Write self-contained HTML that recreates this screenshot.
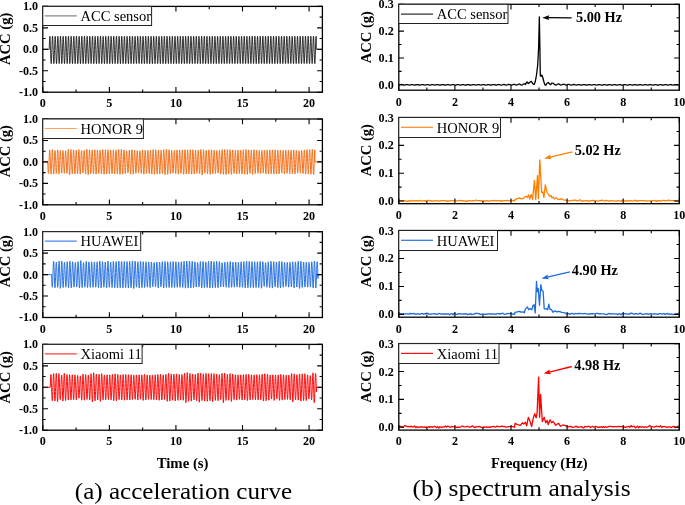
<!DOCTYPE html>
<html><head><meta charset="utf-8"><style>
html,body{margin:0;padding:0;background:#fff;}
svg{display:block;will-change:transform;}
text{font-family:"Liberation Serif", serif;fill:#000;}
.cap{font-family:"Liberation Serif", serif;}
</style></head><body>
<svg width="685" height="505" viewBox="0 0 685 505">
<polyline points="42.80,49.30 49.19,49.30 49.22,48.87 49.37,44.26 49.50,40.83 49.60,38.61 49.74,36.74 49.90,36.30 49.99,36.89 50.17,39.73 50.30,43.03 50.41,46.48 50.54,50.47 50.67,54.64 50.80,58.36 50.95,61.48 51.08,63.24 51.22,63.64 51.37,62.37 51.50,60.19 51.62,57.12 51.77,52.53 51.87,49.57 52.00,45.44 52.15,41.04 52.26,38.79 52.39,36.87 52.55,36.24 52.68,37.16 52.83,39.84 52.95,42.78 53.08,46.55 53.21,50.80 53.33,54.59 53.45,58.03 53.59,61.24 53.75,63.32 53.86,63.67 54.00,62.79 54.12,61.05 54.29,56.81 54.39,53.93 54.53,49.48 54.70,44.29 54.81,41.18 54.96,38.04 55.08,36.59 55.22,36.28 55.32,36.94 55.48,39.41 55.61,42.60 55.76,47.15 55.87,50.57 56.01,55.15 56.12,58.10 56.27,61.43 56.40,63.16 56.52,63.67 56.69,62.50 56.80,60.65 56.97,56.59 57.08,53.21 57.21,48.90 57.35,44.67 57.48,40.96 57.59,38.69 57.74,36.67 57.86,36.22 58.00,37.12 58.12,38.94 58.30,43.28 58.39,46.06 58.55,51.10 58.66,54.68 58.82,59.18 58.95,61.68 59.05,63.07 59.22,63.59 59.36,62.41 59.49,60.06 59.61,57.20 59.72,53.95 59.85,49.61 60.02,44.21 60.14,41.12 60.25,38.66 60.42,36.50 60.54,36.26 60.67,37.22 60.79,39.23 60.93,42.46 61.05,46.10 61.18,50.01 61.35,55.59 61.46,58.65 61.60,61.58 61.72,63.16 61.88,63.61 61.97,62.99 62.13,60.66 62.24,57.97 62.38,53.98 62.56,48.28 62.67,44.64 62.79,41.29 62.93,38.33 63.08,36.50 63.19,36.23 63.34,37.24 63.47,39.57 63.59,42.38 63.73,46.56 63.88,51.26 64.02,55.65 64.11,58.22 64.29,61.92 64.37,63.00 64.54,63.61 64.68,62.50 64.78,60.91 64.92,57.42 65.08,52.83 65.17,49.92 65.33,44.68 65.48,40.81 65.59,38.34 65.74,36.56 65.85,36.22 65.98,37.00 66.12,39.22 66.24,42.13 66.38,46.27 66.55,51.58 66.66,55.11 66.78,58.48 66.91,61.32 67.08,63.41 67.19,63.65 67.35,62.38 67.46,60.50 67.59,57.27 67.75,52.69 67.87,48.66 67.99,44.76 68.12,41.29 68.28,38.02 68.39,36.69 68.55,36.31 68.63,36.92 68.79,39.29 68.92,42.62 69.08,47.29 69.18,50.38 69.34,55.48 69.46,58.93 69.60,61.73 69.73,63.29 69.88,63.57 69.98,62.81 70.12,60.63 70.24,57.73 70.36,54.10 70.51,49.58 70.68,44.23 70.80,40.75 70.90,38.72 71.06,36.60 71.18,36.24 71.32,37.24 71.46,39.54 71.58,42.31 71.74,47.31 71.85,50.75 71.99,55.20 72.13,58.87 72.23,61.23 72.36,63.03 72.51,63.65 72.66,62.53 72.80,60.17 72.93,56.96 73.03,54.00 73.21,48.37 73.33,44.41 73.47,40.70 73.58,38.33 73.74,36.49 73.82,36.22 73.96,36.90 74.09,38.86 74.24,42.23 74.37,46.11 74.50,50.27 74.65,55.10 74.76,58.07 74.92,61.62 75.03,63.09 75.19,63.62 75.29,62.99 75.44,60.73 75.60,56.65 75.71,53.29 75.86,48.55 75.99,44.64 76.12,41.05 76.23,38.65 76.38,36.62 76.49,36.22 76.66,37.38 76.80,39.89 76.93,43.11 77.02,45.78 77.17,50.53 77.30,54.70 77.42,58.17 77.58,61.65 77.73,63.36 77.83,63.66 78.00,62.46 78.13,60.19 78.22,57.83 78.39,52.91 78.53,48.42 78.63,45.38 78.78,41.10 78.92,38.23 79.05,36.60 79.15,36.22 79.32,37.28 79.45,39.51 79.59,43.07 79.72,47.04 79.83,50.51 79.99,55.35 80.13,59.17 80.26,61.88 80.35,63.08 80.48,63.67 80.65,62.61 80.76,60.83 80.91,57.21 81.06,52.61 81.17,49.29 81.29,45.29 81.44,41.25 81.58,38.21 81.68,36.83 81.83,36.23 81.95,36.96 82.11,39.55 82.25,43.08 82.36,46.32 82.50,50.58 82.64,55.06 82.75,58.31 82.89,61.30 83.03,63.16 83.17,63.65 83.28,62.96 83.45,60.24 83.57,57.18 83.69,53.69 83.81,49.81 83.98,44.47 84.08,41.69 84.21,38.70 84.35,36.82 84.48,36.22 84.66,37.45 84.75,39.12 84.89,42.31 85.05,47.09 85.17,51.01 85.28,54.49 85.43,58.61 85.59,61.88 85.69,63.19 85.84,63.62 85.94,62.95 86.11,60.27 86.25,56.89 86.38,52.81 86.51,48.78 86.62,45.10 86.74,41.79 86.90,38.34 87.04,36.54 87.15,36.22 87.28,37.04 87.43,39.41 87.58,42.95 87.72,47.20 87.81,50.16 87.95,54.49 88.11,59.09 88.24,61.67 88.37,63.33 88.52,63.56 88.65,62.41 88.78,60.13 88.91,56.89 89.02,53.53 89.17,48.84 89.28,45.40 89.44,40.85 89.57,38.12 89.70,36.56 89.82,36.24 89.95,37.10 90.09,39.28 90.20,41.92 90.38,47.11 90.49,50.88 90.62,54.82 90.76,58.76 90.90,61.73 91.02,63.19 91.18,63.60 91.31,62.42 91.42,60.64 91.54,57.82 91.70,52.92 91.85,48.23 91.94,45.46 92.10,40.91 92.24,38.06 92.38,36.49 92.47,36.22 92.60,36.94 92.78,39.92 92.87,42.04 93.00,45.99 93.16,50.93 93.28,54.91 93.43,59.02 93.54,61.24 93.71,63.40 93.81,63.67 93.97,62.53 94.06,60.98 94.22,57.34 94.33,54.13 94.48,49.40 94.61,45.19 94.76,40.90 94.88,38.39 95.00,36.86 95.18,36.32 95.31,37.44 95.44,39.84 95.54,42.22 95.68,46.35 95.80,50.34 95.93,54.39 96.06,58.06 96.22,61.54 96.33,63.06 96.47,63.67 96.64,62.47 96.75,60.54 96.87,57.75 97.02,53.07 97.14,49.48 97.28,44.85 97.40,41.48 97.55,38.34 97.69,36.59 97.82,36.25 97.94,37.11 98.10,39.69 98.23,43.14 98.33,46.00 98.46,50.18 98.59,54.37 98.77,59.32 98.90,61.92 99.00,63.12 99.17,63.57 99.26,62.88 99.41,60.51 99.55,57.30 99.70,52.66 99.79,49.87 99.94,45.19 100.08,41.06 100.19,38.77 100.33,36.77 100.48,36.24 100.63,37.44 100.76,39.66 100.89,43.07 101.02,46.97 101.15,51.16 101.29,55.55 101.42,58.93 101.56,61.75 101.67,63.15 101.79,63.67 101.96,62.54 102.06,60.88 102.23,56.68 102.35,53.20 102.47,49.38 102.63,44.20 102.72,41.66 102.87,38.34 102.99,36.84 103.17,36.32 103.28,37.23 103.42,39.71 103.53,42.27 103.69,47.04 103.82,51.15 103.95,55.23 104.10,59.28 104.20,61.47 104.33,63.20 104.48,63.62 104.62,62.48 104.73,60.70 104.88,57.05 104.99,53.84 105.14,48.99 105.28,44.46 105.38,41.78 105.55,38.15 105.64,36.88 105.83,36.31 105.93,37.16 106.06,39.27 106.21,42.91 106.34,46.57 106.48,51.20 106.58,54.32 106.74,58.78 106.87,61.59 107.02,63.41 107.11,63.67 107.27,62.74 107.41,60.38 107.54,57.23 107.64,54.06 107.81,48.92 107.92,45.34 108.05,41.60 108.22,38.02 108.32,36.79 108.46,36.24 108.61,37.34 108.74,39.60 108.87,42.67 109.01,47.04 109.13,50.75 109.27,55.19 109.42,59.11 109.54,61.70 109.67,63.30 109.79,63.65 109.93,62.67 110.06,60.63 110.21,56.94 110.32,53.56 110.46,49.14 110.61,44.48 110.73,41.19 110.85,38.50 111.01,36.52 111.12,36.23 111.28,37.41 111.41,39.69 111.53,42.51 111.67,46.89 111.77,50.00 111.92,54.82 112.08,59.16 112.20,61.61 112.33,63.26 112.47,63.62 112.60,62.59 112.73,60.43 112.86,57.41 112.98,53.88 113.12,49.44 113.25,45.22 113.39,41.29 113.55,37.91 113.65,36.71 113.79,36.24 113.92,37.10 114.06,39.46 114.22,43.25 114.35,47.18 114.45,50.59 114.58,54.62 114.74,59.19 114.86,61.53 115.00,63.32 115.10,63.67 115.28,62.46 115.38,60.72 115.52,57.31 115.64,53.86 115.78,49.22 115.94,44.37 116.07,40.77 116.19,38.38 116.34,36.54 116.45,36.24 116.58,37.10 116.72,39.42 116.84,42.16 116.98,46.22 117.13,51.16 117.27,55.43 117.36,58.09 117.53,61.74 117.67,63.37 117.78,63.65 117.90,62.97 118.06,60.32 118.17,57.67 118.33,53.12 118.45,49.29 118.59,44.67 118.71,41.52 118.85,38.37 118.99,36.64 119.12,36.26 119.23,37.00 119.41,39.89 119.51,42.28 119.64,46.21 119.77,50.39 119.89,54.30 120.05,58.59 120.20,61.78 120.33,63.33 120.43,63.67 120.56,62.92 120.71,60.71 120.86,56.90 120.98,53.38 121.14,48.35 121.26,44.64 121.39,41.03 121.53,38.11 121.66,36.55 121.77,36.23 121.90,37.03 122.04,39.30 122.18,42.57 122.29,45.93 122.44,50.70 122.59,55.22 122.69,58.20 122.83,61.19 122.96,63.09 123.10,63.66 123.27,62.39 123.35,61.02 123.49,57.75 123.63,53.91 123.78,49.13 123.88,45.68 124.04,41.25 124.16,38.67 124.30,36.75 124.46,36.28 124.56,36.99 124.72,39.50 124.84,42.45 124.97,46.39 125.13,51.35 125.22,54.45 125.40,59.24 125.53,61.88 125.65,63.31 125.75,63.67 125.92,62.60 126.05,60.41 126.19,56.90 126.29,53.83 126.46,48.30 126.59,44.28 126.69,41.72 126.83,38.53 126.95,36.87 127.12,36.29 127.26,37.46 127.40,39.92 127.51,42.75 127.65,46.81 127.78,51.11 127.91,55.11 128.06,59.28 128.18,61.63 128.30,63.17 128.44,63.64 128.54,62.99 128.72,60.27 128.85,57.01 128.97,53.49 129.12,48.48 129.25,44.48 129.36,41.41 129.48,38.76 129.62,36.82 129.75,36.22 129.89,37.06 130.03,39.31 130.19,43.22 130.29,46.16 130.46,51.49 130.58,55.29 130.72,59.16 130.83,61.44 130.94,63.00 131.12,63.60 131.22,62.86 131.35,60.90 131.52,56.86 131.64,53.05 131.75,49.58 131.89,45.26 132.06,40.62 132.15,38.57 132.31,36.56 132.41,36.22 132.58,37.39 132.68,38.96 132.83,42.61 132.94,45.76 133.10,50.89 133.25,55.55 133.34,58.13 133.48,61.32 133.64,63.35 133.77,63.63 133.89,62.82 134.04,60.38 134.16,57.37 134.32,52.75 134.42,49.44 134.58,44.48 134.70,41.01 134.84,38.14 134.96,36.70 135.11,36.27 135.24,37.31 135.35,39.24 135.47,41.91 135.65,47.31 135.77,51.17 135.88,54.52 136.04,59.00 136.15,61.33 136.29,63.23 136.45,63.59 136.56,62.74 136.68,60.75 136.82,57.58 136.94,54.06 137.08,49.56 137.21,45.26 137.34,41.63 137.47,38.77 137.62,36.66 137.74,36.22 137.90,37.34 138.05,39.85 138.14,42.26 138.29,46.65 138.42,50.82 138.53,54.31 138.67,58.19 138.84,61.88 138.95,63.23 139.11,63.60 139.20,62.96 139.36,60.42 139.51,56.76 139.64,52.74 139.73,49.93 139.89,44.86 140.01,41.37 140.17,38.12 140.26,36.85 140.41,36.22 140.57,37.39 140.69,39.33 140.82,42.52 140.98,47.32 141.08,50.50 141.19,54.25 141.35,58.55 141.47,61.20 141.60,63.04 141.76,63.64 141.91,62.40 142.02,60.43 142.16,57.08 142.27,53.65 142.42,48.96 142.56,44.49 142.69,41.07 142.83,38.08 142.95,36.63 143.07,36.22 143.22,37.23 143.35,39.36 143.46,42.11 143.62,46.73 143.77,51.35 143.86,54.41 144.02,58.75 144.16,61.75 144.28,63.20 144.40,63.66 144.54,62.79 144.68,60.48 144.82,57.03 144.95,53.26 145.06,49.76 145.23,44.38 145.37,40.64 145.46,38.74 145.60,36.76 145.73,36.22 145.90,37.41 146.03,39.83 146.12,41.94 146.27,46.25 146.40,50.28 146.54,54.95 146.70,59.24 146.79,61.12 146.93,63.09 147.08,63.65 147.21,62.69 147.36,60.25 147.47,57.39 147.59,53.95 147.74,49.33 147.90,44.13 148.02,40.86 148.12,38.72 148.29,36.52 148.40,36.23 148.56,37.37 148.65,38.85 148.83,43.14 148.92,45.97 149.07,50.73 149.22,55.26 149.34,58.70 149.46,61.21 149.59,63.07 149.73,63.66 149.85,62.97 149.99,60.83 150.12,57.83 150.27,53.42 150.40,49.33 150.54,44.75 150.66,41.49 150.78,38.80 150.93,36.72 151.09,36.28 151.19,37.03 151.33,39.26 151.48,42.96 151.60,46.37 151.76,51.47 151.89,55.66 151.99,58.44 152.15,61.75 152.26,63.13 152.38,63.67 152.53,62.75 152.67,60.41 152.83,56.65 152.92,53.95 153.08,48.72 153.20,44.93 153.32,41.69 153.49,37.94 153.61,36.57 153.71,36.22 153.89,37.45 153.98,38.94 154.11,42.00 154.26,46.25 154.42,51.56 154.51,54.24 154.69,59.24 154.81,61.64 154.91,63.03 155.07,63.64 155.20,62.73 155.34,60.45 155.48,56.95 155.61,53.06 155.76,48.23 155.85,45.45 156.01,40.78 156.13,38.44 156.28,36.53 156.42,36.30 156.56,37.52 156.65,39.11 156.79,42.52 156.95,47.27 157.09,51.57 157.19,54.79 157.35,59.27 157.46,61.45 157.59,63.18 157.74,63.61 157.86,62.73 157.99,60.58 158.12,57.46 158.26,53.47 158.38,49.70 158.50,45.60 158.67,40.86 158.80,38.29 158.94,36.58 159.08,36.29 159.18,37.02 159.31,39.08 159.45,42.27 159.58,46.20 159.74,51.25 159.85,54.79 159.98,58.46 160.13,61.66 160.24,63.10 160.37,63.67 160.54,62.58 160.67,60.23 160.78,57.59 160.93,53.13 161.03,49.88 161.19,45.04 161.33,41.09 161.44,38.59 161.58,36.71 161.73,36.26 161.86,37.24 161.97,39.00 162.13,42.89 162.23,45.83 162.41,51.61 162.51,54.52 162.64,58.36 162.77,61.25 162.95,63.43 163.04,63.66 163.19,62.64 163.35,59.96 163.48,56.63 163.56,54.12 163.72,49.05 163.86,44.73 164.00,40.93 164.11,38.51 164.24,36.72 164.36,36.22 164.49,36.91 164.66,39.42 164.76,41.98 164.90,46.03 165.04,50.52 165.16,54.30 165.29,58.06 165.47,61.91 165.58,63.21 165.70,63.67 165.86,62.57 165.96,61.04 166.10,57.67 166.27,52.58 166.40,48.40 166.52,44.67 166.63,41.74 166.77,38.52 166.89,36.87 167.03,36.22 167.16,36.90 167.30,38.97 167.46,42.78 167.56,45.87 167.70,50.21 167.87,55.64 167.97,58.47 168.11,61.38 168.23,63.04 168.40,63.60 168.52,62.59 168.65,60.47 168.79,57.13 168.89,54.02 169.03,49.49 169.18,44.76 169.34,40.61 169.46,38.07 169.59,36.59 169.71,36.24 169.82,36.90 170.00,39.81 170.09,41.97 170.22,45.91 170.39,51.14 170.53,55.49 170.66,59.07 170.77,61.49 170.89,63.09 171.02,63.67 171.20,62.47 171.33,59.98 171.43,57.67 171.60,52.74 171.70,49.25 171.83,45.19 171.98,41.19 172.08,38.83 172.24,36.67 172.36,36.22 172.52,37.32 172.64,39.37 172.79,43.13 172.93,47.20 173.03,50.49 173.16,54.64 173.33,59.26 173.44,61.54 173.55,63.05 173.68,63.67 173.87,62.37 173.98,60.43 174.08,57.94 174.24,53.34 174.37,49.07 174.50,44.99 174.66,40.61 174.80,37.96 174.88,36.82 175.02,36.22 175.17,37.12 175.32,39.74 175.44,42.77 175.58,46.91 175.71,50.94 175.82,54.53 175.99,59.11 176.08,61.06 176.25,63.32 176.35,63.67 176.50,62.73 176.66,59.98 176.77,57.24 176.88,54.09 177.03,49.20 177.18,44.63 177.28,41.80 177.42,38.59 177.54,36.88 177.70,36.25 177.83,37.11 177.97,39.37 178.09,42.29 178.24,46.79 178.35,50.24 178.52,55.64 178.66,59.29 178.77,61.53 178.90,63.23 179.05,63.59 179.15,62.84 179.31,60.18 179.42,57.61 179.58,52.99 179.69,49.37 179.84,44.73 179.99,40.64 180.07,38.78 180.25,36.52 180.37,36.25 180.49,37.10 180.62,39.20 180.74,41.97 180.88,46.13 181.04,51.02 181.14,54.35 181.30,58.92 181.45,61.94 181.59,63.42 181.72,63.59 181.84,62.50 181.94,60.87 182.12,56.60 182.21,53.85 182.38,48.45 182.51,44.29 182.63,41.03 182.76,38.33 182.88,36.78 183.03,36.24 183.15,37.05 183.27,38.97 183.41,42.05 183.57,47.04 183.71,51.53 183.81,54.42 183.93,58.03 184.08,61.31 184.20,63.07 184.34,63.67 184.50,62.65 184.62,60.61 184.75,57.40 184.87,53.85 185.03,48.80 185.15,45.23 185.28,41.33 185.42,38.39 185.58,36.49 185.68,36.22 185.83,37.32 185.95,39.16 186.11,43.17 186.22,46.35 186.35,50.81 186.51,55.60 186.63,58.92 186.73,61.14 186.87,63.07 187.05,63.57 187.13,62.98 187.28,60.74 187.44,56.62 187.53,54.16 187.67,49.67 187.80,45.35 187.93,41.75 188.08,38.38 188.22,36.61 188.34,36.23 188.46,36.95 188.63,39.72 188.77,43.04 188.89,46.63 189.00,50.18 189.15,55.06 189.29,58.87 189.41,61.47 189.57,63.38 189.68,63.66 189.82,62.70 189.93,60.93 190.09,57.21 190.23,52.91 190.36,48.68 190.47,45.28 190.64,40.56 190.76,38.15 190.88,36.68 191.01,36.23 191.16,37.36 191.26,39.02 191.42,42.79 191.56,46.90 191.68,50.83 191.83,55.59 191.94,58.65 192.08,61.50 192.20,63.14 192.37,63.58 192.47,62.82 192.62,60.30 192.74,57.43 192.90,52.63 193.04,48.31 193.12,45.65 193.30,40.55 193.42,38.26 193.52,36.85 193.68,36.24 193.79,36.91 193.95,39.42 194.06,42.14 194.20,46.31 194.33,50.47 194.48,55.16 194.63,59.12 194.77,61.92 194.87,63.16 195.01,63.64 195.12,63.00 195.27,60.66 195.43,56.62 195.52,53.99 195.69,48.45 195.82,44.65 195.93,41.47 196.09,38.10 196.20,36.74 196.36,36.30 196.45,36.93 196.59,38.96 196.75,42.96 196.87,46.44 196.99,50.20 197.14,55.02 197.26,58.42 197.41,61.58 197.55,63.34 197.69,63.59 197.78,62.97 197.94,60.42 198.10,56.58 198.20,53.42 198.35,48.62 198.45,45.54 198.62,40.71 198.74,38.28 198.89,36.50 199.02,36.28 199.16,37.43 199.25,38.90 199.41,42.90 199.52,46.03 199.66,50.40 199.79,54.71 199.94,58.81 200.08,61.65 200.22,63.41 200.31,63.67 200.45,62.89 200.59,60.67 200.75,56.83 200.87,53.27 201.00,49.06 201.15,44.48 201.27,40.99 201.39,38.55 201.51,36.84 201.66,36.24 201.82,37.44 201.94,39.47 202.04,41.95 202.20,46.43 202.33,50.61 202.47,55.13 202.60,58.81 202.76,61.93 202.86,63.17 202.99,63.65 203.14,62.63 203.28,60.08 203.41,57.00 203.53,53.41 203.68,48.54 203.80,44.91 203.95,40.59 204.05,38.56 204.18,36.82 204.35,36.29 204.45,37.05 204.61,39.76 204.73,42.75 204.86,46.54 204.97,50.09 205.14,55.45 205.24,58.10 205.42,61.94 205.55,63.39 205.65,63.66 205.77,62.93 205.95,60.08 206.06,57.33 206.17,53.98 206.33,49.08 206.45,45.30 206.59,41.32 206.73,38.22 206.88,36.49 207.01,36.28 207.11,36.98 207.26,39.34 207.39,42.58 207.55,47.35 207.64,50.09 207.79,55.01 207.95,59.23 208.05,61.44 208.18,63.13 208.33,63.64 208.45,62.82 208.61,60.04 208.70,57.89 208.84,53.85 208.97,49.80 209.13,44.55 209.24,41.47 209.41,38.00 209.54,36.49 209.68,36.31 209.77,37.03 209.89,38.84 210.05,42.42 210.21,47.31 210.33,51.26 210.43,54.28 210.60,58.96 210.74,61.90 210.88,63.42 211.00,63.62 211.14,62.46 211.27,60.14 211.38,57.50 211.50,54.02 211.66,48.69 211.77,45.48 211.91,41.35 212.08,37.92 212.19,36.62 212.32,36.24 212.47,37.48 212.57,39.13 212.74,43.33 212.87,47.22 212.98,50.57 213.11,54.72 213.23,58.19 213.40,61.90 213.50,63.10 213.62,63.67 213.80,62.44 213.92,60.41 214.06,57.05 214.19,52.97 214.29,49.87 214.43,45.55 214.58,41.19 214.69,38.79 214.85,36.64 214.99,36.27 215.12,37.28 215.25,39.50 215.36,41.94 215.50,46.09 215.67,51.49 215.76,54.39 215.91,58.74 216.02,61.10 216.20,63.41 216.29,63.67 216.44,62.76 216.58,60.47 216.72,56.98 216.87,52.62 216.99,48.68 217.10,45.14 217.22,41.77 217.39,38.16 217.54,36.47 217.62,36.22 217.79,37.36 217.89,39.02 218.04,42.53 218.18,46.57 218.32,51.00 218.47,55.77 218.59,58.94 218.70,61.43 218.85,63.33 218.97,63.65 219.10,62.76 219.23,60.67 219.37,57.31 219.50,53.72 219.63,49.53 219.75,45.46 219.90,41.27 220.03,38.55 220.19,36.51 220.32,36.29 220.43,37.08 220.58,39.50 220.73,43.18 220.83,46.29 220.97,50.90 221.10,54.91 221.25,58.89 221.40,61.94 221.49,63.07 221.66,63.57 221.78,62.60 221.92,60.19 222.04,57.10 222.19,52.74 222.29,49.38 222.45,44.56 222.56,41.51 222.70,38.34 222.85,36.57 222.95,36.22 223.08,36.92 223.25,39.69 223.38,43.04 223.51,46.81 223.63,50.50 223.78,55.25 223.88,58.13 224.04,61.68 224.17,63.27 224.31,63.63 224.43,62.74 224.55,60.82 224.71,56.97 224.83,53.42 224.98,48.66 225.09,45.11 225.21,41.75 225.37,38.31 225.51,36.60 225.65,36.31 225.79,37.44 225.87,38.90 226.05,42.99 226.15,46.13 226.31,51.14 226.42,54.80 226.55,58.46 226.70,61.52 226.83,63.25 226.97,63.62 227.10,62.62 227.24,60.32 227.36,57.47 227.51,53.06 227.62,49.35 227.77,44.72 227.89,41.25 228.03,38.29 228.14,36.88 228.29,36.24 228.41,37.01 228.55,39.24 228.67,41.98 228.84,46.79 228.98,51.48 229.09,54.76 229.21,58.16 229.37,61.64 229.47,63.07 229.65,63.59 229.74,62.93 229.88,60.67 230.03,57.31 230.14,53.99 230.28,49.39 230.41,45.25 230.57,40.91 230.72,37.92 230.82,36.71 230.97,36.28 231.07,36.96 231.23,39.45 231.35,42.49 231.48,46.18 231.64,51.36 231.77,55.39 231.87,58.20 232.01,61.34 232.17,63.37 232.32,63.56 232.43,62.64 232.57,60.10 232.71,56.58 232.83,52.95 232.96,48.83 233.07,45.34 233.21,41.37 233.36,38.24 233.51,36.48 233.61,36.23 233.75,37.11 233.86,38.86 234.03,42.88 234.15,46.44 234.30,51.32 234.41,54.57 234.56,58.90 234.69,61.69 234.82,63.22 234.94,63.67 235.08,62.77 235.23,60.25 235.33,57.75 235.46,54.04 235.62,49.15 235.74,45.32 235.90,40.80 236.03,38.07 236.17,36.48 236.30,36.29 236.42,37.28 236.53,39.03 236.70,43.06 236.83,46.91 236.96,51.23 237.09,55.31 237.23,59.13 237.34,61.34 237.49,63.31 237.62,63.64 237.74,62.81 237.87,60.71 238.00,57.79 238.15,53.37 238.27,49.31 238.41,45.02 238.57,40.73 238.69,38.19 238.82,36.57 238.97,36.32 239.06,37.01 239.21,39.37 239.32,42.00 239.47,46.35 239.64,51.58 239.72,54.33 239.89,59.03 240.03,61.86 240.14,63.24 240.29,63.60 240.41,62.74 240.54,60.68 240.68,57.29 240.79,53.86 240.93,49.41 241.07,45.20 241.24,40.56 241.33,38.51 241.46,36.77 241.63,36.31 241.72,36.96 241.90,39.90 242.03,43.11 242.15,46.78 242.27,50.68 242.39,54.51 242.52,58.16 242.65,61.15 242.80,63.17 242.94,63.65 243.10,62.42 243.21,60.48 243.37,56.57 243.48,52.99 243.59,49.69 243.74,44.80 243.85,41.65 243.98,38.80 244.16,36.48 244.26,36.23 244.39,36.99 244.52,38.94 244.68,42.81 244.80,46.46 244.91,49.96 245.08,55.34 245.19,58.37 245.35,61.79 245.47,63.24 245.61,63.64 245.73,62.73 245.88,60.33 246.03,56.57 246.15,52.86 246.25,49.82 246.40,44.90 246.52,41.55 246.65,38.73 246.79,36.79 246.92,36.22 247.09,37.49 247.21,39.64 247.35,43.11 247.48,46.86 247.59,50.49 247.73,54.82 247.86,58.61 247.99,61.34 248.13,63.21 248.28,63.61 248.38,62.96 248.52,60.76 248.66,57.33 248.81,53.06 248.94,48.83 249.08,44.53 249.18,41.73 249.31,38.66 249.45,36.73 249.59,36.22 249.74,37.35 249.89,39.93 250.01,42.86 250.11,45.76 250.25,50.46 250.41,55.48 250.55,59.25 250.67,61.62 250.79,63.17 250.92,63.66 251.07,62.62 251.21,60.11 251.32,57.53 251.45,53.87 251.57,49.94 251.71,45.48 251.88,40.73 252.00,38.24 252.15,36.46 252.24,36.22 252.39,37.10 252.54,39.70 252.67,42.82 252.77,45.81 252.92,50.64 253.07,55.22 253.20,58.94 253.32,61.49 253.44,63.10 253.62,63.57 253.72,62.73 253.87,60.28 253.99,57.25 254.10,54.05 254.24,49.54 254.37,45.60 254.51,41.61 254.64,38.64 254.79,36.68 254.91,36.23 255.05,37.09 255.21,39.72 255.30,41.90 255.43,45.87 255.61,51.33 255.72,55.05 255.85,58.61 255.98,61.31 256.12,63.26 256.24,63.67 256.41,62.47 256.54,60.16 256.64,57.56 256.76,54.15 256.94,48.42 257.04,45.21 257.19,40.99 257.34,38.03 257.47,36.53 257.61,36.30 257.72,37.17 257.87,39.75 257.98,42.53 258.11,46.14 258.25,50.77 258.38,54.73 258.53,59.04 258.67,61.83 258.77,63.07 258.90,63.67 259.04,62.78 259.18,60.56 259.34,56.62 259.47,52.61 259.61,48.28 259.73,44.52 259.86,40.96 259.97,38.57 260.11,36.70 260.22,36.22 260.40,37.40 260.50,39.12 260.63,41.99 260.77,46.22 260.91,50.50 261.06,55.35 261.15,58.02 261.30,61.28 261.47,63.39 261.60,63.59 261.72,62.62 261.85,60.46 261.96,57.70 262.13,52.73 262.26,48.63 262.38,44.87 262.49,41.65 262.63,38.62 262.77,36.70 262.90,36.23 263.02,36.92 263.17,39.26 263.31,42.51 263.43,46.17 263.57,50.61 263.70,54.73 263.84,58.53 263.98,61.64 264.11,63.24 264.23,63.67 264.39,62.51 264.51,60.51 264.64,57.36 264.79,53.00 264.92,48.65 265.06,44.34 265.19,40.79 265.32,38.20 265.45,36.56 265.56,36.22 265.72,37.31 265.83,39.10 265.96,42.24 266.09,45.90 266.23,50.63 266.35,54.22 266.51,58.90 266.65,61.76 266.79,63.35 266.89,63.67 267.05,62.62 267.19,60.14 267.28,57.96 267.42,53.87 267.56,49.48 267.70,44.95 267.82,41.64 267.97,38.32 268.10,36.72 268.25,36.26 268.37,37.20 268.51,39.57 268.62,42.22 268.78,46.88 268.92,51.21 269.05,55.35 269.15,58.11 269.33,61.93 269.44,63.27 269.56,63.66 269.70,62.75 269.84,60.50 269.97,57.27 270.09,53.78 270.22,49.49 270.36,45.11 270.52,40.83 270.63,38.41 270.74,36.87 270.90,36.24 271.02,37.00 271.14,38.85 271.33,43.30 271.42,46.19 271.57,50.87 271.69,54.77 271.81,58.09 271.99,61.89 272.12,63.41 272.22,63.67 272.36,62.76 272.49,60.66 272.61,57.78 272.77,53.09 272.91,48.60 273.04,44.48 273.17,40.96 273.27,38.82 273.42,36.77 273.56,36.24 273.71,37.31 273.82,39.24 273.96,42.51 274.11,47.10 274.20,49.98 274.35,54.62 274.48,58.41 274.65,61.97 274.75,63.12 274.87,63.67 275.02,62.76 275.17,60.35 275.28,57.80 275.45,52.79 275.54,49.60 275.70,44.56 275.81,41.65 275.98,38.01 276.08,36.78 276.24,36.27 276.38,37.41 276.48,39.10 276.60,42.00 276.76,46.67 276.89,50.80 277.02,54.96 277.17,59.06 277.29,61.50 277.42,63.24 277.56,63.65 277.69,62.74 277.82,60.62 277.94,57.79 278.08,53.70 278.21,49.49 278.34,45.30 278.50,40.82 278.60,38.72 278.74,36.78 278.89,36.25 279.01,37.06 279.14,39.09 279.28,42.40 279.42,46.53 279.56,51.11 279.71,55.75 279.84,59.15 279.95,61.47 280.08,63.22 280.22,63.65 280.34,62.87 280.51,60.01 280.60,57.92 280.74,53.85 280.89,48.80 281.02,44.75 281.14,41.49 281.31,37.97 281.41,36.69 281.56,36.25 281.66,36.94 281.84,39.81 281.93,42.02 282.08,46.35 282.24,51.47 282.37,55.70 282.51,59.22 282.63,61.83 282.74,63.12 282.86,63.67 283.01,62.74 283.13,60.99 283.31,56.62 283.39,54.17 283.54,49.38 283.67,45.37 283.79,41.86 283.95,38.35 284.06,36.85 284.24,36.30 284.36,37.30 284.47,39.22 284.63,43.09 284.76,47.03 284.87,50.51 285.03,55.55 285.17,59.25 285.29,61.64 285.41,63.17 285.57,63.58 285.70,62.41 285.80,60.69 285.92,57.89 286.10,52.74 286.22,48.80 286.33,45.32 286.48,41.10 286.60,38.53 286.77,36.49 286.87,36.23 286.99,37.00 287.12,38.88 287.27,42.36 287.44,47.35 287.53,50.32 287.67,54.93 287.83,59.31 287.92,61.06 288.06,63.15 288.23,63.60 288.32,62.95 288.50,60.04 288.63,56.81 288.72,53.95 288.88,48.92 289.01,44.80 289.15,40.94 289.26,38.53 289.40,36.70 289.53,36.22 289.66,37.05 289.79,39.02 289.96,43.19 290.09,47.18 290.20,50.56 290.35,55.31 290.47,58.68 290.59,61.33 290.73,63.17 290.90,63.57 291.00,62.81 291.14,60.43 291.29,56.64 291.39,53.69 291.55,48.55 291.65,45.51 291.82,40.89 291.95,38.08 292.09,36.51 292.23,36.32 292.35,37.32 292.49,39.91 292.59,42.27 292.74,46.57 292.85,50.31 292.98,54.32 293.13,58.61 293.28,61.73 293.42,63.35 293.51,63.67 293.69,62.41 293.79,60.79 293.92,57.60 294.08,52.80 294.22,48.40 294.35,44.51 294.46,41.42 294.60,38.39 294.75,36.52 294.86,36.23 295.02,37.38 295.15,39.68 295.26,42.54 295.42,47.20 295.53,50.61 295.68,55.40 295.81,58.88 295.92,61.38 296.07,63.25 296.20,63.63 296.33,62.68 296.44,60.94 296.62,56.57 296.75,52.57 296.84,49.88 297.02,44.19 297.13,41.15 297.24,38.71 297.41,36.52 297.53,36.24 297.67,37.32 297.81,39.73 297.93,42.64 298.04,45.78 298.21,51.36 298.34,55.31 298.48,59.23 298.58,61.32 298.74,63.35 298.88,63.59 298.99,62.80 299.12,60.62 299.25,57.54 299.37,54.18 299.51,49.54 299.65,45.16 299.77,41.72 299.94,38.11 300.05,36.68 300.20,36.25 300.31,37.05 300.45,39.21 300.60,42.96 300.72,46.48 300.86,50.97 300.99,54.87 301.13,58.77 301.28,61.89 301.38,63.13 301.52,63.64 301.67,62.59 301.77,60.96 301.95,56.61 302.06,53.36 302.18,49.52 302.34,44.47 302.47,40.78 302.60,38.23 302.74,36.49 302.83,36.22 302.99,37.20 303.13,39.64 303.28,43.20 303.39,46.77 303.53,50.98 303.65,54.82 303.79,58.79 303.92,61.58 304.07,63.40 304.20,63.60 304.33,62.55 304.47,60.04 304.56,57.92 304.73,52.91 304.85,49.14 305.00,44.49 305.11,41.47 305.25,38.38 305.40,36.52 305.49,36.22 305.64,37.05 305.78,39.35 305.94,43.11 306.04,46.15 306.20,51.36 306.30,54.58 306.44,58.43 306.59,61.58 306.72,63.30 306.87,63.59 307.00,62.45 307.10,60.79 307.26,56.94 307.39,53.13 307.51,49.28 307.66,44.45 307.80,40.68 307.91,38.37 308.07,36.49 308.16,36.22 308.30,36.98 308.46,39.66 308.57,42.31 308.72,46.67 308.85,50.80 308.96,54.42 309.13,59.03 309.26,61.75 309.36,63.07 309.50,63.66 309.66,62.51 309.80,60.05 309.93,56.75 310.04,53.35 310.17,49.31 310.31,44.98 310.43,41.63 310.58,38.36 310.70,36.77 310.83,36.22 310.97,37.11 311.09,38.90 311.24,42.54 311.39,46.86 311.52,51.07 311.67,55.75 311.80,59.20 311.92,61.66 312.06,63.39 312.17,63.65 312.32,62.51 312.43,60.75 312.58,57.26 312.73,52.55 312.85,48.91 312.97,44.88 313.12,40.82 313.23,38.53 313.39,36.52 313.48,36.22 313.63,37.02 313.76,39.02 313.89,42.24 314.06,47.28 314.15,49.98 314.29,54.67 314.44,58.79 314.58,61.72 314.72,63.35 314.83,63.66 314.96,62.88 315.12,60.12 315.22,57.84 315.35,54.08 315.49,49.54 315.64,44.90 315.79,40.62 315.91,38.15 316.04,36.62 316.17,36.24 316.28,49.30 322.40,49.30" fill="none" stroke="#000000" stroke-width="0.8" stroke-linejoin="round"/>
<rect x="42.80" y="6.40" width="279.60" height="85.80" fill="none" stroke="#000" stroke-width="1.3"/>
<path d="M42.80 92.20v-5.2M42.80 6.40v5.2M109.37 92.20v-5.2M109.37 6.40v5.2M175.94 92.20v-5.2M175.94 6.40v5.2M242.51 92.20v-5.2M242.51 6.40v5.2M309.09 92.20v-5.2M309.09 6.40v5.2M76.09 92.20v-2.8M76.09 6.40v2.8M142.66 92.20v-2.8M142.66 6.40v2.8M209.23 92.20v-2.8M209.23 6.40v2.8M275.80 92.20v-2.8M275.80 6.40v2.8M42.80 6.40h5.2M322.40 6.40h-5.2M42.80 27.85h5.2M322.40 27.85h-5.2M42.80 49.30h5.2M322.40 49.30h-5.2M42.80 70.75h5.2M322.40 70.75h-5.2M42.80 92.20h5.2M322.40 92.20h-5.2M42.80 17.12h2.8M322.40 17.12h-2.8M42.80 38.57h2.8M322.40 38.57h-2.8M42.80 60.02h2.8M322.40 60.02h-2.8M42.80 81.48h2.8M322.40 81.48h-2.8" stroke="#000" stroke-width="1.1" fill="none"/>
<rect x="42.80" y="6.40" width="108.80" height="19.10" fill="#fff" stroke="#222" stroke-width="1"/>
<line x1="44.8" x2="76.8" y1="15.90" y2="15.90" stroke="#8a8a8a" stroke-width="1.2"/>
<text x="80.60" y="20.90" font-size="14.5" font-weight="normal" text-anchor="start" >ACC sensor</text>
<text transform="translate(38.10 10.30) scale(0.93 1)" font-size="13.0" font-weight="bold" text-anchor="end">1.0</text>
<text transform="translate(38.10 31.75) scale(0.93 1)" font-size="13.0" font-weight="bold" text-anchor="end">0.5</text>
<text transform="translate(38.10 53.20) scale(0.93 1)" font-size="13.0" font-weight="bold" text-anchor="end">0.0</text>
<text transform="translate(38.10 74.65) scale(0.93 1)" font-size="13.0" font-weight="bold" text-anchor="end">-0.5</text>
<text transform="translate(38.10 96.10) scale(0.93 1)" font-size="13.0" font-weight="bold" text-anchor="end">-1.0</text>
<text transform="translate(42.80 107.20) scale(0.93 1)" font-size="13.0" font-weight="bold" text-anchor="middle">0</text>
<text transform="translate(109.37 107.20) scale(0.93 1)" font-size="13.0" font-weight="bold" text-anchor="middle">5</text>
<text transform="translate(175.94 107.20) scale(0.93 1)" font-size="13.0" font-weight="bold" text-anchor="middle">10</text>
<text transform="translate(242.51 107.20) scale(0.93 1)" font-size="13.0" font-weight="bold" text-anchor="middle">15</text>
<text transform="translate(309.09 107.20) scale(0.93 1)" font-size="13.0" font-weight="bold" text-anchor="middle">20</text>
<polyline points="42.80,161.90 47.73,161.90 47.76,162.91 47.89,166.36 48.01,169.15 48.13,171.43 48.27,173.12 48.43,173.55 48.56,172.71 48.70,170.61 48.79,168.68 48.97,164.12 49.08,161.18 49.24,156.79 49.36,154.06 49.49,151.68 49.63,150.16 49.76,149.97 49.89,150.93 50.00,152.46 50.16,155.80 50.27,158.96 50.39,162.32 50.53,166.15 50.68,169.89 50.80,172.19 50.96,173.91 51.06,174.13 51.19,173.43 51.37,170.58 51.47,168.38 51.61,164.52 51.73,161.11 51.86,157.31 52.01,153.72 52.16,150.90 52.26,149.87 52.43,149.54 52.57,150.81 52.68,152.68 52.80,155.49 52.93,158.96 53.06,162.82 53.20,166.86 53.36,170.74 53.45,172.32 53.63,174.07 53.75,174.04 53.85,173.26 53.99,171.21 54.16,167.41 54.29,163.90 54.40,160.68 54.56,156.36 54.66,154.12 54.81,151.66 54.92,150.56 55.08,150.46 55.19,151.27 55.32,153.31 55.49,156.87 55.61,159.91 55.75,163.68 55.89,167.17 56.01,169.93 56.12,171.80 56.28,173.29 56.39,173.41 56.53,172.46 56.67,170.30 56.79,167.82 56.92,164.41 57.08,159.89 57.22,156.20 57.33,153.58 57.47,151.24 57.59,150.00 57.74,149.86 57.88,151.04 58.03,153.69 58.11,155.70 58.29,160.65 58.43,164.69 58.53,167.41 58.68,170.96 58.82,173.13 58.94,174.05 59.06,173.97 59.21,172.54 59.36,169.88 59.45,167.71 59.60,163.59 59.71,160.52 59.89,155.87 60.02,153.12 60.11,151.64 60.28,150.31 60.41,150.55 60.51,151.51 60.67,154.04 60.81,157.26 60.93,160.23 61.07,164.03 61.23,167.96 61.34,170.32 61.47,172.19 61.58,173.09 61.71,173.15 61.88,171.58 62.01,169.37 62.15,166.21 62.27,163.09 62.40,159.51 62.53,156.20 62.68,153.20 62.79,151.54 62.93,150.48 63.06,150.64 63.21,152.05 63.32,153.89 63.44,156.61 63.58,160.14 63.71,163.89 63.88,168.16 64.01,170.71 64.14,172.56 64.26,173.30 64.37,173.17 64.53,171.73 64.68,169.00 64.80,166.36 64.94,162.72 65.05,159.54 65.18,156.51 65.33,153.27 65.46,151.55 65.59,150.75 65.71,150.94 65.87,152.52 65.98,154.47 66.13,157.76 66.25,160.72 66.41,164.87 66.52,167.64 66.66,170.51 66.82,172.69 66.94,173.40 67.07,173.08 67.18,171.93 67.34,169.07 67.45,166.47 67.62,161.93 67.75,158.30 67.87,155.13 68.01,152.05 68.13,150.30 68.27,149.37 68.37,149.56 68.55,151.63 68.67,154.18 68.77,156.73 68.91,160.81 69.06,165.44 69.20,169.41 69.30,171.68 69.48,174.25 69.58,174.77 69.75,174.03 69.87,172.32 69.99,169.82 70.11,166.50 70.23,163.03 70.37,159.10 70.53,154.75 70.67,151.82 70.81,150.04 70.91,149.56 71.08,150.30 71.18,151.60 71.34,155.01 71.47,158.45 71.57,161.06 71.74,165.86 71.86,169.00 72.00,171.67 72.14,173.45 72.25,173.96 72.38,173.44 72.51,171.90 72.67,168.70 72.81,165.22 72.90,162.58 73.06,157.91 73.17,155.18 73.30,152.47 73.43,150.57 73.59,149.79 73.70,150.26 73.84,151.83 73.96,154.25 74.11,157.87 74.26,162.31 74.36,164.95 74.51,169.01 74.65,171.79 74.76,173.16 74.90,173.94 75.07,173.09 75.21,171.08 75.33,168.41 75.43,165.95 75.59,161.37 75.71,158.15 75.83,155.19 75.98,152.23 76.13,150.43 76.27,150.13 76.37,150.72 76.49,152.16 76.67,155.71 76.80,159.23 76.91,162.20 77.03,165.40 77.18,169.08 77.32,171.76 77.44,173.22 77.57,173.74 77.70,173.21 77.83,171.51 77.95,169.16 78.10,165.56 78.27,160.77 78.35,158.44 78.52,154.09 78.66,151.49 78.77,150.13 78.91,149.61 79.03,150.19 79.18,152.37 79.32,155.34 79.45,158.97 79.57,162.50 79.73,167.06 79.86,170.18 79.98,172.36 80.12,173.86 80.23,174.13 80.40,172.94 80.51,171.08 80.66,167.83 80.76,165.19 80.93,160.46 81.02,158.13 81.17,154.43 81.28,152.43 81.42,150.89 81.59,150.58 81.68,151.19 81.83,153.20 81.95,155.65 82.12,159.74 82.21,162.14 82.36,165.84 82.52,169.38 82.65,171.43 82.78,172.74 82.93,172.93 83.01,172.46 83.18,170.27 83.32,167.45 83.45,164.13 83.58,160.60 83.68,157.99 83.81,154.79 83.98,151.74 84.11,150.51 84.22,150.23 84.34,150.85 84.50,153.08 84.61,155.37 84.78,159.71 84.89,162.85 85.05,167.18 85.14,169.49 85.30,172.41 85.41,173.69 85.58,174.05 85.70,173.11 85.82,171.34 85.99,167.43 86.11,164.14 86.22,160.75 86.38,156.16 86.49,153.47 86.65,150.47 86.75,149.43 86.92,149.25 87.01,149.92 87.18,152.67 87.29,155.29 87.43,159.30 87.57,163.76 87.67,166.82 87.81,170.55 87.94,173.02 88.11,174.70 88.21,174.74 88.36,173.47 88.49,171.32 88.61,168.28 88.78,163.45 88.89,160.17 89.04,156.23 89.17,153.05 89.31,150.78 89.41,149.87 89.54,149.73 89.69,150.99 89.81,152.92 89.93,155.71 90.11,160.56 90.23,163.86 90.35,167.08 90.47,169.82 90.64,172.60 90.76,173.60 90.87,173.67 91.05,172.12 91.18,169.79 91.31,166.69 91.44,163.23 91.56,159.93 91.68,156.69 91.83,153.24 91.94,151.46 92.10,150.05 92.20,150.02 92.33,150.98 92.50,153.78 92.61,156.41 92.77,160.52 92.90,164.41 93.04,168.01 93.16,170.71 93.31,172.98 93.43,173.90 93.58,173.66 93.71,172.25 93.80,170.74 93.94,167.43 94.08,163.62 94.21,160.01 94.34,156.46 94.51,152.60 94.59,151.15 94.74,149.81 94.90,149.94 95.00,150.97 95.14,153.28 95.31,157.42 95.43,160.89 95.55,164.28 95.66,167.50 95.81,170.76 95.98,173.37 96.10,174.11 96.19,173.97 96.36,172.28 96.48,170.16 96.63,166.50 96.74,163.45 96.86,159.92 96.99,156.50 97.14,153.20 97.30,150.81 97.44,150.07 97.56,150.44 97.69,151.97 97.80,153.82 97.94,157.09 98.10,161.44 98.24,165.18 98.34,167.79 98.50,170.93 98.64,172.85 98.77,173.56 98.87,173.33 99.02,171.77 99.14,169.65 99.28,166.45 99.41,162.87 99.53,159.45 99.65,156.32 99.83,152.62 99.96,150.81 100.10,150.03 100.19,150.24 100.33,151.60 100.48,154.36 100.63,158.07 100.74,161.08 100.86,164.43 101.02,168.47 101.17,171.63 101.30,173.34 101.43,174.01 101.54,173.66 101.66,172.31 101.83,169.14 101.96,165.87 102.09,162.00 102.20,158.88 102.33,155.47 102.46,152.57 102.63,150.18 102.76,149.54 102.87,149.92 103.03,151.89 103.13,154.03 103.27,157.49 103.41,161.51 103.52,164.87 103.66,168.57 103.79,171.51 103.93,173.49 104.07,174.35 104.18,174.01 104.35,171.91 104.45,169.88 104.60,166.14 104.75,162.02 104.85,158.94 105.00,155.03 105.14,152.07 105.27,150.29 105.42,149.66 105.55,150.33 105.65,151.56 105.82,154.98 105.94,158.03 106.08,161.99 106.18,164.99 106.33,168.87 106.48,171.81 106.62,173.53 106.75,174.02 106.85,173.59 107.02,171.46 107.14,169.00 107.28,165.45 107.42,161.39 107.53,158.29 107.69,154.24 107.82,151.71 107.95,150.18 108.06,149.72 108.20,150.35 108.32,151.80 108.48,155.14 108.62,158.81 108.71,161.50 108.88,166.16 109.01,169.44 109.11,171.43 109.29,173.70 109.40,174.05 109.52,173.48 109.64,171.98 109.81,168.45 109.92,165.62 110.06,161.60 110.18,158.35 110.34,154.47 110.46,152.10 110.61,150.29 110.74,149.96 110.87,150.78 110.98,152.26 111.11,154.69 111.28,159.17 111.42,162.97 111.54,166.17 111.68,169.70 111.81,171.92 111.93,173.37 112.06,173.78 112.19,173.12 112.33,171.23 112.45,168.81 112.59,165.16 112.73,161.31 112.83,158.31 112.99,154.49 113.11,152.00 113.27,150.21 113.41,149.89 113.53,150.70 113.67,152.69 113.80,155.51 113.91,158.48 114.05,162.45 114.21,166.85 114.35,170.18 114.44,171.92 114.56,173.48 114.75,173.96 114.88,172.95 115.00,171.10 115.14,167.91 115.26,164.67 115.41,160.40 115.51,157.68 115.65,154.13 115.80,151.46 115.91,150.25 116.07,149.88 116.18,150.61 116.33,152.96 116.47,156.04 116.58,159.04 116.75,163.67 116.86,166.79 117.00,170.11 117.09,171.87 117.23,173.57 117.40,173.98 117.54,172.82 117.66,170.94 117.81,167.57 117.90,165.21 118.07,160.08 118.21,156.39 118.33,153.48 118.45,151.19 118.60,149.62 118.70,149.41 118.86,150.53 118.99,152.76 119.12,155.67 119.24,158.95 119.36,162.51 119.50,166.72 119.67,170.92 119.77,172.78 119.89,174.24 120.04,174.58 120.18,173.42 120.32,171.10 120.47,167.52 120.60,163.75 120.74,159.61 120.87,156.00 120.98,153.34 121.10,151.16 121.27,149.46 121.37,149.43 121.52,150.70 121.63,152.60 121.80,156.42 121.90,159.22 122.04,163.46 122.16,166.92 122.33,170.89 122.45,172.90 122.59,174.09 122.70,174.13 122.83,173.14 123.00,170.28 123.13,167.21 123.26,163.57 123.40,159.35 123.51,156.38 123.63,153.73 123.78,151.06 123.90,150.03 124.04,149.99 124.17,151.15 124.31,153.48 124.47,157.05 124.59,160.53 124.70,163.69 124.86,167.78 124.99,170.71 125.12,172.64 125.24,173.54 125.40,173.31 125.51,172.21 125.62,170.39 125.76,167.28 125.92,163.29 126.03,160.10 126.17,156.67 126.30,153.86 126.42,151.98 126.55,150.91 126.68,150.86 126.85,152.29 126.96,154.15 127.10,157.14 127.26,161.09 127.38,164.07 127.52,167.44 127.65,169.97 127.80,171.96 127.88,172.62 128.03,172.71 128.20,171.26 128.30,169.52 128.46,166.03 128.55,163.66 128.68,160.27 128.86,155.75 128.97,153.45 129.10,151.28 129.26,150.16 129.35,150.26 129.53,151.93 129.63,153.75 129.76,156.64 129.89,160.23 130.04,164.50 130.17,168.05 130.32,171.54 130.41,172.95 130.54,174.14 130.68,174.11 130.84,172.49 130.98,169.76 131.10,166.84 131.24,162.86 131.37,158.93 131.47,156.19 131.62,152.81 131.79,150.20 131.89,149.57 132.06,150.00 132.17,151.29 132.28,153.49 132.41,156.42 132.55,160.48 132.69,164.54 132.83,168.33 132.96,171.31 133.10,173.37 133.23,174.18 133.34,173.97 133.48,172.46 133.65,169.16 133.74,167.09 133.91,162.35 134.03,158.96 134.17,155.22 134.29,152.84 134.42,150.88 134.56,150.05 134.72,150.63 134.82,151.85 134.94,154.01 135.07,157.05 135.25,161.83 135.35,164.64 135.47,167.74 135.63,170.96 135.78,172.81 135.90,173.36 136.01,173.05 136.15,171.50 136.28,169.25 136.40,166.51 136.58,161.70 136.69,158.90 136.81,156.07 136.98,152.74 137.12,151.16 137.24,150.73 137.34,151.09 137.47,152.46 137.63,155.13 137.76,158.28 137.91,162.11 138.05,165.63 138.18,168.58 138.28,170.47 138.43,172.30 138.54,172.88 138.69,172.45 138.80,171.29 138.94,169.00 139.07,166.01 139.21,162.36 139.35,158.87 139.50,155.23 139.60,153.30 139.73,151.47 139.90,150.67 140.03,151.24 140.17,152.90 140.30,155.46 140.43,158.57 140.56,161.94 140.70,165.72 140.80,168.09 140.94,170.89 141.10,172.93 141.20,173.41 141.35,172.89 141.47,171.48 141.61,168.79 141.77,164.97 141.89,161.55 142.02,158.20 142.14,155.07 142.30,151.87 142.43,150.35 142.55,149.83 142.70,150.62 142.83,152.35 142.98,155.51 143.09,158.58 143.24,162.79 143.35,166.08 143.49,169.73 143.63,172.48 143.73,173.64 143.88,174.28 144.02,173.46 144.12,172.02 144.30,168.39 144.43,164.96 144.57,160.82 144.67,157.95 144.81,154.52 144.97,151.64 145.08,150.47 145.23,150.09 145.34,150.79 145.47,152.55 145.60,155.17 145.73,158.40 145.88,162.34 145.99,165.53 146.16,169.46 146.30,171.85 146.39,172.81 146.52,173.38 146.65,172.86 146.83,170.42 146.92,168.65 147.09,164.57 147.20,161.50 147.33,158.08 147.46,154.81 147.62,151.95 147.72,150.83 147.90,150.33 148.01,151.11 148.13,152.70 148.26,155.34 148.42,159.30 148.55,162.93 148.67,166.08 148.80,169.31 148.94,171.89 149.10,173.49 149.21,173.67 149.36,172.62 149.48,170.75 149.61,167.98 149.74,164.63 149.88,160.63 150.01,157.27 150.15,153.82 150.26,151.91 150.40,150.29 150.56,150.02 150.67,150.81 150.82,153.22 150.96,156.35 151.08,159.40 151.18,162.46 151.35,167.11 151.48,170.15 151.59,172.22 151.76,173.90 151.87,174.02 151.98,173.31 152.11,171.42 152.26,168.37 152.41,164.25 152.55,160.07 152.65,157.39 152.78,154.12 152.94,151.01 153.06,149.75 153.20,149.52 153.35,150.78 153.49,153.18 153.63,156.45 153.75,159.92 153.84,162.65 153.98,166.73 154.14,170.64 154.29,173.32 154.38,174.16 154.53,174.38 154.66,173.31 154.79,171.08 154.92,168.16 155.05,164.49 155.19,160.64 155.31,157.07 155.47,153.28 155.60,151.06 155.74,149.74 155.87,149.80 156.02,151.26 156.12,152.99 156.28,156.77 156.39,159.70 156.54,163.92 156.68,167.69 156.79,170.23 156.93,172.52 157.07,173.77 157.18,173.83 157.33,172.58 157.44,170.81 157.58,167.71 157.74,163.57 157.89,159.29 158.02,155.76 158.12,153.64 158.24,151.44 158.40,150.05 158.52,150.07 158.65,151.20 158.81,153.83 158.94,156.89 159.06,160.29 159.20,164.13 159.33,167.62 159.47,170.69 159.62,172.92 159.75,173.80 159.88,173.49 160.01,172.13 160.10,170.54 160.26,167.10 160.41,163.03 160.51,160.02 160.66,156.07 160.77,153.74 160.91,151.38 161.05,150.18 161.17,150.19 161.32,151.53 161.44,153.58 161.61,157.45 161.71,160.25 161.85,164.03 162.01,168.05 162.13,170.60 162.23,172.28 162.37,173.56 162.53,173.47 162.64,172.45 162.77,170.21 162.93,166.64 163.05,163.18 163.18,159.72 163.32,155.70 163.46,152.63 163.56,150.95 163.71,149.64 163.84,149.71 164.01,151.45 164.10,153.09 164.24,156.68 164.37,160.24 164.53,165.01 164.67,168.87 164.76,171.07 164.94,173.96 165.06,174.73 165.17,174.50 165.34,172.51 165.44,170.51 165.60,166.40 165.69,163.61 165.85,158.99 165.98,155.22 166.14,151.80 166.27,149.94 166.39,149.22 166.49,149.42 166.65,151.08 166.78,153.61 166.94,157.92 167.06,161.33 167.18,164.85 167.31,168.45 167.46,171.85 167.56,173.34 167.73,174.43 167.86,173.93 167.98,172.46 168.13,169.52 168.24,166.54 168.36,163.14 168.51,158.84 168.62,155.78 168.76,152.75 168.91,150.48 169.06,149.67 169.16,150.01 169.31,151.73 169.47,154.92 169.60,158.13 169.73,162.00 169.85,165.40 169.98,168.68 170.12,171.39 170.25,173.17 170.38,173.81 170.50,173.38 170.63,171.93 170.75,169.66 170.90,166.07 171.06,161.85 171.18,158.53 171.29,155.71 171.46,152.39 171.55,151.19 171.73,150.33 171.85,150.91 171.98,152.50 172.10,154.87 172.26,158.61 172.35,160.99 172.48,164.57 172.64,168.45 172.76,170.78 172.90,172.54 173.04,173.19 173.15,172.86 173.33,170.70 173.45,168.43 173.55,166.01 173.72,161.61 173.84,158.37 173.98,155.00 174.12,152.47 174.26,150.82 174.35,150.46 174.53,151.24 174.64,152.62 174.76,154.84 174.90,158.24 175.03,161.79 175.19,166.11 175.31,168.82 175.41,170.97 175.58,173.07 175.70,173.54 175.85,172.79 175.95,171.64 176.12,168.19 176.26,164.76 176.34,162.39 176.50,158.03 176.62,155.16 176.77,152.06 176.88,150.63 177.06,149.93 177.15,150.41 177.31,152.50 177.44,155.28 177.56,158.25 177.69,161.86 177.86,166.67 177.94,168.87 178.09,171.88 178.22,173.67 178.37,174.16 178.49,173.45 178.61,171.83 178.77,168.54 178.91,164.80 179.04,161.04 179.16,157.65 179.29,154.60 179.41,152.27 179.57,150.33 179.70,150.00 179.83,150.76 179.99,153.15 180.08,155.12 180.25,159.35 180.37,162.91 180.52,166.72 180.65,169.80 180.75,171.53 180.92,173.32 181.02,173.56 181.17,172.69 181.32,170.50 181.43,168.06 181.57,164.65 181.67,161.70 181.83,157.27 181.95,154.47 182.09,151.77 182.22,150.22 182.39,149.90 182.50,150.75 182.64,152.86 182.74,155.11 182.88,158.78 183.05,163.51 183.14,166.15 183.32,170.55 183.42,172.51 183.55,174.02 183.69,174.31 183.82,173.38 183.96,171.28 184.09,168.34 184.24,164.29 184.35,161.06 184.47,157.43 184.62,153.76 184.73,151.57 184.89,149.86 185.02,149.64 185.17,150.83 185.27,152.36 185.42,155.63 185.57,159.80 185.68,162.98 185.84,167.40 185.97,170.38 186.06,172.16 186.22,173.82 186.37,173.97 186.49,172.97 186.63,170.68 186.78,167.18 186.90,163.99 187.02,160.36 187.17,156.27 187.28,153.66 187.39,151.61 187.54,150.00 187.69,149.84 187.84,151.21 187.96,153.17 188.07,155.80 188.24,160.45 188.35,163.37 188.47,166.80 188.62,170.38 188.74,172.52 188.86,173.76 189.03,173.91 189.16,172.71 189.31,170.13 189.40,168.08 189.57,163.33 189.70,159.67 189.80,156.80 189.95,153.34 190.09,150.93 190.21,149.85 190.33,149.69 190.50,151.18 190.60,152.83 190.75,156.29 190.88,159.88 191.04,164.46 191.15,167.61 191.28,170.58 191.44,173.25 191.54,174.08 191.69,174.02 191.80,173.04 191.96,170.25 192.09,167.02 192.23,163.17 192.35,159.82 192.46,156.52 192.62,152.90 192.77,150.56 192.87,149.75 192.99,149.67 193.13,150.83 193.30,153.90 193.38,155.90 193.52,159.60 193.66,163.53 193.83,168.31 193.94,170.71 194.09,173.13 194.22,174.10 194.34,173.93 194.49,172.39 194.61,170.23 194.74,166.95 194.87,163.63 194.98,160.30 195.15,155.89 195.26,153.32 195.40,151.17 195.56,150.02 195.67,150.23 195.79,151.33 195.95,154.11 196.08,157.13 196.18,160.00 196.33,164.11 196.48,167.88 196.59,170.34 196.77,172.76 196.89,173.44 197.01,173.21 197.16,171.58 197.25,170.09 197.39,166.89 197.56,162.38 197.67,159.33 197.79,156.36 197.94,153.04 198.08,151.02 198.21,150.23 198.31,150.36 198.45,151.52 198.60,154.12 198.71,156.70 198.85,160.33 199.01,164.84 199.13,167.98 199.25,170.48 199.42,173.04 199.53,173.70 199.69,173.34 199.81,172.00 199.94,169.53 200.06,166.56 200.21,162.48 200.32,159.29 200.45,155.65 200.62,151.98 200.72,150.48 200.86,149.38 201.01,149.77 201.12,151.06 201.26,153.64 201.42,157.86 201.52,160.70 201.65,164.81 201.82,169.52 201.92,171.85 202.06,174.11 202.22,175.12 202.32,174.66 202.49,172.32 202.62,169.56 202.75,165.88 202.85,162.90 202.98,158.94 203.14,154.61 203.28,151.80 203.38,150.42 203.51,149.63 203.65,150.06 203.78,151.55 203.93,154.42 204.06,157.86 204.20,161.72 204.31,164.56 204.45,168.10 204.57,170.71 204.72,172.58 204.84,173.25 205.02,172.63 205.12,171.39 205.24,169.22 205.40,165.43 205.55,161.43 205.68,158.13 205.80,155.11 205.92,152.78 206.05,151.01 206.18,150.34 206.34,150.98 206.48,152.70 206.59,154.97 206.74,158.73 206.87,162.05 207.00,165.72 207.11,168.47 207.24,171.14 207.38,172.93 207.55,173.66 207.67,172.98 207.81,171.11 207.94,168.46 208.07,165.09 208.19,161.92 208.34,157.72 208.44,155.14 208.60,151.90 208.70,150.55 208.88,149.75 209.01,150.53 209.10,151.80 209.27,155.18 209.41,158.78 209.50,161.42 209.66,166.08 209.78,169.34 209.93,172.29 210.07,174.09 210.20,174.45 210.30,173.86 210.46,171.75 210.59,168.85 210.69,166.11 210.83,162.08 210.98,157.90 211.10,154.71 211.24,151.92 211.39,150.02 211.54,149.72 211.65,150.42 211.79,152.49 211.93,155.51 212.06,158.91 212.19,162.67 212.29,165.43 212.47,169.84 212.57,171.64 212.70,173.31 212.85,173.81 212.99,172.97 213.13,170.89 213.24,168.61 213.41,164.28 213.52,161.04 213.67,157.13 213.78,154.43 213.89,152.32 214.02,150.70 214.19,150.19 214.31,150.96 214.44,152.84 214.57,155.45 214.70,158.60 214.85,162.67 214.97,165.94 215.13,169.82 215.23,171.52 215.40,173.30 215.53,173.39 215.64,172.66 215.79,170.42 215.92,167.82 216.04,164.61 216.20,160.51 216.33,157.01 216.43,154.72 216.60,151.79 216.69,150.91 216.82,150.46 216.98,151.38 217.10,153.12 217.24,155.98 217.38,159.37 217.51,162.93 217.66,166.96 217.80,169.87 217.90,171.57 218.03,172.90 218.18,173.14 218.29,172.46 218.44,170.49 218.59,167.36 218.68,164.98 218.86,160.27 218.99,156.82 219.10,154.18 219.23,151.91 219.38,150.36 219.50,150.14 219.66,151.31 219.78,153.23 219.90,155.80 220.06,160.02 220.18,163.50 220.29,166.49 220.43,170.09 220.57,172.58 220.73,174.06 220.83,174.13 220.97,173.06 221.13,170.34 221.23,167.90 221.39,163.65 221.48,160.90 221.63,156.69 221.75,153.70 221.92,150.70 222.04,149.67 222.16,149.54 222.28,150.46 222.43,152.87 222.55,155.53 222.70,159.76 222.85,164.06 222.96,167.18 223.08,170.28 223.23,172.91 223.35,174.17 223.52,174.22 223.61,173.39 223.78,170.55 223.89,167.87 224.05,163.52 224.18,159.50 224.28,156.68 224.45,152.67 224.59,150.32 224.70,149.39 224.84,149.45 224.96,150.53 225.08,152.66 225.25,156.61 225.38,160.57 225.48,163.58 225.61,167.27 225.76,170.87 225.90,173.43 226.02,174.49 226.19,174.29 226.31,172.87 226.45,170.17 226.57,167.23 226.71,163.17 226.85,158.92 226.94,156.57 227.10,152.74 227.21,150.85 227.38,149.53 227.48,149.66 227.64,151.27 227.75,153.30 227.90,156.93 228.04,160.70 228.18,164.88 228.31,168.34 228.42,170.76 228.57,173.02 228.68,173.83 228.81,173.81 228.97,172.23 229.12,169.58 229.24,166.53 229.36,163.18 229.50,159.20 229.64,155.50 229.76,152.73 229.89,150.78 230.04,149.64 230.15,149.83 230.31,151.58 230.44,154.05 230.57,157.38 230.71,161.24 230.85,165.36 230.98,168.91 231.09,171.29 231.22,173.33 231.37,174.42 231.51,173.94 231.63,172.50 231.73,170.60 231.86,167.36 232.02,162.97 232.17,158.64 232.31,155.03 232.42,152.77 232.56,150.69 232.69,149.87 232.80,150.10 232.93,151.36 233.09,154.26 233.22,157.45 233.37,161.61 233.47,164.29 233.64,168.54 233.74,170.61 233.89,172.66 234.03,173.40 234.13,173.12 234.31,171.25 234.44,168.71 234.58,165.47 234.66,163.29 234.83,158.73 234.96,155.36 235.11,152.48 235.20,151.12 235.33,150.20 235.50,150.64 235.60,151.82 235.73,153.99 235.86,157.14 236.02,161.58 236.15,165.14 236.30,168.83 236.43,171.60 236.52,172.91 236.71,173.98 236.84,173.36 236.97,171.53 237.10,168.99 237.21,166.17 237.33,162.67 237.50,157.96 237.61,155.26 237.75,152.46 237.89,150.58 238.02,150.01 238.16,150.61 238.29,152.26 238.41,154.75 238.56,158.39 238.67,161.51 238.80,164.99 238.97,169.12 239.10,171.56 239.22,173.06 239.33,173.56 239.45,173.21 239.63,171.05 239.77,168.34 239.87,165.94 240.02,161.79 240.12,159.02 240.27,155.14 240.42,152.19 240.54,150.72 240.69,150.04 240.83,150.80 240.92,151.97 241.09,155.15 241.20,158.08 241.33,161.47 241.47,165.46 241.61,169.02 241.76,172.04 241.89,173.53 241.98,173.97 242.12,173.56 242.30,171.14 242.41,168.81 242.55,165.30 242.67,161.91 242.82,157.44 242.94,154.46 243.08,151.78 243.19,150.30 243.35,149.68 243.46,150.20 243.59,151.84 243.74,155.08 243.89,158.94 243.99,161.95 244.13,165.79 244.25,169.04 244.41,172.24 244.55,173.91 244.65,174.29 244.81,173.53 244.94,171.61 245.05,169.30 245.21,165.20 245.32,161.72 245.45,157.98 245.63,153.54 245.71,151.85 245.86,149.93 246.01,149.44 246.13,150.17 246.24,151.72 246.42,155.58 246.52,158.29 246.66,162.46 246.82,167.04 246.96,170.41 247.09,172.82 247.20,174.02 247.35,174.42 247.49,173.36 247.58,171.83 247.76,167.91 247.85,165.54 248.01,160.81 248.12,157.68 248.25,154.36 248.38,151.85 248.56,149.99 248.65,149.82 248.82,151.04 248.91,152.46 249.06,155.45 249.18,158.72 249.36,163.57 249.44,165.87 249.62,169.93 249.72,171.71 249.89,173.31 250.01,173.35 250.12,172.61 250.26,170.60 250.38,168.27 250.52,164.61 250.64,161.51 250.81,156.96 250.93,153.94 251.05,151.81 251.17,150.39 251.35,150.00 251.44,150.62 251.59,152.67 251.70,155.16 251.85,159.17 251.99,163.05 252.13,167.02 252.25,170.06 252.38,172.56 252.54,174.31 252.65,174.48 252.78,173.54 252.93,171.21 253.05,168.38 253.20,164.00 253.30,161.08 253.45,156.92 253.59,153.55 253.71,151.28 253.88,149.74 253.98,149.71 254.12,150.80 254.26,153.01 254.41,156.54 254.51,159.26 254.67,163.96 254.81,167.67 254.91,169.88 255.04,172.13 255.20,173.62 255.31,173.63 255.44,172.65 255.57,170.77 255.73,167.24 255.88,163.26 256.01,159.67 256.13,156.61 256.25,153.80 256.41,151.26 256.53,150.38 256.68,150.52 256.80,151.65 256.93,153.87 257.06,156.87 257.17,159.53 257.31,163.34 257.43,166.57 257.61,170.49 257.75,172.47 257.86,173.28 257.97,173.30 258.10,172.32 258.25,170.02 258.38,167.18 258.50,164.02 258.63,160.55 258.79,156.32 258.93,153.28 259.03,151.76 259.17,150.40 259.31,150.35 259.45,151.61 259.59,153.89 259.71,156.68 259.87,160.86 259.98,163.86 260.11,167.27 260.26,170.76 260.40,172.82 260.54,173.75 260.63,173.67 260.77,172.56 260.91,170.06 261.07,166.27 261.19,163.15 261.32,159.45 261.44,156.40 261.61,152.83 261.70,151.49 261.85,150.33 261.99,150.58 262.13,152.06 262.26,154.47 262.37,157.01 262.50,160.32 262.67,164.91 262.78,167.65 262.90,170.13 263.03,172.04 263.19,173.17 263.33,172.79 263.45,171.57 263.57,169.52 263.72,166.22 263.87,162.31 263.98,159.31 264.13,155.72 264.26,152.92 264.39,151.17 264.51,150.39 264.63,150.51 264.79,152.07 264.93,154.62 265.07,157.98 265.16,160.40 265.29,164.04 265.45,168.22 265.59,171.23 265.69,172.63 265.85,173.82 265.96,173.62 266.13,171.71 266.23,169.83 266.35,167.02 266.52,162.33 266.63,159.28 266.77,155.61 266.89,153.01 267.03,150.79 267.15,149.90 267.29,150.11 267.44,151.76 267.56,153.97 267.71,157.71 267.86,161.80 267.98,165.09 268.08,167.85 268.26,171.74 268.35,173.06 268.50,174.02 268.64,173.63 268.78,171.98 268.89,169.70 269.03,166.28 269.18,162.27 269.30,158.74 269.42,155.50 269.56,152.52 269.70,150.64 269.82,149.87 269.97,150.35 270.10,151.92 270.23,154.38 270.38,158.09 270.52,161.97 270.64,165.45 270.76,168.43 270.92,171.74 271.01,172.93 271.18,173.83 271.30,173.36 271.43,171.79 271.58,168.72 271.71,165.62 271.86,161.44 271.99,157.88 272.08,155.51 272.23,152.29 272.38,150.38 272.48,149.87 272.63,150.38 272.79,152.47 272.88,154.35 273.01,157.48 273.15,161.47 273.29,165.35 273.42,168.74 273.56,171.69 273.71,173.68 273.83,174.16 273.97,173.54 274.07,172.19 274.21,169.63 274.39,164.98 274.49,162.09 274.65,157.42 274.75,154.88 274.90,151.89 275.04,150.26 275.14,149.80 275.27,150.25 275.42,152.18 275.54,154.50 275.68,158.07 275.81,161.64 275.95,165.54 276.09,169.06 276.22,171.53 276.35,173.23 276.49,173.78 276.64,173.00 276.73,171.70 276.92,167.99 277.02,165.35 277.18,160.92 277.26,158.59 277.40,155.15 277.54,152.40 277.71,150.30 277.82,149.99 277.98,150.89 278.10,152.70 278.20,154.76 278.35,158.47 278.48,162.14 278.62,166.02 278.77,169.66 278.87,171.54 279.04,173.62 279.15,173.89 279.28,173.19 279.43,171.05 279.54,168.71 279.70,164.67 279.82,161.38 279.95,157.65 280.07,154.79 280.20,152.23 280.37,150.42 280.49,150.23 280.62,151.01 280.77,153.21 280.91,156.23 281.00,158.58 281.18,163.39 281.26,165.52 281.42,169.37 281.54,171.39 281.67,172.84 281.82,173.19 281.96,172.28 282.08,170.54 282.23,167.56 282.37,163.92 282.47,161.47 282.60,157.86 282.76,154.31 282.88,152.14 283.01,150.74 283.15,150.37 283.29,151.32 283.44,153.52 283.57,156.47 283.70,159.76 283.81,162.75 283.97,167.10 284.09,169.97 284.20,171.88 284.37,173.68 284.47,173.83 284.62,172.78 284.76,170.67 284.90,167.39 285.02,164.16 285.17,159.93 285.26,157.64 285.39,154.43 285.53,151.82 285.68,150.26 285.81,150.12 285.92,150.89 286.06,152.91 286.22,156.22 286.34,159.44 286.49,163.66 286.61,166.76 286.76,170.24 286.89,172.26 287.01,173.31 287.14,173.44 287.26,172.56 287.40,170.53 287.54,167.65 287.67,164.24 287.79,160.87 287.94,156.94 288.06,154.31 288.23,151.42 288.34,150.44 288.45,150.29 288.60,151.30 288.73,153.25 288.86,155.98 289.01,159.86 289.12,163.09 289.26,166.61 289.42,170.30 289.54,172.25 289.68,173.52 289.81,173.53 289.94,172.42 290.06,170.47 290.20,167.40 290.34,163.81 290.46,160.31 290.62,156.12 290.73,153.81 290.86,151.55 291.00,150.24 291.15,150.28 291.29,151.61 291.41,153.63 291.53,156.40 291.68,160.37 291.82,164.36 291.92,167.08 292.08,170.61 292.21,172.74 292.33,173.69 292.45,173.75 292.61,172.38 292.72,170.51 292.86,167.30 293.00,163.45 293.16,159.07 293.25,156.68 293.38,153.66 293.54,151.03 293.69,149.91 293.78,149.98 293.94,151.46 294.04,153.15 294.20,156.86 294.31,159.85 294.48,164.45 294.59,167.58 294.74,170.92 294.85,172.71 294.98,173.82 295.12,173.85 295.25,172.61 295.38,170.45 295.52,167.30 295.67,163.16 295.79,159.56 295.95,155.56 296.06,153.10 296.20,151.09 296.34,150.18 296.48,150.57 296.60,151.88 296.71,153.67 296.86,157.20 296.97,160.10 297.14,164.52 297.24,167.16 297.40,170.47 297.51,172.10 297.68,173.16 297.77,172.97 297.94,171.37 298.07,169.00 298.18,166.54 298.33,162.72 298.45,159.59 298.58,156.41 298.71,153.66 298.83,151.88 299.00,150.76 299.10,150.93 299.24,152.18 299.37,154.24 299.54,158.07 299.66,161.13 299.79,164.54 299.93,167.92 300.08,170.74 300.20,172.34 300.33,173.06 300.45,172.80 300.59,171.34 300.75,168.49 300.86,165.92 300.99,162.61 301.14,158.51 301.23,156.33 301.37,153.51 301.54,151.13 301.68,150.47 301.77,150.69 301.90,151.92 302.03,154.13 302.19,157.90 302.30,160.82 302.46,165.06 302.60,168.52 302.70,170.58 302.87,173.07 302.97,173.62 303.12,173.23 303.25,171.85 303.38,169.41 303.52,166.11 303.63,163.06 303.78,158.70 303.91,155.50 304.05,152.58 304.17,150.81 304.31,149.92 304.46,150.46 304.61,152.41 304.70,154.21 304.87,158.43 304.99,161.80 305.10,164.81 305.23,168.22 305.40,171.95 305.50,173.28 305.63,174.08 305.79,173.51 305.93,171.72 306.07,168.73 306.18,165.82 306.31,162.31 306.44,158.48 306.57,155.15 306.72,151.91 306.87,150.08 306.96,149.68 307.11,150.20 307.24,151.86 307.36,154.20 307.52,158.28 307.67,162.68 307.77,165.40 307.93,169.41 308.07,172.18 308.17,173.43 308.34,174.09 308.46,173.34 308.59,171.55 308.70,169.33 308.83,165.84 308.96,162.33 309.13,157.35 309.26,154.14 309.36,152.21 309.51,150.12 309.63,149.60 309.79,150.42 309.92,152.17 310.07,155.48 310.19,158.74 310.29,161.62 310.44,165.88 310.58,169.59 310.73,172.52 310.84,173.78 310.96,174.34 311.10,173.72 311.23,171.95 311.36,169.30 311.50,165.53 311.63,161.79 311.78,157.52 311.93,153.63 312.07,151.06 312.16,149.96 312.31,149.36 312.45,150.24 312.56,151.76 312.71,155.06 312.82,158.17 312.97,162.35 313.10,166.18 313.26,170.27 313.36,172.30 313.51,174.16 313.64,174.54 313.76,173.80 313.93,171.24 314.03,168.93 314.16,165.30 314.32,160.76 314.44,157.22 314.58,153.54 314.69,151.53 314.82,149.85 314.94,161.90 322.40,161.90" fill="none" stroke="#f26a12" stroke-width="0.95" stroke-linejoin="round"/>
<rect x="42.80" y="119.00" width="279.60" height="85.80" fill="none" stroke="#000" stroke-width="1.3"/>
<path d="M42.80 204.80v-5.2M42.80 119.00v5.2M109.37 204.80v-5.2M109.37 119.00v5.2M175.94 204.80v-5.2M175.94 119.00v5.2M242.51 204.80v-5.2M242.51 119.00v5.2M309.09 204.80v-5.2M309.09 119.00v5.2M76.09 204.80v-2.8M76.09 119.00v2.8M142.66 204.80v-2.8M142.66 119.00v2.8M209.23 204.80v-2.8M209.23 119.00v2.8M275.80 204.80v-2.8M275.80 119.00v2.8M42.80 119.00h5.2M322.40 119.00h-5.2M42.80 140.45h5.2M322.40 140.45h-5.2M42.80 161.90h5.2M322.40 161.90h-5.2M42.80 183.35h5.2M322.40 183.35h-5.2M42.80 204.80h5.2M322.40 204.80h-5.2M42.80 129.72h2.8M322.40 129.72h-2.8M42.80 151.18h2.8M322.40 151.18h-2.8M42.80 172.62h2.8M322.40 172.62h-2.8M42.80 194.07h2.8M322.40 194.07h-2.8" stroke="#000" stroke-width="1.1" fill="none"/>
<rect x="42.80" y="119.00" width="100.60" height="19.50" fill="#fff" stroke="#222" stroke-width="1"/>
<line x1="44.8" x2="76.8" y1="128.50" y2="128.50" stroke="#ffa060" stroke-width="1.2"/>
<text x="80.60" y="133.50" font-size="14.5" font-weight="normal" text-anchor="start" >HONOR 9</text>
<text transform="translate(38.10 122.90) scale(0.93 1)" font-size="13.0" font-weight="bold" text-anchor="end">1.0</text>
<text transform="translate(38.10 144.35) scale(0.93 1)" font-size="13.0" font-weight="bold" text-anchor="end">0.5</text>
<text transform="translate(38.10 165.80) scale(0.93 1)" font-size="13.0" font-weight="bold" text-anchor="end">0.0</text>
<text transform="translate(38.10 187.25) scale(0.93 1)" font-size="13.0" font-weight="bold" text-anchor="end">-0.5</text>
<text transform="translate(38.10 208.70) scale(0.93 1)" font-size="13.0" font-weight="bold" text-anchor="end">-1.0</text>
<text transform="translate(42.80 219.80) scale(0.93 1)" font-size="13.0" font-weight="bold" text-anchor="middle">0</text>
<text transform="translate(109.37 219.80) scale(0.93 1)" font-size="13.0" font-weight="bold" text-anchor="middle">5</text>
<text transform="translate(175.94 219.80) scale(0.93 1)" font-size="13.0" font-weight="bold" text-anchor="middle">10</text>
<text transform="translate(242.51 219.80) scale(0.93 1)" font-size="13.0" font-weight="bold" text-anchor="middle">15</text>
<text transform="translate(309.09 219.80) scale(0.93 1)" font-size="13.0" font-weight="bold" text-anchor="middle">20</text>
<polyline points="42.80,274.60 51.59,274.60 51.60,275.05 51.77,279.71 51.86,282.00 52.01,285.05 52.15,286.71 52.28,287.23 52.43,286.44 52.52,285.20 52.68,281.97 52.83,278.09 52.92,275.33 53.08,270.59 53.21,267.13 53.34,264.20 53.48,262.10 53.62,261.30 53.76,261.83 53.90,263.75 54.02,266.31 54.17,270.45 54.29,274.00 54.40,277.49 54.52,281.16 54.65,284.29 54.80,286.72 54.92,287.75 55.09,287.44 55.22,285.84 55.35,283.30 55.47,280.25 55.61,276.30 55.73,272.66 55.90,268.02 55.98,266.03 56.13,263.40 56.28,262.14 56.39,262.13 56.56,263.67 56.67,265.63 56.80,268.54 56.92,271.64 57.06,275.73 57.21,279.88 57.33,282.74 57.45,285.11 57.61,287.03 57.73,287.36 57.89,286.27 58.02,284.29 58.15,281.23 58.29,277.27 58.42,273.37 58.53,270.15 58.67,266.21 58.79,263.69 58.92,261.79 59.05,261.02 59.18,261.49 59.32,263.31 59.45,266.15 59.61,270.57 59.72,274.07 59.84,277.95 60.00,282.39 60.12,285.23 60.28,287.66 60.39,288.31 60.54,287.80 60.65,286.37 60.80,283.29 60.95,279.06 61.06,275.89 61.20,271.36 61.33,267.64 61.44,264.87 61.57,262.53 61.75,261.12 61.86,261.35 62.01,263.04 62.13,265.35 62.28,269.39 62.38,272.33 62.53,276.88 62.67,280.82 62.81,284.30 62.91,285.94 63.06,287.48 63.20,287.51 63.34,286.22 63.44,284.37 63.60,280.76 63.74,276.80 63.88,272.81 63.98,269.81 64.13,266.24 64.25,263.90 64.39,262.39 64.52,262.11 64.69,263.35 64.77,264.61 64.95,268.54 65.04,270.74 65.17,274.56 65.31,278.53 65.45,282.05 65.61,285.26 65.75,286.78 65.88,287.16 65.99,286.61 66.10,285.22 66.27,281.91 66.41,278.02 66.51,275.39 66.68,270.41 66.77,268.01 66.94,264.25 67.06,262.53 67.21,261.70 67.34,262.28 67.43,263.33 67.59,266.31 67.71,269.34 67.85,273.50 67.97,276.91 68.12,281.13 68.25,284.34 68.36,286.29 68.52,287.71 68.68,287.42 68.77,286.51 68.95,283.17 69.06,280.37 69.17,276.92 69.35,271.60 69.45,268.49 69.58,265.19 69.71,262.75 69.87,261.21 69.97,261.14 70.11,262.17 70.24,264.45 70.36,267.36 70.54,272.45 70.65,276.00 70.79,280.14 70.94,283.89 71.05,286.02 71.17,287.45 71.32,287.82 71.45,286.86 71.57,284.97 71.70,282.09 71.84,278.25 72.00,273.66 72.10,270.63 72.28,266.05 72.37,264.19 72.51,262.36 72.63,261.73 72.78,262.37 72.91,264.12 73.06,267.25 73.20,271.09 73.30,273.95 73.47,278.66 73.57,281.45 73.71,284.42 73.83,286.18 74.00,287.16 74.11,286.78 74.26,285.00 74.36,283.17 74.53,279.06 74.63,276.05 74.78,271.91 74.92,268.09 75.03,265.75 75.18,263.36 75.33,262.36 75.43,262.48 75.58,263.85 75.70,265.79 75.83,268.73 75.98,272.79 76.11,276.53 76.25,280.42 76.40,283.73 76.52,285.80 76.64,286.89 76.78,287.07 76.92,285.90 77.06,283.52 77.19,280.61 77.31,277.23 77.42,273.91 77.60,269.00 77.70,266.45 77.84,263.70 78.00,261.93 78.09,261.67 78.26,262.78 78.36,264.23 78.49,266.89 78.64,271.10 78.79,275.56 78.90,278.92 79.06,283.12 79.17,285.44 79.32,287.55 79.42,288.04 79.56,287.56 79.69,285.98 79.85,282.43 79.97,279.13 80.11,274.70 80.23,271.20 80.39,266.58 80.53,263.23 80.62,261.87 80.76,260.66 80.93,261.21 81.06,263.14 81.19,266.15 81.29,268.87 81.44,273.49 81.55,276.86 81.70,281.25 81.84,284.55 81.96,286.47 82.10,287.62 82.23,287.44 82.35,286.29 82.48,284.00 82.65,279.85 82.74,277.28 82.93,271.92 83.06,268.51 83.19,265.50 83.32,263.62 83.41,262.80 83.55,262.57 83.69,263.48 83.82,265.29 83.94,267.93 84.12,272.60 84.26,276.37 84.38,279.82 84.49,282.43 84.65,285.54 84.78,286.93 84.89,287.24 85.01,286.64 85.15,284.89 85.29,281.81 85.45,277.62 85.54,274.88 85.69,270.40 85.82,266.93 85.99,263.54 86.08,262.24 86.24,261.39 86.35,261.93 86.51,263.97 86.65,267.07 86.78,270.71 86.92,274.73 87.02,277.84 87.15,281.51 87.28,284.39 87.42,286.64 87.54,287.59 87.71,287.14 87.80,286.06 87.95,283.47 88.11,279.27 88.24,275.41 88.39,271.13 88.49,268.32 88.60,265.57 88.78,262.68 88.88,261.84 89.04,261.99 89.13,262.87 89.27,265.07 89.43,268.94 89.57,272.86 89.70,276.62 89.83,280.34 89.96,283.63 90.07,285.63 90.20,287.10 90.35,287.41 90.49,286.29 90.61,284.42 90.74,281.53 90.89,277.50 91.02,273.63 91.15,270.00 91.31,265.80 91.45,263.37 91.53,262.37 91.69,261.79 91.81,262.47 91.95,264.40 92.06,266.85 92.20,270.38 92.33,274.17 92.47,278.20 92.63,282.41 92.73,284.57 92.91,286.91 93.04,287.35 93.14,286.88 93.30,284.88 93.44,281.78 93.53,279.49 93.69,275.00 93.82,271.28 93.94,267.92 94.08,264.99 94.20,263.06 94.36,261.93 94.47,262.16 94.62,263.69 94.78,266.77 94.88,269.33 95.01,273.02 95.17,277.86 95.29,280.96 95.42,283.98 95.54,285.90 95.69,287.22 95.81,287.15 95.95,285.83 96.08,283.66 96.19,280.96 96.37,276.10 96.49,272.49 96.64,268.42 96.74,266.07 96.87,263.62 97.00,262.20 97.14,261.84 97.27,262.76 97.40,264.65 97.54,267.69 97.67,271.36 97.83,276.22 97.94,279.46 98.10,283.38 98.19,285.25 98.33,287.18 98.50,287.73 98.59,287.23 98.72,285.46 98.88,282.07 99.00,278.75 99.13,274.87 99.28,270.14 99.42,266.49 99.53,264.01 99.68,261.79 99.81,261.13 99.96,261.90 100.06,263.13 100.20,266.01 100.35,270.06 100.45,273.23 100.63,278.62 100.77,282.46 100.87,284.71 101.02,287.14 101.13,287.87 101.30,287.39 101.39,286.27 101.52,284.00 101.65,280.61 101.81,276.10 101.92,272.71 102.10,267.48 102.22,264.82 102.35,262.66 102.48,261.56 102.60,261.66 102.76,263.30 102.89,265.63 103.00,268.53 103.13,272.06 103.25,275.80 103.40,279.86 103.53,283.17 103.65,285.39 103.83,287.15 103.93,287.22 104.07,286.12 104.18,284.47 104.34,280.98 104.48,277.27 104.58,274.32 104.76,269.32 104.85,267.14 104.99,264.36 105.15,262.44 105.26,262.03 105.42,262.93 105.52,264.30 105.66,267.09 105.81,271.13 105.96,275.32 106.09,279.27 106.19,281.99 106.34,285.21 106.46,287.07 106.61,287.90 106.72,287.53 106.89,285.41 107.01,282.69 107.12,279.88 107.26,275.62 107.39,271.39 107.56,266.64 107.66,264.16 107.81,261.94 107.96,261.09 108.06,261.45 108.22,263.49 108.32,265.48 108.44,268.47 108.58,272.46 108.74,277.41 108.86,280.67 109.02,284.28 109.13,286.13 109.27,287.22 109.39,287.12 109.54,285.74 109.67,283.27 109.79,280.55 109.93,276.79 110.08,272.50 110.22,268.85 110.32,266.46 110.44,264.25 110.61,262.41 110.73,262.25 110.89,263.45 111.01,265.41 111.12,267.88 111.28,272.13 111.40,275.53 111.54,279.59 111.68,283.15 111.80,285.42 111.95,287.22 112.06,287.56 112.19,286.92 112.33,284.85 112.46,282.25 112.60,278.21 112.73,274.48 112.87,270.14 113.01,266.46 113.13,263.92 113.28,261.89 113.41,261.37 113.54,262.08 113.63,263.21 113.77,265.77 113.93,270.09 114.05,273.57 114.21,278.43 114.32,281.40 114.47,284.84 114.58,286.52 114.73,287.66 114.88,287.21 115.01,285.59 115.12,283.52 115.26,280.04 115.39,276.11 115.51,272.42 115.65,268.42 115.81,264.68 115.94,262.59 116.05,261.67 116.20,261.64 116.35,263.14 116.45,264.97 116.61,268.85 116.74,272.66 116.87,276.88 116.97,279.56 117.14,284.12 117.28,286.58 117.37,287.61 117.53,287.97 117.63,287.26 117.79,284.74 117.93,281.43 118.07,277.51 118.20,273.17 118.31,270.03 118.43,266.62 118.60,263.06 118.69,261.86 118.84,261.13 118.97,261.78 119.13,264.17 119.25,266.77 119.40,271.07 119.53,274.86 119.67,279.15 119.80,282.64 119.94,285.54 120.04,286.96 120.17,287.81 120.32,287.25 120.45,285.52 120.60,282.51 120.73,278.90 120.84,275.75 120.96,272.03 121.13,267.37 121.26,264.42 121.37,262.61 121.49,261.54 121.62,261.53 121.77,262.90 121.90,265.36 122.03,268.57 122.16,272.19 122.30,276.46 122.44,280.65 122.56,283.68 122.70,286.34 122.84,287.83 123.00,287.79 123.13,286.39 123.24,284.42 123.36,281.58 123.50,277.52 123.65,272.73 123.77,269.19 123.91,265.53 124.06,262.86 124.19,261.52 124.33,261.40 124.42,262.08 124.57,264.27 124.68,266.94 124.84,271.34 124.98,275.51 125.10,278.89 125.22,282.18 125.37,285.42 125.49,286.96 125.63,287.61 125.77,286.94 125.93,284.55 126.03,282.32 126.19,278.29 126.30,274.90 126.44,270.91 126.55,267.66 126.69,264.59 126.85,262.19 126.97,261.54 127.09,261.89 127.27,264.04 127.39,266.75 127.49,269.38 127.64,273.56 127.78,277.82 127.89,281.01 128.03,284.54 128.16,286.67 128.32,287.93 128.42,287.81 128.60,285.86 128.69,284.06 128.83,280.60 128.95,277.08 129.13,271.60 129.25,267.91 129.35,265.60 129.50,262.68 129.63,261.46 129.77,261.43 129.89,262.50 130.06,265.48 130.15,267.79 130.32,272.53 130.42,275.70 130.58,280.21 130.70,283.30 130.84,285.97 130.97,287.44 131.11,287.69 131.21,287.01 131.34,285.11 131.52,280.99 131.62,278.35 131.76,274.19 131.89,270.37 132.04,266.19 132.19,263.11 132.29,261.79 132.42,261.13 132.56,261.71 132.67,263.22 132.81,266.04 132.94,269.56 133.09,274.11 133.26,279.38 133.34,281.92 133.50,285.61 133.61,287.49 133.74,288.50 133.91,288.00 134.01,286.79 134.14,284.09 134.31,279.35 134.42,276.11 134.55,271.92 134.72,266.89 134.81,264.67 134.98,261.93 135.08,261.16 135.23,261.43 135.35,262.75 135.49,265.29 135.65,269.53 135.78,273.43 135.88,276.27 136.04,280.87 136.14,283.31 136.28,285.84 136.40,287.04 136.57,287.10 136.70,285.79 136.84,283.48 136.97,280.37 137.09,277.30 137.21,273.77 137.33,270.21 137.49,266.22 137.65,263.25 137.75,262.07 137.90,261.69 138.05,262.79 138.18,264.90 138.30,267.81 138.43,271.29 138.54,274.73 138.70,279.54 138.82,282.65 138.97,285.81 139.07,287.30 139.25,288.07 139.34,287.62 139.50,285.30 139.64,282.12 139.74,279.51 139.91,274.26 140.03,270.54 140.16,266.90 140.27,264.28 140.41,262.12 140.54,261.23 140.68,261.62 140.83,263.43 140.97,266.30 141.10,269.83 141.21,273.25 141.34,277.30 141.50,281.71 141.64,284.97 141.74,286.48 141.88,287.71 142.01,287.61 142.18,285.76 142.26,284.24 142.44,279.79 142.56,276.08 142.67,272.75 142.83,268.39 142.94,265.54 143.09,262.90 143.21,261.72 143.37,261.72 143.48,262.72 143.63,265.35 143.75,268.25 143.88,271.69 144.04,276.64 144.13,279.31 144.30,283.63 144.44,286.11 144.57,287.37 144.69,287.57 144.82,286.62 144.97,284.22 145.08,281.79 145.23,277.57 145.36,273.69 145.50,269.71 145.61,266.86 145.75,263.93 145.86,262.55 145.99,261.79 146.12,262.25 146.29,264.43 146.40,266.78 146.57,271.03 146.66,273.61 146.79,277.63 146.96,282.07 147.07,284.41 147.20,286.23 147.36,287.20 147.46,286.90 147.64,284.91 147.73,283.06 147.90,278.99 148.01,275.76 148.17,271.17 148.26,268.46 148.43,264.68 148.53,263.07 148.67,261.85 148.82,261.98 148.94,263.28 149.08,265.81 149.22,269.12 149.33,272.27 149.45,275.84 149.62,280.76 149.75,283.84 149.88,286.21 150.01,287.52 150.16,287.54 150.26,286.63 150.43,283.77 150.52,281.54 150.68,277.05 150.83,272.71 150.92,270.10 151.09,265.97 151.19,263.97 151.31,262.49 151.47,262.01 151.61,263.01 151.73,264.65 151.89,268.31 151.98,270.48 152.12,274.62 152.26,278.45 152.40,281.81 152.53,284.36 152.64,285.92 152.79,286.67 152.92,286.22 153.08,284.32 153.20,282.04 153.35,278.32 153.47,275.08 153.59,271.54 153.72,268.37 153.85,265.45 154.02,263.12 154.13,262.52 154.26,262.78 154.39,264.07 154.55,267.12 154.68,270.12 154.81,273.73 154.95,277.60 155.05,280.29 155.21,283.77 155.31,285.32 155.47,286.68 155.59,286.65 155.74,285.32 155.85,283.50 155.99,280.36 156.14,276.30 156.29,272.07 156.39,269.28 156.51,266.24 156.64,263.76 156.81,262.04 156.95,261.97 157.04,262.61 157.19,264.85 157.31,267.61 157.49,272.46 157.58,275.14 157.71,279.00 157.88,283.47 158.02,286.26 158.14,287.58 158.24,287.85 158.39,286.97 158.53,284.85 158.68,281.33 158.81,277.85 158.90,274.99 159.06,270.48 159.21,266.62 159.33,264.23 159.47,262.49 159.62,262.03 159.75,262.88 159.88,264.68 160.00,267.14 160.12,270.13 160.24,273.61 160.37,277.36 160.53,281.40 160.67,284.19 160.81,285.99 160.95,286.74 161.05,286.54 161.18,285.24 161.31,283.08 161.46,279.51 161.61,275.19 161.74,271.62 161.85,268.43 161.97,265.60 162.14,262.71 162.28,261.65 162.40,261.81 162.51,262.81 162.65,265.17 162.79,268.66 162.94,273.08 163.04,276.10 163.18,280.40 163.30,283.44 163.43,286.19 163.57,287.92 163.74,288.06 163.86,286.87 163.99,284.72 164.11,281.60 164.24,278.01 164.40,273.09 164.52,269.57 164.63,266.63 164.79,263.33 164.94,261.68 165.03,261.46 165.21,262.65 165.30,263.95 165.44,267.03 165.61,271.63 165.74,275.57 165.83,278.23 166.00,282.45 166.12,285.02 166.24,286.67 166.40,287.39 166.52,286.79 166.63,285.40 166.78,282.49 166.93,278.73 167.06,274.99 167.18,271.19 167.33,267.32 167.43,265.05 167.56,262.92 167.69,261.78 167.85,262.04 167.98,263.42 168.13,266.41 168.27,270.05 168.36,272.58 168.51,276.99 168.64,280.83 168.78,284.15 168.93,286.63 169.05,287.54 169.17,287.50 169.32,286.06 169.44,284.02 169.58,280.52 169.69,277.45 169.85,272.72 169.98,269.03 170.12,265.54 170.25,263.21 170.38,261.85 170.52,261.73 170.62,262.49 170.79,265.12 170.92,268.08 171.05,271.89 171.17,275.40 171.29,278.81 171.47,283.36 171.59,285.77 171.73,287.30 171.84,287.58 172.00,286.58 172.13,284.51 172.24,281.93 172.40,277.79 172.52,273.95 172.62,271.12 172.75,267.43 172.90,264.18 173.04,262.21 173.18,261.52 173.31,262.07 173.46,264.10 173.59,266.87 173.68,269.39 173.83,273.66 173.99,278.54 174.12,281.97 174.21,284.13 174.38,286.79 174.49,287.58 174.64,287.34 174.80,285.41 174.88,283.79 175.05,279.45 175.17,276.11 175.33,271.36 175.46,267.88 175.55,265.73 175.71,262.90 175.86,261.78 175.96,261.85 176.11,263.30 176.22,265.19 176.35,268.22 176.49,272.09 176.62,275.94 176.79,280.66 176.89,282.95 177.03,285.63 177.17,287.07 177.31,287.25 177.46,285.99 177.57,284.10 177.72,280.74 177.81,278.19 177.98,273.48 178.08,270.41 178.25,266.12 178.37,263.87 178.48,262.51 178.65,261.92 178.77,262.64 178.90,264.48 179.01,266.78 179.19,271.42 179.30,274.69 179.45,279.05 179.54,281.44 179.71,284.95 179.82,286.56 179.97,287.33 180.10,286.78 180.25,284.90 180.39,282.03 180.48,279.65 180.65,274.77 180.74,272.03 180.87,268.50 181.02,265.07 181.15,262.94 181.31,261.82 181.43,262.12 181.56,263.43 181.71,266.33 181.85,269.90 181.97,273.28 182.10,277.23 182.25,281.22 182.35,283.66 182.52,286.54 182.61,287.34 182.74,287.54 182.91,286.03 183.01,284.33 183.15,281.02 183.29,276.98 183.40,273.59 183.55,269.18 183.68,265.84 183.80,263.45 183.96,261.56 184.09,261.30 184.21,262.08 184.37,264.73 184.49,267.40 184.60,270.56 184.78,276.06 184.89,279.34 185.00,282.53 185.15,285.66 185.28,287.48 185.40,288.11 185.55,287.45 185.67,285.72 185.81,282.81 185.96,278.44 186.07,275.19 186.20,271.28 186.34,267.24 186.48,264.02 186.60,262.03 186.76,261.06 186.91,261.75 187.04,263.60 187.15,266.04 187.30,270.12 187.44,274.22 187.56,278.09 187.70,282.13 187.81,284.74 187.97,287.24 188.09,288.12 188.23,287.78 188.36,286.18 188.46,284.31 188.64,279.81 188.73,277.09 188.88,272.27 189.02,268.08 189.17,264.50 189.26,262.79 189.43,261.11 189.54,261.10 189.66,262.06 189.81,264.58 189.96,268.30 190.06,271.34 190.23,276.78 190.32,279.51 190.47,283.35 190.61,286.13 190.73,287.60 190.90,287.94 191.04,286.69 191.17,284.40 191.26,282.14 191.43,277.41 191.54,274.13 191.67,270.19 191.82,266.09 191.92,263.98 192.05,262.13 192.24,261.43 192.34,262.05 192.49,264.33 192.61,266.83 192.72,269.91 192.88,274.46 192.99,277.96 193.12,281.51 193.25,284.47 193.41,286.81 193.53,287.59 193.67,287.21 193.84,285.06 193.96,282.40 194.09,279.08 194.20,275.92 194.36,271.17 194.49,267.64 194.61,264.86 194.73,262.96 194.86,261.86 195.00,262.00 195.13,263.26 195.30,266.33 195.41,269.09 195.55,273.18 195.70,277.42 195.81,280.64 195.92,283.20 196.06,285.68 196.23,287.05 196.32,287.06 196.46,285.99 196.61,283.48 196.76,280.09 196.89,276.52 197.02,272.88 197.15,269.33 197.27,266.62 197.38,264.48 197.55,262.75 197.65,262.52 197.82,263.64 197.92,265.05 198.05,267.60 198.23,272.24 198.32,274.70 198.47,278.97 198.58,281.61 198.76,285.17 198.84,286.21 199.01,287.03 199.15,286.27 199.26,284.91 199.38,282.63 199.51,279.29 199.65,275.47 199.82,270.50 199.94,267.26 200.09,263.98 200.21,262.30 200.34,261.51 200.45,261.78 200.59,263.24 200.76,266.74 200.89,270.31 201.00,273.48 201.15,278.11 201.28,281.74 201.39,284.32 201.52,286.57 201.68,287.88 201.82,287.49 201.96,285.84 202.06,283.91 202.18,281.01 202.32,276.75 202.44,273.06 202.62,267.77 202.72,265.39 202.88,262.48 202.98,261.50 203.16,261.47 203.26,262.51 203.41,265.22 203.54,268.23 203.68,272.35 203.77,275.30 203.91,279.30 204.06,283.15 204.22,286.18 204.35,287.51 204.47,287.63 204.60,286.66 204.70,285.10 204.88,281.06 205.00,277.75 205.13,273.86 205.28,269.67 205.38,267.07 205.53,263.95 205.67,262.30 205.81,261.87 205.91,262.34 206.07,264.53 206.21,267.56 206.33,270.68 206.44,273.82 206.61,278.87 206.70,281.28 206.84,284.46 207.01,286.90 207.13,287.56 207.25,287.24 207.41,285.35 207.53,282.82 207.64,280.15 207.78,276.12 207.94,271.17 208.07,267.46 208.17,265.22 208.32,262.48 208.47,261.34 208.58,261.46 208.70,262.55 208.85,265.26 209.01,269.38 209.13,273.03 209.24,276.30 209.41,281.19 209.53,284.24 209.64,286.35 209.78,287.80 209.90,288.04 210.05,286.90 210.18,284.68 210.31,281.59 210.47,276.79 210.60,272.82 210.72,269.23 210.88,265.12 211.00,262.84 211.14,261.21 211.27,261.05 211.39,262.00 211.53,264.26 211.67,267.56 211.80,271.39 211.94,275.71 212.04,278.90 212.18,282.57 212.30,285.34 212.47,287.54 212.61,287.91 212.71,287.28 212.84,285.48 212.96,283.00 213.14,278.19 213.26,274.67 213.41,270.24 213.52,267.15 213.65,264.38 213.80,262.30 213.94,261.61 214.07,262.18 214.17,263.45 214.31,266.17 214.47,270.22 214.58,273.44 214.73,277.92 214.85,281.24 215.00,284.71 215.09,286.29 215.22,287.59 215.36,287.72 215.51,286.33 215.64,283.99 215.80,279.83 215.94,275.81 216.03,273.12 216.20,268.11 216.31,265.22 216.46,262.47 216.57,261.38 216.73,261.26 216.82,262.03 216.98,264.62 217.10,267.65 217.23,271.34 217.37,275.52 217.51,279.70 217.64,283.29 217.78,285.96 217.92,287.60 218.06,287.82 218.20,286.68 218.32,284.75 218.43,282.24 218.58,278.10 218.71,274.30 218.83,270.64 218.97,266.90 219.09,264.15 219.24,262.10 219.35,261.53 219.51,262.21 219.64,263.93 219.75,266.19 219.89,269.98 220.06,274.92 220.18,278.18 220.28,281.01 220.44,284.48 220.58,286.40 220.69,287.03 220.83,286.71 220.96,285.37 221.11,282.60 221.26,278.96 221.36,276.15 221.49,272.57 221.62,269.06 221.78,265.62 221.88,264.01 222.04,262.75 222.19,262.91 222.32,264.18 222.45,266.36 222.54,268.53 222.70,272.59 222.82,276.03 222.97,280.00 223.08,282.68 223.22,285.09 223.39,286.79 223.52,286.77 223.61,286.10 223.79,283.47 223.88,281.44 224.03,277.58 224.19,272.76 224.32,269.15 224.43,266.51 224.58,263.75 224.69,262.40 224.85,262.01 224.96,262.68 225.08,264.41 225.21,267.09 225.37,271.25 225.50,274.99 225.65,279.31 225.75,281.71 225.91,285.15 226.05,286.84 226.18,287.26 226.28,286.86 226.41,285.30 226.54,282.82 226.69,279.15 226.84,274.69 226.94,271.77 227.09,267.75 227.21,265.26 227.37,262.71 227.47,261.98 227.64,262.33 227.77,263.78 227.88,265.83 228.04,269.78 228.15,273.06 228.30,277.27 228.43,281.02 228.55,283.81 228.69,286.25 228.84,287.52 228.98,287.30 229.11,285.88 229.23,283.71 229.38,280.02 229.47,277.32 229.65,271.95 229.73,269.53 229.91,265.06 230.04,262.82 230.15,261.72 230.31,261.62 230.45,262.97 230.54,264.50 230.70,268.17 230.80,270.91 230.97,275.90 231.07,278.83 231.23,283.04 231.33,285.00 231.48,286.91 231.64,287.27 231.75,286.60 231.91,284.09 232.02,281.74 232.14,278.67 232.31,273.71 232.40,271.11 232.56,267.11 232.71,264.17 232.84,262.60 232.96,262.15 233.07,262.55 233.22,264.32 233.34,266.68 233.48,270.01 233.61,273.75 233.74,277.40 233.86,280.76 234.03,284.50 234.13,285.94 234.29,287.14 234.41,286.89 234.56,285.29 234.69,282.86 234.82,279.73 234.97,275.53 235.09,271.98 235.24,267.91 235.36,265.29 235.50,262.96 235.64,262.03 235.76,262.22 235.87,263.28 236.02,265.67 236.13,268.24 236.30,272.81 236.42,276.54 236.57,280.43 236.66,282.68 236.80,285.22 236.96,286.87 237.09,286.96 237.19,286.25 237.32,284.40 237.47,281.23 237.61,277.71 237.72,274.36 237.86,270.56 238.00,267.08 238.12,264.61 238.26,262.76 238.39,262.15 238.54,262.81 238.69,264.95 238.82,267.68 238.95,271.08 239.08,274.69 239.20,278.09 239.32,281.43 239.46,284.49 239.64,286.82 239.76,287.31 239.88,286.79 240.02,285.07 240.16,282.21 240.29,278.63 240.40,275.67 240.56,270.87 240.68,267.51 240.80,264.96 240.93,262.81 241.06,261.80 241.21,262.04 241.37,263.88 241.49,266.34 241.59,268.83 241.72,272.53 241.86,276.74 241.99,280.34 242.12,283.55 242.29,286.38 242.40,287.35 242.54,287.35 242.66,286.27 242.83,283.26 242.95,280.51 243.05,277.45 243.22,272.47 243.33,269.40 243.47,265.84 243.59,263.46 243.74,261.85 243.86,261.58 244.00,262.47 244.12,264.35 244.30,268.40 244.39,271.01 244.53,275.14 244.67,279.31 244.78,282.47 244.92,285.45 245.07,287.36 245.21,287.90 245.34,287.14 245.46,285.35 245.61,282.04 245.75,278.21 245.86,274.92 245.99,270.87 246.14,266.60 246.26,263.91 246.42,261.73 246.51,261.21 246.67,261.71 246.79,263.29 246.92,265.86 247.09,270.37 247.19,273.36 247.35,278.38 247.49,282.19 247.63,285.29 247.71,286.70 247.85,287.88 247.98,287.80 248.12,286.32 248.29,283.08 248.41,279.94 248.51,276.77 248.64,272.75 248.81,267.90 248.94,264.87 249.04,263.06 249.20,261.44 249.31,261.42 249.45,262.60 249.58,264.67 249.76,269.08 249.86,272.12 250.00,276.42 250.11,279.68 250.26,283.32 250.40,286.09 250.54,287.49 250.68,287.56 250.78,286.79 250.92,284.78 251.06,281.59 251.18,278.07 251.35,273.29 251.45,270.10 251.59,266.60 251.73,263.75 251.86,262.06 251.99,261.58 252.10,262.08 252.27,264.43 252.37,266.57 252.55,271.18 252.65,274.18 252.78,278.16 252.93,282.16 253.08,285.37 253.19,286.82 253.32,287.63 253.45,287.19 253.57,285.82 253.71,283.06 253.88,278.71 254.01,274.73 254.11,271.83 254.28,267.20 254.36,265.25 254.54,262.48 254.63,261.72 254.79,261.84 254.92,263.23 255.05,265.72 255.21,269.77 255.31,272.72 255.43,276.18 255.57,280.15 255.74,284.17 255.84,285.93 255.96,287.30 256.11,287.51 256.28,285.89 256.38,284.02 256.50,281.28 256.66,276.80 256.78,273.27 256.92,269.16 257.08,265.34 257.20,263.24 257.32,261.93 257.48,261.77 257.59,262.62 257.72,264.65 257.87,268.18 258.01,272.07 258.13,275.67 258.24,279.01 258.38,282.55 258.49,284.91 258.64,286.93 258.80,287.56 258.92,286.88 259.07,284.66 259.19,281.95 259.32,278.53 259.47,274.21 259.58,270.74 259.73,266.89 259.85,264.18 259.97,262.28 260.13,261.37 260.23,261.65 260.41,263.88 260.54,266.74 260.67,270.16 260.78,273.60 260.91,277.69 261.04,281.47 261.18,284.77 261.30,286.87 261.46,288.21 261.60,287.85 261.71,286.54 261.87,283.52 261.97,280.80 262.13,275.81 262.27,271.48 262.39,268.13 262.54,264.64 262.66,262.70 262.79,261.66 262.91,261.76 263.02,262.73 263.16,264.95 263.33,268.96 263.43,271.68 263.59,276.26 263.69,279.14 263.86,282.97 264.00,285.28 264.12,286.26 264.22,286.44 264.39,285.30 264.51,283.52 264.66,280.35 264.76,278.04 264.90,274.34 265.06,269.94 265.19,266.95 265.33,264.48 265.44,263.18 265.58,262.63 265.73,263.40 265.85,264.98 265.95,266.95 266.09,270.24 266.21,273.68 266.35,277.61 266.48,281.03 266.63,284.36 266.78,286.45 266.93,287.24 267.03,286.89 267.15,285.61 267.33,282.28 267.46,278.80 267.60,274.83 267.68,272.39 267.84,267.87 267.98,264.81 268.11,262.78 268.22,261.83 268.39,262.08 268.51,263.32 268.61,265.20 268.76,268.77 268.92,273.16 269.02,276.31 269.18,280.96 269.29,283.46 269.43,286.12 269.56,287.40 269.68,287.61 269.86,286.13 269.96,284.33 270.11,280.65 270.26,276.62 270.36,273.56 270.47,270.05 270.64,265.84 270.75,263.49 270.92,261.57 271.02,261.33 271.18,262.39 271.27,263.85 271.42,267.05 271.55,270.62 271.72,275.75 271.84,279.36 271.97,283.03 272.08,285.27 272.22,287.40 272.39,288.09 272.50,287.39 272.64,285.30 272.76,282.60 272.88,279.38 273.05,274.19 273.15,271.20 273.28,267.63 273.44,264.12 273.54,262.58 273.71,261.57 273.84,262.15 273.96,263.59 274.10,266.35 274.23,269.71 274.34,272.88 274.47,276.78 274.62,280.80 274.74,283.42 274.88,285.78 275.02,286.90 275.17,286.67 275.29,285.38 275.41,283.47 275.57,279.67 275.71,275.96 275.84,272.34 275.97,268.68 276.08,266.07 276.24,263.22 276.36,262.15 276.48,261.99 276.64,263.22 276.77,265.37 276.90,268.38 277.02,271.90 277.17,276.30 277.30,280.05 277.43,283.20 277.53,285.31 277.68,287.15 277.85,287.58 277.95,286.85 278.10,284.64 278.20,282.28 278.36,278.02 278.50,273.94 278.64,269.75 278.78,265.99 278.89,263.82 279.01,262.07 279.14,261.37 279.28,261.91 279.42,263.75 279.58,267.26 279.69,270.25 279.83,274.54 279.97,278.67 280.06,281.34 280.21,284.76 280.36,287.11 280.46,287.90 280.60,287.71 280.77,285.70 280.90,283.01 281.00,280.28 281.13,276.40 281.30,271.19 281.42,268.02 281.54,265.07 281.70,262.55 281.83,261.61 281.98,261.98 282.06,262.88 282.23,265.92 282.35,268.81 282.47,272.26 282.62,276.59 282.72,279.64 282.86,283.07 283.00,285.53 283.16,287.13 283.29,287.11 283.40,286.22 283.54,284.08 283.70,280.49 283.81,277.43 283.94,273.68 284.11,269.14 284.22,266.50 284.35,264.09 284.49,262.65 284.59,262.35 284.74,263.17 284.90,265.41 285.02,268.09 285.17,271.85 285.27,274.68 285.41,278.54 285.53,281.48 285.66,284.04 285.79,285.71 285.93,286.43 286.06,286.06 286.21,284.40 286.34,281.93 286.49,278.24 286.63,274.58 286.75,271.25 286.89,267.72 287.01,265.15 287.13,263.31 287.28,262.34 287.42,262.69 287.57,264.44 287.69,266.87 287.79,269.11 287.95,273.62 288.05,276.62 288.22,281.02 288.36,284.27 288.49,286.23 288.59,287.12 288.74,287.10 288.86,285.99 289.02,283.25 289.15,279.97 289.29,276.22 289.40,272.95 289.55,268.93 289.66,266.26 289.83,263.33 289.96,262.25 290.05,262.17 290.21,263.33 290.35,265.62 290.46,268.00 290.58,271.20 290.71,274.91 290.88,279.62 290.98,281.96 291.13,284.89 291.29,286.57 291.38,286.89 291.55,286.03 291.67,284.38 291.80,281.69 291.94,278.13 292.06,274.53 292.22,269.96 292.35,266.83 292.46,264.38 292.58,262.67 292.74,261.78 292.90,262.55 293.02,264.35 293.11,266.17 293.26,269.96 293.40,274.04 293.53,277.94 293.65,281.25 293.78,284.51 293.94,286.96 294.08,287.82 294.21,287.33 294.34,285.69 294.48,283.00 294.57,280.52 294.72,276.37 294.86,272.20 294.99,268.58 295.13,265.28 295.26,263.05 295.39,261.94 295.51,261.91 295.68,263.61 295.82,266.21 295.94,269.01 296.05,272.19 296.19,276.32 296.35,280.61 296.47,283.29 296.61,285.65 296.74,286.94 296.89,287.03 297.00,286.07 297.11,284.51 297.26,281.13 297.42,276.85 297.51,274.15 297.64,270.34 297.77,266.77 297.91,263.87 298.04,261.94 298.21,261.30 298.33,262.09 298.47,264.22 298.60,267.04 298.72,270.46 298.88,275.33 298.98,278.47 299.12,282.61 299.26,285.76 299.40,287.85 299.54,288.41 299.66,287.75 299.80,285.81 299.91,283.29 300.06,279.17 300.21,274.64 300.32,271.18 300.47,266.97 300.59,264.24 300.73,262.17 300.86,261.27 300.97,261.52 301.11,262.98 301.24,265.45 301.39,269.33 301.53,273.46 301.67,277.52 301.77,280.52 301.91,283.87 302.04,286.03 302.20,287.44 302.32,287.35 302.44,286.21 302.57,284.01 302.75,279.87 302.85,276.81 303.01,272.10 303.11,269.37 303.24,266.23 303.40,263.36 303.54,262.08 303.64,261.98 303.81,263.29 303.92,265.24 304.07,268.67 304.21,272.37 304.32,275.41 304.48,279.87 304.57,282.14 304.72,285.03 304.85,286.62 304.97,287.08 305.12,286.34 305.26,284.25 305.36,282.20 305.52,278.29 305.65,274.42 305.77,271.11 305.92,267.06 306.04,264.73 306.19,262.67 306.32,262.03 306.46,262.65 306.61,264.57 306.74,267.33 306.85,270.17 306.97,273.58 307.10,277.41 307.26,281.72 307.40,284.51 307.53,286.41 307.67,287.16 307.78,286.82 307.94,285.08 308.06,282.77 308.19,279.54 308.33,275.51 308.45,271.97 308.59,268.26 308.74,265.16 308.84,263.50 308.99,262.28 309.10,262.32 309.24,263.56 309.40,266.21 309.54,269.49 309.67,273.10 309.79,276.59 309.93,280.30 310.06,283.41 310.18,285.46 310.30,286.67 310.42,287.05 310.59,285.93 310.72,283.81 310.86,280.86 310.98,277.48 311.12,273.49 311.25,269.61 311.38,266.50 311.52,263.75 311.63,262.35 311.78,261.72 311.92,262.49 312.05,264.35 312.16,266.82 312.29,270.14 312.45,274.92 312.55,278.04 312.72,282.65 312.82,284.85 312.99,287.24 313.10,287.85 313.26,287.18 313.36,285.92 313.49,283.36 313.65,279.12 313.79,274.92 313.90,271.51 314.04,267.50 314.18,264.13 314.29,262.25 314.43,261.10 314.57,261.34 314.69,262.65 314.82,264.99 314.99,269.54 315.08,272.32 315.26,277.96 315.39,281.61 315.50,284.36 315.66,287.04 315.75,287.88 315.91,287.93 316.03,286.75 316.16,284.44 316.32,280.32 316.41,277.77 316.59,272.37 316.68,269.69 316.84,265.51 316.96,263.41 317.10,261.82 317.26,261.72 317.38,262.85 317.48,264.38 317.62,267.56 317.77,271.45 317.91,275.73 318.01,278.49 318.01,274.60 322.40,274.60" fill="none" stroke="#1f6be0" stroke-width="0.95" stroke-linejoin="round"/>
<rect x="42.80" y="231.70" width="279.60" height="85.80" fill="none" stroke="#000" stroke-width="1.3"/>
<path d="M42.80 317.50v-5.2M42.80 231.70v5.2M109.37 317.50v-5.2M109.37 231.70v5.2M175.94 317.50v-5.2M175.94 231.70v5.2M242.51 317.50v-5.2M242.51 231.70v5.2M309.09 317.50v-5.2M309.09 231.70v5.2M76.09 317.50v-2.8M76.09 231.70v2.8M142.66 317.50v-2.8M142.66 231.70v2.8M209.23 317.50v-2.8M209.23 231.70v2.8M275.80 317.50v-2.8M275.80 231.70v2.8M42.80 231.70h5.2M322.40 231.70h-5.2M42.80 253.15h5.2M322.40 253.15h-5.2M42.80 274.60h5.2M322.40 274.60h-5.2M42.80 296.05h5.2M322.40 296.05h-5.2M42.80 317.50h5.2M322.40 317.50h-5.2M42.80 242.42h2.8M322.40 242.42h-2.8M42.80 263.88h2.8M322.40 263.88h-2.8M42.80 285.32h2.8M322.40 285.32h-2.8M42.80 306.77h2.8M322.40 306.77h-2.8" stroke="#000" stroke-width="1.1" fill="none"/>
<rect x="42.80" y="231.70" width="97.90" height="18.80" fill="#fff" stroke="#222" stroke-width="1"/>
<line x1="44.8" x2="76.8" y1="241.20" y2="241.20" stroke="#4a8ae8" stroke-width="1.2"/>
<text x="80.60" y="246.20" font-size="14.5" font-weight="normal" text-anchor="start" >HUAWEI</text>
<text transform="translate(38.10 235.60) scale(0.93 1)" font-size="13.0" font-weight="bold" text-anchor="end">1.0</text>
<text transform="translate(38.10 257.05) scale(0.93 1)" font-size="13.0" font-weight="bold" text-anchor="end">0.5</text>
<text transform="translate(38.10 278.50) scale(0.93 1)" font-size="13.0" font-weight="bold" text-anchor="end">0.0</text>
<text transform="translate(38.10 299.95) scale(0.93 1)" font-size="13.0" font-weight="bold" text-anchor="end">-0.5</text>
<text transform="translate(38.10 321.40) scale(0.93 1)" font-size="13.0" font-weight="bold" text-anchor="end">-1.0</text>
<text transform="translate(42.80 332.50) scale(0.93 1)" font-size="13.0" font-weight="bold" text-anchor="middle">0</text>
<text transform="translate(109.37 332.50) scale(0.93 1)" font-size="13.0" font-weight="bold" text-anchor="middle">5</text>
<text transform="translate(175.94 332.50) scale(0.93 1)" font-size="13.0" font-weight="bold" text-anchor="middle">10</text>
<text transform="translate(242.51 332.50) scale(0.93 1)" font-size="13.0" font-weight="bold" text-anchor="middle">15</text>
<text transform="translate(309.09 332.50) scale(0.93 1)" font-size="13.0" font-weight="bold" text-anchor="middle">20</text>
<polyline points="42.80,387.30 50.26,387.30 50.31,385.79 50.41,382.89 50.55,379.09 50.71,376.18 50.83,374.78 50.95,374.45 51.07,375.08 51.22,377.34 51.35,380.32 51.46,383.22 51.61,387.76 51.77,392.63 51.88,395.63 52.00,398.12 52.15,400.25 52.28,400.72 52.43,399.68 52.55,397.92 52.65,395.49 52.79,391.56 52.93,387.34 53.10,381.88 53.20,379.05 53.34,376.09 53.50,373.92 53.60,373.58 53.75,374.45 53.90,376.91 54.03,380.12 54.13,382.84 54.28,387.59 54.40,391.45 54.55,395.91 54.66,398.35 54.79,400.31 54.93,401.08 55.06,400.53 55.22,398.10 55.33,395.55 55.47,391.55 55.60,387.52 55.74,383.07 55.86,379.30 56.00,376.12 56.15,373.89 56.26,373.32 56.42,374.09 56.53,375.80 56.65,378.47 56.79,382.31 56.96,388.01 57.05,390.88 57.19,395.31 57.36,399.19 57.45,400.62 57.59,401.62 57.73,401.12 57.89,398.67 57.98,396.45 58.16,391.16 58.25,388.17 58.41,382.95 58.55,378.75 58.67,376.02 58.80,374.15 58.93,373.54 59.06,374.14 59.23,376.75 59.33,379.09 59.48,383.15 59.61,387.10 59.76,391.66 59.86,394.17 59.98,396.95 60.16,399.21 60.27,399.62 60.41,398.93 60.54,397.16 60.68,394.28 60.82,390.86 60.94,387.45 61.04,384.81 61.22,380.25 61.31,378.30 61.49,375.65 61.57,375.04 61.75,375.36 61.87,376.86 61.97,378.74 62.15,383.09 62.27,386.77 62.38,390.11 62.55,395.09 62.67,397.86 62.80,399.97 62.95,401.08 63.05,400.85 63.18,399.40 63.35,395.77 63.45,393.11 63.61,387.64 63.71,384.26 63.88,379.23 63.99,376.51 64.14,374.14 64.27,373.29 64.39,373.71 64.53,375.53 64.67,378.59 64.78,381.52 64.95,386.98 65.08,391.02 65.18,393.94 65.31,397.20 65.46,399.56 65.61,400.56 65.73,400.15 65.85,398.69 66.01,395.51 66.11,392.82 66.27,388.10 66.41,384.03 66.50,381.25 66.66,377.53 66.80,375.40 66.95,374.42 67.05,374.66 67.19,376.17 67.35,379.29 67.44,381.59 67.61,386.64 67.72,389.79 67.85,393.52 68.02,397.36 68.12,398.95 68.24,400.01 68.37,399.94 68.53,398.27 68.66,395.77 68.78,392.97 68.92,388.76 69.04,385.10 69.21,380.57 69.31,378.07 69.46,375.64 69.61,374.58 69.71,374.72 69.88,376.53 69.99,378.60 70.13,382.10 70.24,385.35 70.40,389.96 70.53,393.69 70.66,396.60 70.81,398.96 70.92,399.84 71.03,399.85 71.21,398.10 71.32,395.96 71.46,392.64 71.59,388.89 71.69,385.83 71.84,381.70 71.96,378.73 72.13,375.91 72.27,374.78 72.39,374.94 72.53,376.39 72.64,378.30 72.76,381.03 72.91,385.27 73.03,388.81 73.17,392.76 73.30,395.90 73.43,398.25 73.59,399.73 73.72,399.66 73.87,398.24 74.01,395.64 74.10,393.41 74.27,388.66 74.40,385.02 74.52,381.63 74.67,378.02 74.78,376.19 74.89,375.09 75.03,374.82 75.17,375.92 75.32,378.50 75.45,381.50 75.59,385.38 75.69,388.26 75.83,392.40 75.98,396.03 76.12,398.46 76.24,399.63 76.36,399.80 76.50,398.77 76.66,396.16 76.79,393.04 76.90,390.05 77.07,385.07 77.15,382.71 77.30,379.24 77.44,376.71 77.59,375.39 77.71,375.42 77.85,376.63 78.00,379.11 78.10,381.38 78.23,384.53 78.37,388.45 78.51,392.07 78.62,394.51 78.75,396.70 78.92,398.22 79.07,398.14 79.20,397.00 79.30,395.47 79.44,392.74 79.59,389.14 79.73,385.58 79.83,383.10 80.00,379.48 80.12,377.49 80.22,376.35 80.37,375.85 80.48,376.37 80.63,378.35 80.77,381.21 80.92,385.03 81.03,388.09 81.18,392.31 81.31,395.64 81.44,398.09 81.58,399.74 81.70,400.14 81.84,399.26 81.97,397.35 82.13,393.69 82.22,391.10 82.39,385.71 82.52,381.89 82.61,379.35 82.78,375.82 82.90,374.47 83.04,374.07 83.17,375.01 83.31,377.39 83.43,380.22 83.58,384.24 83.69,387.64 83.81,391.44 83.98,395.83 84.13,398.72 84.21,399.75 84.39,400.27 84.49,399.52 84.64,397.25 84.75,394.70 84.91,390.38 85.03,386.77 85.18,382.31 85.29,379.58 85.42,376.80 85.57,375.00 85.68,374.63 85.86,375.77 85.97,377.55 86.12,380.97 86.21,383.41 86.38,388.07 86.48,391.09 86.61,394.36 86.76,397.41 86.90,399.02 87.03,399.46 87.16,398.73 87.28,397.15 87.44,393.88 87.55,391.05 87.68,387.33 87.84,382.91 87.97,379.75 88.11,377.12 88.25,375.44 88.38,375.07 88.48,375.54 88.65,377.88 88.76,380.19 88.90,383.69 89.02,387.09 89.15,391.11 89.30,394.84 89.40,397.09 89.57,399.45 89.68,399.98 89.84,399.29 89.97,397.39 90.10,394.66 90.20,391.92 90.36,387.22 90.48,383.52 90.64,379.29 90.77,376.35 90.89,374.55 91.04,373.74 91.14,374.11 91.31,376.38 91.45,379.66 91.58,383.47 91.71,387.65 91.82,391.33 91.98,396.18 92.09,398.92 92.21,400.89 92.36,402.00 92.51,401.30 92.63,399.39 92.77,395.93 92.86,393.16 93.05,386.82 93.18,382.34 93.29,378.93 93.44,375.19 93.54,373.72 93.68,372.76 93.80,373.23 93.96,375.56 94.11,379.10 94.24,383.14 94.33,386.01 94.50,391.53 94.62,395.08 94.74,397.82 94.91,400.36 95.02,400.91 95.13,400.55 95.28,398.66 95.43,395.42 95.57,391.48 95.67,388.48 95.82,383.75 95.93,380.73 96.11,376.72 96.19,375.42 96.38,374.26 96.49,374.74 96.63,376.59 96.76,379.28 96.88,382.56 97.01,386.37 97.13,390.00 97.27,393.82 97.39,396.65 97.54,398.94 97.69,399.95 97.82,399.54 97.95,397.95 98.08,395.38 98.24,391.42 98.37,387.72 98.47,384.69 98.62,380.51 98.77,376.97 98.87,375.41 99.02,374.15 99.15,374.44 99.29,376.00 99.42,378.54 99.56,382.36 99.67,385.87 99.84,391.09 99.95,394.49 100.07,397.60 100.22,400.32 100.35,401.45 100.50,401.08 100.62,399.59 100.74,396.90 100.87,393.41 101.01,388.90 101.13,384.68 101.28,380.03 101.43,376.47 101.55,374.53 101.66,373.62 101.78,373.74 101.96,375.86 102.06,377.97 102.22,382.07 102.37,386.52 102.50,390.57 102.61,393.72 102.76,397.14 102.87,398.78 103.03,399.85 103.15,399.48 103.25,398.43 103.42,395.30 103.52,392.93 103.70,388.09 103.78,385.73 103.95,381.11 104.05,378.78 104.21,376.18 104.33,375.11 104.49,375.25 104.59,376.22 104.75,378.94 104.89,382.48 104.98,384.89 105.15,389.79 105.25,392.57 105.42,396.62 105.56,398.84 105.65,399.70 105.82,399.68 105.93,398.61 106.06,396.45 106.23,392.35 106.33,389.41 106.45,385.72 106.59,381.75 106.76,377.89 106.89,375.70 107.00,374.83 107.13,374.83 107.27,376.12 107.42,378.75 107.51,380.85 107.68,385.70 107.83,389.87 107.93,392.73 108.06,395.95 108.22,398.64 108.33,399.54 108.46,399.62 108.62,398.19 108.73,396.24 108.87,392.92 108.99,389.81 109.14,385.35 109.26,382.10 109.41,378.41 109.53,376.36 109.69,374.94 109.80,374.93 109.95,376.26 110.06,378.13 110.21,381.50 110.32,384.57 110.47,388.97 110.61,392.84 110.71,395.50 110.86,398.34 111.02,399.79 111.11,399.89 111.26,398.81 111.41,396.26 111.52,393.65 111.64,390.59 111.80,385.85 111.93,382.09 112.08,378.15 112.20,375.97 112.34,374.53 112.45,374.34 112.61,375.63 112.74,377.90 112.84,380.10 113.00,384.74 113.15,389.26 113.27,392.84 113.42,396.71 113.51,398.61 113.66,400.44 113.79,400.72 113.91,399.87 114.07,397.21 114.19,394.41 114.33,390.12 114.47,385.67 114.60,381.68 114.70,378.96 114.83,376.11 115.01,373.99 115.13,373.81 115.24,374.56 115.37,376.59 115.52,380.18 115.64,383.55 115.81,389.01 115.91,391.95 116.08,396.55 116.20,398.93 116.32,400.41 116.46,400.73 116.60,399.70 116.71,397.90 116.85,394.53 116.96,391.35 117.10,387.25 117.28,381.79 117.41,378.51 117.53,376.04 117.63,374.84 117.79,374.33 117.93,375.35 118.05,377.21 118.18,380.13 118.33,384.31 118.43,387.12 118.58,391.71 118.71,394.84 118.85,397.68 118.99,399.30 119.11,399.67 119.27,398.62 119.40,396.54 119.53,393.77 119.67,390.22 119.78,386.87 119.90,383.44 120.07,379.36 120.16,377.44 120.32,375.38 120.46,374.90 120.56,375.40 120.70,377.14 120.86,380.43 121.00,384.25 121.11,387.41 121.25,391.49 121.39,395.17 121.52,397.74 121.65,399.40 121.79,399.99 121.92,399.23 122.06,397.22 122.18,394.60 122.32,390.87 122.43,387.66 122.56,383.76 122.73,379.29 122.83,377.14 122.98,375.10 123.13,374.46 123.23,374.91 123.39,377.06 123.50,379.40 123.65,383.49 123.79,387.78 123.93,391.73 124.06,395.20 124.18,397.73 124.31,399.60 124.43,400.24 124.56,399.84 124.72,397.65 124.82,395.64 125.00,390.81 125.09,388.01 125.25,383.18 125.37,379.98 125.51,376.93 125.66,375.05 125.76,374.50 125.93,375.21 126.05,377.03 126.18,379.65 126.31,383.16 126.43,386.76 126.60,391.57 126.70,394.27 126.83,397.02 126.98,399.18 127.13,399.87 127.26,399.16 127.38,397.63 127.50,395.16 127.65,391.27 127.77,387.71 127.92,383.43 128.06,379.91 128.18,377.25 128.33,375.24 128.45,374.67 128.60,375.31 128.71,376.83 128.82,378.99 128.98,382.94 129.12,387.05 129.23,390.46 129.35,393.76 129.49,397.04 129.65,399.38 129.75,400.06 129.88,399.90 130.06,397.81 130.19,394.90 130.32,391.48 130.45,387.66 130.58,383.82 130.70,380.47 130.84,377.42 130.98,375.43 131.09,374.72 131.22,374.96 131.38,376.78 131.51,379.31 131.66,383.26 131.76,386.19 131.89,390.06 132.01,393.25 132.14,396.17 132.28,398.45 132.44,399.56 132.59,399.06 132.68,398.08 132.81,395.70 132.97,391.84 133.09,388.71 133.21,385.29 133.38,380.58 133.48,378.51 133.63,376.15 133.78,375.12 133.91,375.48 134.05,377.13 134.17,379.28 134.28,381.88 134.41,385.41 134.57,390.05 134.70,393.43 134.81,396.08 134.94,398.20 135.09,399.39 135.22,399.30 135.35,398.01 135.49,395.71 135.64,392.03 135.76,388.78 135.91,384.37 136.03,381.27 136.15,378.44 136.32,375.76 136.43,374.90 136.58,375.13 136.68,376.13 136.85,379.24 136.97,382.10 137.09,385.48 137.21,389.24 137.34,392.80 137.47,396.01 137.61,398.62 137.75,399.98 137.89,399.97 138.02,398.76 138.13,396.80 138.27,393.46 138.40,389.87 138.53,385.84 138.68,381.65 138.83,378.08 138.94,376.24 139.11,374.80 139.25,375.11 139.36,376.32 139.46,378.08 139.60,381.30 139.76,385.43 139.91,389.90 140.05,393.49 140.17,396.14 140.31,398.32 140.40,399.09 140.55,399.16 140.69,397.99 140.80,396.07 140.96,392.74 141.09,389.20 141.24,384.82 141.33,382.49 141.47,378.96 141.60,376.64 141.74,375.16 141.88,374.91 142.01,375.93 142.18,378.71 142.28,381.07 142.42,385.01 142.53,388.48 142.67,392.46 142.80,395.89 142.95,398.81 143.07,400.12 143.20,400.41 143.35,399.27 143.46,397.54 143.64,393.17 143.73,390.54 143.88,385.84 144.04,381.03 144.13,378.76 144.26,376.23 144.41,374.47 144.55,374.35 144.67,375.36 144.80,377.40 144.96,381.16 145.09,384.82 145.21,388.46 145.35,392.75 145.50,396.32 145.61,398.42 145.74,399.78 145.89,399.98 146.01,398.95 146.12,397.20 146.30,393.14 146.39,390.59 146.56,385.71 146.67,382.39 146.83,378.69 146.95,376.53 147.09,375.05 147.21,374.92 147.33,375.75 147.49,378.26 147.63,381.39 147.74,384.52 147.90,388.98 148.02,392.31 148.17,395.72 148.26,397.42 148.43,399.21 148.56,399.30 148.70,398.16 148.80,396.61 148.94,393.56 149.10,389.60 149.22,386.18 149.33,383.07 149.46,379.79 149.63,376.70 149.75,375.49 149.85,375.17 149.99,375.88 150.14,377.98 150.26,380.37 150.40,384.18 150.55,388.27 150.65,391.14 150.79,394.74 150.96,397.90 151.05,398.95 151.18,399.58 151.36,398.60 151.48,396.71 151.60,394.08 151.76,390.01 151.86,387.18 151.98,383.69 152.15,379.24 152.28,376.89 152.39,375.47 152.54,374.95 152.65,375.49 152.79,377.39 152.94,380.48 153.09,384.40 153.19,387.43 153.31,390.87 153.45,394.39 153.59,397.38 153.74,399.27 153.88,399.71 154.01,398.92 154.15,396.82 154.28,394.15 154.41,390.63 154.54,386.89 154.68,382.95 154.81,379.47 154.96,376.62 155.05,375.46 155.21,374.74 155.31,375.21 155.45,376.93 155.62,380.56 155.73,383.37 155.87,387.51 155.98,390.86 156.13,394.82 156.24,397.14 156.40,399.44 156.55,400.00 156.67,399.31 156.81,397.46 156.93,394.75 157.05,391.55 157.21,386.91 157.32,383.58 157.45,380.05 157.60,376.93 157.75,374.90 157.87,374.45 158.00,375.10 158.11,376.45 158.28,379.98 158.39,383.01 158.53,387.29 158.66,391.17 158.81,395.08 158.90,397.15 159.04,399.32 159.18,400.27 159.31,399.89 159.47,397.84 159.57,395.70 159.70,392.27 159.86,387.63 159.97,384.35 160.14,379.65 160.25,377.28 160.38,375.29 160.53,374.42 160.68,375.16 160.78,376.43 160.91,379.01 161.05,382.65 161.21,387.21 161.35,391.39 161.44,393.88 161.57,396.79 161.71,399.11 161.85,400.00 162.00,399.46 162.13,397.77 162.27,394.95 162.38,391.99 162.52,388.10 162.68,383.42 162.76,381.12 162.90,378.12 163.03,375.98 163.20,374.87 163.32,375.29 163.46,377.02 163.60,379.60 163.74,383.19 163.86,386.53 163.98,390.03 164.10,393.27 164.25,396.54 164.37,398.38 164.54,399.41 164.67,398.94 164.77,397.75 164.92,395.19 165.05,392.05 165.19,388.12 165.34,383.72 165.44,381.04 165.59,377.52 165.72,375.44 165.87,374.31 165.97,374.47 166.12,376.11 166.23,378.06 166.39,382.08 166.54,386.83 166.66,390.66 166.76,393.58 166.94,398.24 167.05,400.14 167.19,401.33 167.34,401.00 167.45,399.56 167.57,397.18 167.71,393.18 167.86,388.34 167.98,384.55 168.10,380.77 168.24,376.97 168.36,374.75 168.49,373.40 168.63,373.42 168.78,375.10 168.90,377.60 169.03,380.97 169.19,386.09 169.32,390.20 169.46,394.55 169.56,397.05 169.72,399.93 169.83,400.96 169.98,400.85 170.11,399.41 170.25,396.61 170.38,393.05 170.53,388.35 170.65,384.61 170.77,381.06 170.93,377.17 171.03,375.39 171.19,373.91 171.31,374.11 171.43,375.30 171.59,378.34 171.69,380.88 171.82,384.66 171.96,389.17 172.11,393.44 172.25,396.85 172.36,398.91 172.51,400.25 172.67,400.00 172.80,398.47 172.92,396.23 173.03,393.49 173.17,389.36 173.32,384.72 173.46,380.74 173.60,377.42 173.70,375.55 173.83,374.18 173.96,374.04 174.12,375.52 174.26,378.26 174.38,381.16 174.50,384.95 174.65,389.55 174.77,393.21 174.91,396.91 175.02,399.15 175.15,400.70 175.30,400.97 175.42,399.90 175.55,397.65 175.73,393.09 175.85,389.42 175.96,385.67 176.13,380.66 176.21,378.42 176.36,375.48 176.52,373.86 176.66,374.00 176.78,375.30 176.88,377.10 177.04,380.89 177.14,384.03 177.28,388.18 177.45,393.45 177.54,395.73 177.68,398.56 177.81,400.17 177.98,400.41 178.11,399.23 178.22,397.35 178.36,393.94 178.52,389.24 178.62,386.36 178.74,382.61 178.91,378.39 179.01,376.36 179.17,374.59 179.29,374.37 179.41,375.18 179.57,377.84 179.71,381.14 179.82,384.24 179.95,387.97 180.12,393.06 180.22,395.41 180.35,398.03 180.49,399.64 180.62,399.96 180.75,399.10 180.92,396.42 181.01,394.41 181.18,389.68 181.30,386.19 181.40,383.08 181.54,379.43 181.70,376.28 181.83,374.85 181.95,374.51 182.08,375.32 182.25,377.96 182.37,380.85 182.50,384.46 182.65,388.88 182.75,391.72 182.88,395.37 183.04,398.53 183.16,399.83 183.29,400.25 183.44,399.22 183.59,396.91 183.71,393.89 183.84,390.24 183.96,386.61 184.10,382.04 184.21,379.00 184.34,375.90 184.47,373.93 184.63,373.20 184.78,374.27 184.90,376.38 185.01,379.00 185.16,383.71 185.28,387.69 185.44,393.08 185.55,396.60 185.68,399.61 185.81,401.85 185.93,402.65 186.08,401.90 186.21,399.59 186.35,395.92 186.50,391.22 186.64,386.00 186.77,381.65 186.89,378.04 187.01,375.15 187.14,373.27 187.29,372.59 187.40,373.23 187.53,375.23 187.69,379.27 187.80,382.56 187.97,388.21 188.09,392.24 188.22,395.86 188.38,399.24 188.47,400.49 188.61,401.23 188.75,400.42 188.91,397.92 189.00,395.92 189.16,391.30 189.31,386.47 189.40,383.52 189.56,378.81 189.69,375.86 189.81,374.17 189.95,373.42 190.11,374.35 190.21,376.02 190.35,379.05 190.49,383.06 190.59,386.41 190.76,392.02 190.86,394.73 191.04,398.94 191.17,400.71 191.30,401.20 191.44,400.33 191.55,398.48 191.67,395.82 191.82,391.57 191.96,387.24 192.06,383.94 192.23,379.23 192.34,376.83 192.48,374.71 192.60,374.05 192.73,374.54 192.90,376.85 193.03,379.69 193.12,382.26 193.29,387.35 193.43,391.53 193.56,394.73 193.69,397.51 193.80,399.05 193.95,399.87 194.07,399.40 194.23,397.38 194.35,394.87 194.47,391.98 194.63,387.24 194.76,383.47 194.86,380.65 194.99,377.55 195.12,375.53 195.29,374.34 195.39,374.59 195.53,376.16 195.69,379.35 195.80,382.27 195.93,386.21 196.05,389.97 196.18,393.83 196.34,397.69 196.45,399.52 196.63,400.75 196.71,400.53 196.86,398.93 196.99,396.43 197.16,391.77 197.29,387.81 197.38,384.59 197.51,380.58 197.65,377.05 197.82,374.05 197.95,373.09 198.08,373.47 198.20,375.05 198.34,377.87 198.48,381.89 198.58,385.41 198.75,391.21 198.88,395.40 199.01,398.76 199.12,400.85 199.25,402.19 199.43,401.73 199.56,399.68 199.68,396.74 199.82,392.65 199.93,388.75 200.09,383.45 200.21,379.63 200.33,376.57 200.48,374.03 200.58,373.19 200.73,373.40 200.89,375.45 201.00,377.92 201.14,381.73 201.27,385.94 201.42,390.86 201.52,393.64 201.68,397.53 201.80,399.54 201.92,400.55 202.04,400.47 202.20,398.83 202.31,396.74 202.47,392.78 202.59,389.00 202.73,384.85 202.89,380.17 202.98,377.89 203.13,374.97 203.26,373.83 203.38,373.82 203.52,375.24 203.68,378.36 203.78,380.95 203.94,385.81 204.05,389.40 204.20,393.89 204.33,397.37 204.44,399.45 204.61,401.14 204.72,401.05 204.85,399.84 204.98,397.36 205.15,392.68 205.28,388.53 205.39,385.00 205.51,381.17 205.67,377.05 205.77,375.14 205.95,373.36 206.03,373.35 206.17,374.49 206.32,377.20 206.46,380.88 206.57,384.26 206.71,389.12 206.88,394.42 207.01,397.57 207.10,399.46 207.28,401.31 207.39,401.25 207.55,399.48 207.65,397.54 207.78,394.09 207.93,389.34 208.06,385.31 208.18,381.50 208.32,377.59 208.46,374.94 208.58,373.73 208.74,373.71 208.87,375.09 209.00,377.68 209.13,381.04 209.24,384.38 209.40,389.44 209.50,392.66 209.64,396.20 209.79,399.21 209.90,400.49 210.03,400.78 210.19,399.52 210.35,396.69 210.43,394.58 210.58,390.03 210.70,386.37 210.85,381.46 210.99,377.82 211.12,375.21 211.23,373.84 211.40,373.45 211.52,374.54 211.66,376.99 211.79,380.56 211.94,385.11 212.05,388.69 212.21,393.77 212.30,396.41 212.45,399.66 212.57,401.22 212.71,401.65 212.87,400.11 213.01,397.38 213.11,394.55 213.24,390.76 213.37,386.29 213.54,381.12 213.65,378.18 213.77,375.65 213.93,373.72 214.05,373.60 214.18,374.64 214.34,377.47 214.46,380.64 214.56,383.41 214.74,389.17 214.84,392.37 214.96,395.54 215.14,398.91 215.24,400.07 215.39,400.36 215.53,399.30 215.63,397.66 215.80,393.57 215.92,390.38 216.02,387.12 216.18,382.33 216.29,379.47 216.47,375.71 216.59,374.41 216.70,374.06 216.86,375.15 216.99,377.36 217.12,380.42 217.23,383.50 217.36,387.37 217.53,392.66 217.66,396.21 217.77,398.36 217.90,400.16 218.04,400.66 218.16,399.88 218.33,397.17 218.44,394.52 218.59,390.46 218.71,386.56 218.82,383.38 218.95,379.79 219.09,376.86 219.24,374.91 219.38,374.50 219.53,375.61 219.66,377.69 219.79,380.53 219.90,383.62 220.03,387.45 220.18,391.80 220.30,394.71 220.45,397.74 220.58,399.22 220.69,399.60 220.85,398.93 220.95,397.71 221.10,394.83 221.26,390.32 221.38,386.81 221.52,382.42 221.66,378.66 221.76,376.44 221.92,374.02 222.03,373.41 222.15,373.78 222.28,375.50 222.42,378.43 222.58,383.14 222.71,387.65 222.85,392.57 222.96,395.84 223.12,399.88 223.22,401.71 223.36,402.72 223.51,401.76 223.63,399.74 223.79,395.42 223.89,392.33 224.02,387.89 224.19,382.20 224.32,378.27 224.42,376.01 224.56,373.74 224.70,373.01 224.81,373.53 224.96,375.66 225.11,379.30 225.25,383.23 225.35,386.43 225.49,390.92 225.62,394.68 225.77,398.13 225.88,399.63 226.06,400.48 226.14,400.11 226.30,398.14 226.44,395.08 226.59,391.04 226.70,387.53 226.85,383.10 226.96,379.91 227.08,377.26 227.23,375.04 227.37,374.21 227.50,374.72 227.64,376.68 227.76,379.23 227.89,382.56 228.03,386.75 228.16,390.79 228.27,393.78 228.42,397.28 228.56,399.50 228.71,400.32 228.82,399.96 228.97,398.10 229.09,395.62 229.22,392.29 229.35,388.48 229.51,383.43 229.65,379.46 229.77,376.62 229.88,374.87 230.04,373.67 230.16,374.03 230.31,376.06 230.40,377.82 230.57,382.56 230.69,386.28 230.84,391.28 230.96,394.89 231.06,397.50 231.23,400.56 231.36,401.48 231.48,401.14 231.60,399.61 231.75,396.50 231.89,392.53 232.02,388.46 232.13,384.98 232.27,380.78 232.43,376.91 232.56,374.93 232.70,374.02 232.82,374.37 232.94,375.81 233.10,379.07 233.21,381.75 233.33,385.38 233.48,389.86 233.62,393.66 233.74,396.41 233.91,399.00 234.01,399.62 234.13,399.59 234.29,397.97 234.40,396.07 234.54,392.72 234.68,388.78 234.81,385.08 234.96,380.84 235.07,378.37 235.23,375.69 235.33,374.80 235.49,374.89 235.64,376.61 235.77,379.00 235.91,382.61 236.02,385.85 236.13,389.22 236.28,393.34 236.43,396.99 236.53,398.69 236.69,400.11 236.81,399.98 236.97,398.20 237.07,396.26 237.21,393.04 237.34,389.33 237.48,384.96 237.64,380.70 237.75,378.17 237.89,375.85 238.02,374.90 238.12,374.91 238.28,376.37 238.42,378.77 238.55,381.97 238.67,385.21 238.80,389.00 238.94,392.74 239.05,395.50 239.19,397.95 239.33,399.26 239.48,399.33 239.63,397.88 239.76,395.74 239.88,392.86 240.02,388.90 240.14,385.47 240.25,382.33 240.42,378.32 240.55,376.04 240.69,374.89 240.83,374.95 240.96,376.21 241.09,378.63 241.19,380.78 241.37,385.93 241.48,389.26 241.61,393.07 241.75,396.37 241.86,398.50 242.00,399.96 242.16,399.98 242.28,398.82 242.43,396.07 242.53,393.81 242.68,389.49 242.81,385.48 242.92,382.50 243.08,378.40 243.20,376.22 243.34,374.83 243.46,374.64 243.61,375.88 243.75,378.23 243.89,381.70 244.02,385.39 244.16,389.53 244.30,393.22 244.42,396.03 244.53,398.05 244.67,399.59 244.78,399.85 244.94,398.76 245.06,396.88 245.21,393.57 245.35,389.54 245.45,386.66 245.62,381.53 245.71,379.27 245.87,376.13 245.99,374.72 246.11,374.29 246.27,375.31 246.39,377.23 246.51,380.03 246.69,384.94 246.79,388.11 246.96,393.21 247.07,396.22 247.19,398.65 247.31,400.19 247.49,400.56 247.58,399.84 247.75,397.07 247.87,394.15 248.00,390.43 248.11,386.93 248.26,382.37 248.37,379.38 248.55,375.91 248.68,374.51 248.78,374.24 248.93,375.24 249.05,377.03 249.21,380.73 249.31,383.67 249.45,387.64 249.59,391.76 249.76,396.07 249.88,398.38 249.99,399.63 250.15,399.99 250.26,399.23 250.38,397.43 250.55,393.61 250.64,391.23 250.81,386.14 250.95,382.10 251.04,379.89 251.21,376.47 251.34,375.08 251.44,374.77 251.59,375.58 251.71,377.32 251.85,380.29 251.99,383.80 252.12,387.66 252.23,390.89 252.38,394.68 252.52,397.38 252.67,399.22 252.80,399.62 252.94,398.77 253.07,396.93 253.21,393.74 253.33,390.68 253.45,387.22 253.57,383.80 253.74,379.44 253.86,376.98 253.97,375.51 254.12,374.82 254.28,375.75 254.40,377.43 254.51,379.89 254.67,384.11 254.78,387.35 254.90,390.65 255.03,394.31 255.21,398.00 255.30,399.14 255.47,399.91 255.56,399.49 255.72,397.53 255.84,394.94 255.98,391.37 256.10,387.89 256.25,383.49 256.40,379.49 256.52,377.00 256.63,375.42 256.80,374.60 256.94,375.39 257.05,376.93 257.18,379.58 257.29,382.56 257.43,386.52 257.58,390.94 257.70,394.19 257.88,397.98 257.99,399.47 258.11,400.05 258.26,399.44 258.37,398.01 258.54,394.41 258.65,391.45 258.79,387.24 258.90,384.14 259.05,380.15 259.20,377.08 259.31,375.49 259.43,374.77 259.58,375.24 259.73,377.25 259.85,379.59 260.01,383.78 260.12,386.98 260.27,391.31 260.36,393.64 260.52,397.20 260.65,398.96 260.77,399.77 260.94,399.22 261.03,398.15 261.18,395.22 261.30,392.06 261.47,387.14 261.60,383.45 261.70,380.60 261.83,377.54 261.95,375.36 262.10,374.18 262.27,374.69 262.40,376.45 262.53,379.23 262.64,382.26 262.78,386.48 262.92,390.85 263.06,395.10 263.15,397.32 263.29,399.91 263.45,401.06 263.56,400.79 263.73,398.52 263.82,396.70 264.00,391.67 264.09,388.76 264.23,384.52 264.37,380.19 264.52,376.71 264.67,374.37 264.77,373.69 264.93,374.21 265.06,376.04 265.20,379.08 265.30,381.83 265.44,386.13 265.55,389.60 265.70,394.14 265.83,397.37 265.95,399.50 266.12,400.79 266.23,400.53 266.35,399.18 266.49,396.65 266.61,393.35 266.79,388.15 266.91,384.37 267.04,380.52 267.17,377.46 267.33,374.86 267.43,374.13 267.57,374.35 267.72,376.02 267.86,379.01 267.99,382.47 268.12,386.51 268.22,389.45 268.39,394.39 268.52,397.29 268.63,399.04 268.79,400.21 268.93,399.77 269.05,398.29 269.18,395.68 269.32,392.14 269.46,388.23 269.58,384.47 269.68,381.83 269.82,378.53 269.95,376.35 270.10,375.09 270.21,375.14 270.37,376.63 270.52,379.44 270.66,382.76 270.74,385.02 270.91,389.70 271.01,392.44 271.19,396.17 271.27,397.55 271.41,398.93 271.56,399.09 271.67,398.24 271.84,395.57 271.95,393.09 272.11,388.75 272.26,384.56 272.36,381.60 272.50,378.42 272.66,375.70 272.75,374.83 272.92,374.81 273.04,376.03 273.14,377.64 273.29,381.11 273.44,385.59 273.54,388.58 273.72,393.79 273.85,397.16 273.98,399.36 274.11,400.47 274.23,400.33 274.38,398.81 274.49,396.66 274.62,393.46 274.77,389.17 274.89,385.55 275.02,382.00 275.15,378.82 275.29,376.30 275.42,375.10 275.57,375.14 275.71,376.46 275.84,378.82 275.98,382.01 276.09,384.90 276.22,388.64 276.38,392.80 276.48,395.00 276.64,397.68 276.76,398.85 276.90,399.01 277.04,397.96 277.17,395.90 277.28,393.51 277.40,390.36 277.58,385.20 277.71,381.65 277.82,378.97 277.97,376.40 278.07,375.25 278.22,374.84 278.36,375.87 278.50,378.12 278.61,380.57 278.73,384.01 278.91,389.38 279.04,393.06 279.14,395.58 279.31,398.85 279.44,400.16 279.54,400.34 279.70,399.06 279.81,397.20 279.95,394.17 280.07,390.70 280.23,385.96 280.36,382.01 280.49,378.73 280.60,376.50 280.77,374.54 280.88,374.33 281.01,375.18 281.16,377.62 281.27,380.12 281.44,384.95 281.56,388.56 281.70,392.68 281.81,395.49 281.95,398.25 282.07,399.74 282.20,400.17 282.35,399.25 282.50,396.81 282.62,394.08 282.77,389.89 282.86,387.07 283.01,382.91 283.12,379.79 283.30,376.31 283.39,375.29 283.55,374.76 283.69,375.73 283.80,377.33 283.97,381.19 284.11,384.84 284.20,387.56 284.33,391.22 284.49,395.24 284.61,397.64 284.75,399.23 284.89,399.58 285.04,398.54 285.16,396.64 285.27,394.31 285.43,390.22 285.54,386.87 285.70,382.38 285.81,379.76 285.92,377.59 286.10,375.41 286.20,375.11 286.36,376.03 286.48,377.80 286.62,380.78 286.76,384.24 286.90,388.26 287.03,391.83 287.15,394.85 287.27,397.11 287.41,398.90 287.53,399.42 287.67,398.83 287.81,397.00 287.94,394.34 288.06,391.16 288.20,387.40 288.33,383.65 288.46,380.40 288.61,377.30 288.72,375.88 288.86,375.12 288.99,375.59 289.15,377.68 289.26,379.92 289.39,383.01 289.56,387.83 289.67,391.01 289.82,394.87 289.93,397.04 290.06,398.99 290.21,399.82 290.32,399.52 290.50,397.24 290.59,395.42 290.76,390.79 290.88,387.16 291.02,382.90 291.12,379.94 291.29,376.02 291.41,374.30 291.53,373.47 291.65,373.81 291.79,375.44 291.96,379.23 292.10,383.38 292.20,386.84 292.35,391.89 292.48,395.99 292.60,399.08 292.73,401.17 292.87,401.91 292.99,401.31 293.15,398.94 293.26,396.18 293.40,392.11 293.52,388.34 293.69,382.68 293.78,380.19 293.95,376.29 294.08,374.44 294.19,373.81 294.36,374.65 294.44,375.80 294.59,378.80 294.72,382.45 294.87,386.92 295.00,390.82 295.14,394.54 295.28,397.49 295.37,398.81 295.54,399.94 295.66,399.57 295.81,397.77 295.93,395.28 296.06,392.13 296.17,388.83 296.32,384.41 296.46,380.57 296.59,377.71 296.72,375.60 296.87,374.64 296.99,374.95 297.15,376.86 297.26,378.98 297.39,382.44 297.53,386.28 297.68,390.95 297.80,394.12 297.95,397.46 298.04,398.77 298.22,400.13 298.31,399.92 298.48,398.00 298.57,396.31 298.75,391.81 298.87,388.19 299.00,384.02 299.12,380.65 299.25,377.42 299.37,375.29 299.51,374.05 299.67,374.24 299.78,375.56 299.90,377.76 300.04,381.37 300.17,385.42 300.31,389.72 300.46,394.18 300.61,398.05 300.73,399.96 300.87,401.02 300.97,400.86 301.13,399.01 301.28,396.00 301.42,392.12 301.53,388.43 301.66,384.37 301.81,379.93 301.90,377.74 302.07,374.80 302.20,373.85 302.33,374.17 302.45,375.44 302.57,377.66 302.70,381.11 302.86,385.97 302.98,389.52 303.14,394.37 303.23,396.55 303.40,399.58 303.52,400.55 303.64,400.53 303.77,399.29 303.91,396.75 304.05,393.34 304.17,389.57 304.30,385.37 304.48,380.20 304.58,377.59 304.73,374.95 304.86,373.72 304.98,373.76 305.14,375.51 305.24,377.44 305.37,380.70 305.49,384.50 305.64,389.18 305.76,393.01 305.92,397.33 306.05,399.66 306.16,400.68 306.34,400.53 306.46,399.09 306.59,396.67 306.74,392.65 306.85,389.34 306.96,385.84 307.13,381.11 307.27,377.82 307.36,376.37 307.51,374.90 307.63,374.90 307.80,376.53 307.89,378.10 308.06,382.06 308.16,384.80 308.32,389.18 308.46,392.72 308.59,395.70 308.69,397.31 308.85,398.85 308.96,399.00 309.09,398.12 309.23,396.16 309.36,393.37 309.53,388.83 309.65,385.71 309.76,382.60 309.91,379.25 310.02,377.31 310.16,375.80 310.32,375.60 310.45,376.71 310.58,378.75 310.74,382.16 310.87,385.68 310.99,389.15 311.11,392.17 311.26,395.63 311.36,397.62 311.53,399.50 311.63,399.77 311.80,398.62 311.88,397.39 312.06,393.46 312.17,390.09 312.32,385.37 312.44,381.69 312.59,377.52 312.72,374.82 312.85,373.14 313.00,372.79 313.09,373.43 313.26,376.52 313.37,379.54 313.52,384.27 313.65,389.05 313.77,393.34 313.91,397.88 314.06,401.35 314.17,402.61 314.33,402.70 314.41,401.88 314.58,398.77 314.71,394.85 314.83,390.97 314.95,386.93 315.12,381.26 315.25,377.63 315.36,375.27 315.48,373.76 315.65,373.46 315.78,374.72 315.92,377.24 316.05,380.61 316.16,383.65 316.31,388.36 316.43,392.04 316.54,387.30 322.40,387.30" fill="none" stroke="#ff0000" stroke-width="0.95" stroke-linejoin="round"/>
<rect x="42.80" y="344.40" width="279.60" height="85.80" fill="none" stroke="#000" stroke-width="1.3"/>
<path d="M42.80 430.20v-5.2M42.80 344.40v5.2M109.37 430.20v-5.2M109.37 344.40v5.2M175.94 430.20v-5.2M175.94 344.40v5.2M242.51 430.20v-5.2M242.51 344.40v5.2M309.09 430.20v-5.2M309.09 344.40v5.2M76.09 430.20v-2.8M76.09 344.40v2.8M142.66 430.20v-2.8M142.66 344.40v2.8M209.23 430.20v-2.8M209.23 344.40v2.8M275.80 430.20v-2.8M275.80 344.40v2.8M42.80 344.40h5.2M322.40 344.40h-5.2M42.80 365.85h5.2M322.40 365.85h-5.2M42.80 387.30h5.2M322.40 387.30h-5.2M42.80 408.75h5.2M322.40 408.75h-5.2M42.80 430.20h5.2M322.40 430.20h-5.2M42.80 355.12h2.8M322.40 355.12h-2.8M42.80 376.57h2.8M322.40 376.57h-2.8M42.80 398.02h2.8M322.40 398.02h-2.8M42.80 419.47h2.8M322.40 419.47h-2.8" stroke="#000" stroke-width="1.1" fill="none"/>
<rect x="42.80" y="344.40" width="99.30" height="19.10" fill="#fff" stroke="#222" stroke-width="1"/>
<line x1="44.8" x2="76.8" y1="353.90" y2="353.90" stroke="#ff4040" stroke-width="1.2"/>
<text x="80.60" y="358.90" font-size="14.5" font-weight="normal" text-anchor="start" >Xiaomi 11</text>
<text transform="translate(38.10 348.30) scale(0.93 1)" font-size="13.0" font-weight="bold" text-anchor="end">1.0</text>
<text transform="translate(38.10 369.75) scale(0.93 1)" font-size="13.0" font-weight="bold" text-anchor="end">0.5</text>
<text transform="translate(38.10 391.20) scale(0.93 1)" font-size="13.0" font-weight="bold" text-anchor="end">0.0</text>
<text transform="translate(38.10 412.65) scale(0.93 1)" font-size="13.0" font-weight="bold" text-anchor="end">-0.5</text>
<text transform="translate(38.10 434.10) scale(0.93 1)" font-size="13.0" font-weight="bold" text-anchor="end">-1.0</text>
<text transform="translate(42.80 445.20) scale(0.93 1)" font-size="13.0" font-weight="bold" text-anchor="middle">0</text>
<text transform="translate(109.37 445.20) scale(0.93 1)" font-size="13.0" font-weight="bold" text-anchor="middle">5</text>
<text transform="translate(175.94 445.20) scale(0.93 1)" font-size="13.0" font-weight="bold" text-anchor="middle">10</text>
<text transform="translate(242.51 445.20) scale(0.93 1)" font-size="13.0" font-weight="bold" text-anchor="middle">15</text>
<text transform="translate(309.09 445.20) scale(0.93 1)" font-size="13.0" font-weight="bold" text-anchor="middle">20</text>
<polyline points="399.10,84.35 399.60,84.57 400.10,84.63 400.60,84.60 401.10,84.55 401.60,84.52 402.10,84.56 402.60,84.66 403.10,84.81 403.60,84.94 404.10,85.03 404.60,85.03 405.10,84.96 405.60,84.83 406.10,84.70 406.60,84.61 407.10,84.61 407.60,84.68 408.10,84.80 408.60,84.94 409.10,85.03 409.60,85.05 410.10,84.98 410.60,84.86 411.10,84.72 411.60,84.63 412.10,84.60 412.60,84.66 413.10,84.78 413.60,84.91 414.10,85.02 414.60,85.05 415.10,85.00 415.60,84.89 416.10,84.75 416.60,84.64 417.10,84.60 417.60,84.64 418.10,84.75 418.60,84.89 419.10,85.00 419.60,85.05 420.10,85.02 420.60,84.91 421.10,84.78 421.60,84.66 422.10,84.60 422.60,84.63 423.10,84.72 423.60,84.86 424.10,84.98 424.60,85.05 425.10,85.03 425.60,84.94 426.10,84.80 426.60,84.68 427.10,84.61 427.60,84.62 428.10,84.70 428.60,84.83 429.10,84.96 429.60,85.04 430.10,85.04 430.60,84.96 431.10,84.83 431.60,84.70 432.10,84.62 432.60,84.61 433.10,84.68 433.60,84.80 434.10,84.94 434.60,85.03 435.10,85.05 435.60,84.98 436.10,84.86 436.60,84.72 437.10,84.63 437.60,84.60 438.10,84.66 438.60,84.78 439.10,84.91 439.60,85.02 440.10,85.05 440.60,85.00 441.10,84.89 441.60,84.75 442.10,84.64 442.60,84.60 443.10,84.64 443.60,84.75 444.10,84.89 444.60,85.00 445.10,85.05 445.60,85.02 446.10,84.91 446.60,84.78 447.10,84.66 447.60,84.60 448.10,84.63 448.60,84.72 449.10,84.86 449.60,84.98 450.10,85.05 450.60,85.03 451.10,84.94 451.60,84.80 452.10,84.68 452.60,84.61 453.10,84.61 453.60,84.70 454.10,84.83 454.60,84.96 455.10,85.04 455.60,85.04 456.10,84.96 456.60,84.83 457.10,84.70 457.60,84.61 458.10,84.61 458.60,84.68 459.10,84.80 459.60,84.94 460.10,85.03 460.60,85.05 461.10,84.98 461.60,84.86 462.10,84.72 462.60,84.63 463.10,84.60 463.60,84.66 464.10,84.78 464.60,84.91 465.10,85.02 465.60,85.05 466.10,85.00 466.60,84.89 467.10,84.75 467.60,84.64 468.10,84.60 468.60,84.64 469.10,84.75 469.60,84.89 470.10,85.00 470.60,85.05 471.10,85.02 471.60,84.91 472.10,84.77 472.60,84.65 473.10,84.60 473.60,84.62 474.10,84.72 474.60,84.86 475.10,84.98 475.60,85.05 476.10,85.03 476.60,84.94 477.10,84.80 477.60,84.67 478.10,84.60 478.60,84.61 479.10,84.69 479.60,84.83 480.10,84.96 480.60,85.04 481.10,85.04 481.60,84.96 482.10,84.83 482.60,84.69 483.10,84.60 483.60,84.59 484.10,84.67 484.60,84.80 485.10,84.93 485.60,85.03 486.10,85.05 486.60,84.98 487.10,84.85 487.60,84.71 488.10,84.61 488.60,84.58 489.10,84.64 489.60,84.76 490.10,84.90 490.60,85.01 491.10,85.05 491.60,85.00 492.10,84.87 492.60,84.73 493.10,84.61 493.60,84.56 494.10,84.61 494.60,84.72 495.10,84.87 495.60,85.00 496.10,85.05 496.60,85.01 497.10,84.90 497.60,84.74 498.10,84.61 498.60,84.54 499.10,84.56 499.60,84.67 500.10,84.83 500.60,84.97 501.10,85.05 501.60,85.03 502.10,84.92 502.60,84.75 503.10,84.60 503.60,84.51 504.10,84.51 504.60,84.61 505.10,84.77 505.60,84.94 506.10,85.04 506.60,85.04 507.10,84.93 507.60,84.76 508.10,84.57 508.60,84.45 509.10,84.43 509.60,84.52 510.10,84.70 510.60,84.89 511.10,85.02 511.60,85.04 512.10,84.94 512.60,84.75 513.10,84.53 513.60,84.36 514.10,84.31 514.60,84.39 515.10,84.58 515.60,84.81 516.10,84.99 516.60,85.05 517.10,84.96 517.60,84.73 518.10,84.46 518.60,84.22 519.10,84.11 519.60,84.18 520.10,84.39 520.60,84.68 521.10,84.93 521.60,85.05 522.10,84.97 522.60,84.70 523.10,84.34 523.60,83.99 524.10,83.80 524.60,83.83 525.10,84.08 525.60,84.46 526.00,83.30 527.20,82.00 528.40,83.60 529.60,82.60 530.40,81.80 531.20,81.40 532.20,82.60 533.20,84.20 534.20,84.40 535.30,81.50 536.50,75.00 537.70,65.20 538.60,48.00 539.35,16.80 539.90,48.00 540.30,75.70 541.00,76.40 541.80,75.00 542.80,77.50 543.80,81.50 544.80,84.60 545.80,85.30 547.00,83.20 548.30,82.50 549.50,84.00 550.70,84.60 552.00,83.00 553.30,83.40 554.50,84.50 555.00,84.59 555.50,84.94 556.00,85.05 556.50,84.90 557.00,84.58 557.50,84.22 558.00,83.95 558.50,83.88 559.00,84.02 559.50,84.32 560.00,84.66 560.50,84.94 561.00,85.05 561.50,84.98 562.00,84.76 562.50,84.49 563.00,84.28 563.50,84.19 564.00,84.26 564.50,84.46 565.00,84.71 565.50,84.93 566.00,85.04 566.50,85.02 567.00,84.87 567.50,84.66 568.00,84.47 568.50,84.38 569.00,84.40 569.50,84.54 570.00,84.74 570.50,84.92 571.00,85.04 571.50,85.04 572.00,84.93 572.50,84.76 573.00,84.60 573.50,84.50 574.00,84.50 574.50,84.59 575.00,84.75 575.50,84.91 576.00,85.03 576.50,85.05 577.00,84.97 577.50,84.83 578.00,84.68 578.50,84.58 579.00,84.55 579.50,84.62 580.00,84.75 580.50,84.90 581.00,85.01 581.50,85.05 582.00,85.00 582.50,84.88 583.00,84.74 583.50,84.63 584.00,84.59 584.50,84.63 585.00,84.75 585.50,84.89 586.00,85.00 586.50,85.05 587.00,85.02 587.50,84.92 588.00,84.78 588.50,84.67 589.00,84.62 589.50,84.64 590.00,84.74 590.50,84.87 591.00,84.98 591.50,85.05 592.00,85.03 592.50,84.94 593.00,84.82 593.50,84.70 594.00,84.63 594.50,84.64 595.00,84.72 595.50,84.85 596.00,84.97 596.50,85.04 597.00,85.04 597.50,84.97 598.00,84.85 598.50,84.73 599.00,84.65 599.50,84.64 600.00,84.71 600.50,84.83 601.00,84.95 601.50,85.03 602.00,85.05 602.50,84.99 603.00,84.88 603.50,84.75 604.00,84.67 604.50,84.64 605.00,84.70 605.50,84.80 606.00,84.93 606.50,85.02 607.00,85.05 607.50,85.01 608.00,84.90 608.50,84.78 609.00,84.68 609.50,84.65 610.00,84.68 610.50,84.78 611.00,84.90 611.50,85.01 612.00,85.05 612.50,85.02 613.00,84.93 613.50,84.81 614.00,84.70 614.50,84.65 615.00,84.67 615.50,84.76 616.00,84.88 616.50,84.99 617.00,85.05 617.50,85.03 618.00,84.95 618.50,84.83 619.00,84.72 619.50,84.65 620.00,84.66 620.50,84.74 621.00,84.86 621.50,84.97 622.00,85.04 622.50,85.04 623.00,84.97 623.50,84.86 624.00,84.74 624.50,84.66 625.00,84.66 625.50,84.72 626.00,84.83 626.50,84.95 627.00,85.03 627.50,85.05 628.00,84.99 628.50,84.88 629.00,84.76 629.50,84.67 630.00,84.65 630.50,84.70 631.00,84.81 631.50,84.93 632.00,85.02 632.50,85.05 633.00,85.01 633.50,84.90 634.00,84.78 634.50,84.69 635.00,84.65 635.50,84.69 636.00,84.78 636.50,84.90 637.00,85.01 637.50,85.05 638.00,85.02 638.50,84.93 639.00,84.81 639.50,84.70 640.00,84.65 640.50,84.67 641.00,84.76 641.50,84.88 642.00,84.99 642.50,85.05 643.00,85.03 643.50,84.95 644.00,84.83 644.50,84.72 645.00,84.66 645.50,84.66 646.00,84.74 646.50,84.86 647.00,84.97 647.50,85.04 648.00,85.04 648.50,84.97 649.00,84.86 649.50,84.74 650.00,84.66 650.50,84.66 651.00,84.72 651.50,84.83 652.00,84.95 652.50,85.03 653.00,85.05 653.50,84.99 654.00,84.88 654.50,84.76 655.00,84.67 655.50,84.65 656.00,84.70 656.50,84.81 657.00,84.93 657.50,85.02 658.00,85.05 658.50,85.01 659.00,84.90 659.50,84.78 660.00,84.69 660.50,84.65 661.00,84.69 661.50,84.78 662.00,84.90 662.50,85.01 663.00,85.05 663.50,85.02 664.00,84.93 664.50,84.81 665.00,84.70 665.50,84.65 666.00,84.67 666.50,84.76 667.00,84.88 667.50,84.99 668.00,85.05 668.50,85.03 669.00,84.95 669.50,84.83 670.00,84.72 670.50,84.66 671.00,84.66 671.50,84.74 672.00,84.86 672.50,84.97 673.00,85.04 673.50,85.04 674.00,84.97 674.50,84.86 675.00,84.74 675.50,84.66 676.00,84.66 676.50,84.72 677.00,84.83 677.50,84.95 678.00,85.03 678.50,85.05" fill="none" stroke="#000000" stroke-width="1.3" stroke-linejoin="round"/>
<rect x="398.80" y="4.30" width="280.50" height="85.90" fill="none" stroke="#000" stroke-width="1.3"/>
<path d="M398.80 90.20v-5.2M398.80 4.30v5.2M454.90 90.20v-5.2M454.90 4.30v5.2M511.00 90.20v-5.2M511.00 4.30v5.2M567.10 90.20v-5.2M567.10 4.30v5.2M623.20 90.20v-5.2M623.20 4.30v5.2M679.30 90.20v-5.2M679.30 4.30v5.2M426.85 90.20v-2.8M426.85 4.30v2.8M482.95 90.20v-2.8M482.95 4.30v2.8M539.05 90.20v-2.8M539.05 4.30v2.8M595.15 90.20v-2.8M595.15 4.30v2.8M651.25 90.20v-2.8M651.25 4.30v2.8M398.80 84.76h5.2M679.30 84.76h-5.2M398.80 57.94h5.2M679.30 57.94h-5.2M398.80 31.12h5.2M679.30 31.12h-5.2M398.80 4.30h5.2M679.30 4.30h-5.2M398.80 71.35h2.8M679.30 71.35h-2.8M398.80 44.53h2.8M679.30 44.53h-2.8M398.80 17.71h2.8M679.30 17.71h-2.8" stroke="#000" stroke-width="1.1" fill="none"/>
<rect x="398.80" y="4.30" width="109.20" height="19.20" fill="#fff" stroke="#222" stroke-width="1"/>
<line x1="401.0" x2="433.0" y1="14.10" y2="14.10" stroke="#282828" stroke-width="1.2"/>
<text x="436.80" y="19.30" font-size="14.5" font-weight="normal" text-anchor="start" >ACC sensor</text>
<text transform="translate(393.70 88.76) scale(0.93 1)" font-size="13.0" font-weight="bold" text-anchor="end">0.0</text>
<text transform="translate(393.70 61.94) scale(0.93 1)" font-size="13.0" font-weight="bold" text-anchor="end">0.1</text>
<text transform="translate(393.70 35.12) scale(0.93 1)" font-size="13.0" font-weight="bold" text-anchor="end">0.2</text>
<text transform="translate(393.70 8.30) scale(0.93 1)" font-size="13.0" font-weight="bold" text-anchor="end">0.3</text>
<text transform="translate(398.80 105.50) scale(0.93 1)" font-size="13.0" font-weight="bold" text-anchor="middle">0</text>
<text transform="translate(454.90 105.50) scale(0.93 1)" font-size="13.0" font-weight="bold" text-anchor="middle">2</text>
<text transform="translate(511.00 105.50) scale(0.93 1)" font-size="13.0" font-weight="bold" text-anchor="middle">4</text>
<text transform="translate(567.10 105.50) scale(0.93 1)" font-size="13.0" font-weight="bold" text-anchor="middle">6</text>
<text transform="translate(623.20 105.50) scale(0.93 1)" font-size="13.0" font-weight="bold" text-anchor="middle">8</text>
<text transform="translate(679.30 105.50) scale(0.93 1)" font-size="13.0" font-weight="bold" text-anchor="middle">10</text>
<polyline points="399.10,200.20 400.20,200.94 401.30,200.60 402.40,200.74 403.50,200.57 404.60,200.74 405.70,200.96 406.80,201.07 407.90,201.53 409.00,200.55 410.10,201.26 411.20,200.95 412.30,200.36 413.40,200.96 414.50,200.66 415.60,200.90 416.70,200.64 417.80,200.83 418.90,200.99 420.00,200.45 421.10,200.92 422.20,201.23 423.30,200.94 424.40,200.69 425.50,201.16 426.60,200.61 427.70,200.62 428.80,200.23 429.90,201.03 431.00,200.65 432.10,201.32 433.20,200.96 434.30,200.81 435.40,200.72 436.50,200.86 437.60,200.87 438.70,201.02 439.80,200.97 440.90,200.75 442.00,200.68 443.10,200.66 444.20,200.55 445.30,200.50 446.40,201.36 447.50,200.99 448.60,200.89 449.70,201.03 450.80,200.54 451.90,200.62 453.00,200.87 454.10,200.80 455.20,200.48 456.30,200.94 457.40,200.93 458.50,200.58 459.60,200.70 460.70,200.43 461.80,200.73 462.90,200.62 464.00,200.99 465.10,201.11 466.20,200.84 467.30,201.60 468.40,200.72 469.50,200.55 470.60,200.81 471.70,200.90 472.80,200.52 473.90,200.84 475.00,200.55 476.10,200.20 477.20,200.62 478.30,200.56 479.40,200.68 480.50,200.75 481.60,200.74 482.70,200.80 483.80,200.51 484.90,201.28 486.00,200.89 487.10,200.62 488.20,201.05 489.30,200.84 490.40,201.00 491.50,200.68 492.60,200.55 493.70,200.38 494.80,200.65 495.90,200.99 497.00,200.71 498.10,200.61 499.20,200.37 500.30,201.38 501.40,200.65 502.50,201.28 503.60,200.54 504.70,200.61 505.80,200.59 506.90,200.47 508.00,200.60 509.10,200.89 510.20,200.59 511.30,200.33 512.40,200.70 513.50,200.64 514.60,200.98 515.00,199.60 517.20,198.60 519.40,197.90 521.30,198.90 523.20,198.50 524.60,197.20 525.90,196.30 527.30,197.50 528.60,194.90 529.70,199.00 531.30,194.40 532.60,199.60 534.40,180.30 535.70,199.60 537.50,175.60 538.40,198.50 539.80,159.80 541.70,192.50 542.80,191.90 543.90,197.40 545.30,184.90 547.10,192.50 548.50,194.50 549.90,196.30 551.00,195.50 552.00,197.90 553.20,197.00 554.20,199.00 555.30,198.20 556.40,197.90 557.50,199.00 558.60,199.60 560.20,198.80 561.80,199.00 563.40,199.80 565.00,200.10 566.10,200.21 567.20,200.70 568.30,200.78 569.40,200.71 570.50,200.83 571.60,200.67 572.70,200.24 573.80,200.39 574.90,200.22 576.00,200.20 577.10,200.89 578.20,200.51 579.30,200.22 580.40,200.00 581.50,201.07 582.60,201.07 583.70,200.54 584.80,200.77 585.90,200.97 587.00,200.58 588.10,200.91 589.20,201.34 590.30,200.70 591.40,200.66 592.50,200.52 593.60,200.43 594.70,200.65 595.80,200.78 596.90,200.90 598.00,201.18 599.10,200.84 600.20,200.43 601.30,200.53 602.40,200.13 603.50,200.77 604.60,201.23 605.70,200.49 606.80,200.43 607.90,201.06 609.00,201.19 610.10,200.69 611.20,200.53 612.30,201.05 613.40,200.83 614.50,200.95 615.60,201.07 616.70,201.11 617.80,200.69 618.90,200.84 620.00,200.93 621.10,201.48 622.20,200.24 623.30,201.01 624.40,200.78 625.50,201.06 626.60,200.63 627.70,201.17 628.80,200.71 629.90,200.79 631.00,200.48 632.10,201.06 633.20,200.93 634.30,200.81 635.40,200.14 636.50,201.16 637.60,200.66 638.70,200.93 639.80,200.65 640.90,200.56 642.00,200.70 643.10,200.67 644.20,200.66 645.30,200.91 646.40,200.81 647.50,201.22 648.60,200.85 649.70,200.97 650.80,200.82 651.90,200.53 653.00,200.64 654.10,200.61 655.20,200.43 656.30,201.43 657.40,200.62 658.50,200.75 659.60,200.77 660.70,201.12 661.80,200.59 662.90,200.42 664.00,200.45 665.10,200.77 666.20,200.56 667.30,200.48 668.40,200.23 669.50,200.40 670.60,200.71 671.70,200.72 672.80,200.70 673.90,200.68 675.00,200.89 676.10,200.53 677.20,200.95 678.30,200.98" fill="none" stroke="#ff8000" stroke-width="1.3" stroke-linejoin="round"/>
<rect x="398.80" y="117.50" width="280.50" height="86.20" fill="none" stroke="#000" stroke-width="1.3"/>
<path d="M398.80 203.70v-5.2M398.80 117.50v5.2M454.90 203.70v-5.2M454.90 117.50v5.2M511.00 203.70v-5.2M511.00 117.50v5.2M567.10 203.70v-5.2M567.10 117.50v5.2M623.20 203.70v-5.2M623.20 117.50v5.2M679.30 203.70v-5.2M679.30 117.50v5.2M426.85 203.70v-2.8M426.85 117.50v2.8M482.95 203.70v-2.8M482.95 117.50v2.8M539.05 203.70v-2.8M539.05 117.50v2.8M595.15 203.70v-2.8M595.15 117.50v2.8M651.25 203.70v-2.8M651.25 117.50v2.8M398.80 201.05h5.2M679.30 201.05h-5.2M398.80 173.20h5.2M679.30 173.20h-5.2M398.80 145.35h5.2M679.30 145.35h-5.2M398.80 117.50h5.2M679.30 117.50h-5.2M398.80 187.13h2.8M679.30 187.13h-2.8M398.80 159.28h2.8M679.30 159.28h-2.8M398.80 131.43h2.8M679.30 131.43h-2.8" stroke="#000" stroke-width="1.1" fill="none"/>
<rect x="398.80" y="117.50" width="101.70" height="20.00" fill="#fff" stroke="#222" stroke-width="1"/>
<line x1="401.0" x2="433.0" y1="127.30" y2="127.30" stroke="#ff8a20" stroke-width="1.2"/>
<text x="436.80" y="132.50" font-size="14.5" font-weight="normal" text-anchor="start" >HONOR 9</text>
<text transform="translate(393.70 205.05) scale(0.93 1)" font-size="13.0" font-weight="bold" text-anchor="end">0.0</text>
<text transform="translate(393.70 177.20) scale(0.93 1)" font-size="13.0" font-weight="bold" text-anchor="end">0.1</text>
<text transform="translate(393.70 149.35) scale(0.93 1)" font-size="13.0" font-weight="bold" text-anchor="end">0.2</text>
<text transform="translate(393.70 121.50) scale(0.93 1)" font-size="13.0" font-weight="bold" text-anchor="end">0.3</text>
<text transform="translate(398.80 219.00) scale(0.93 1)" font-size="13.0" font-weight="bold" text-anchor="middle">0</text>
<text transform="translate(454.90 219.00) scale(0.93 1)" font-size="13.0" font-weight="bold" text-anchor="middle">2</text>
<text transform="translate(511.00 219.00) scale(0.93 1)" font-size="13.0" font-weight="bold" text-anchor="middle">4</text>
<text transform="translate(567.10 219.00) scale(0.93 1)" font-size="13.0" font-weight="bold" text-anchor="middle">6</text>
<text transform="translate(623.20 219.00) scale(0.93 1)" font-size="13.0" font-weight="bold" text-anchor="middle">8</text>
<text transform="translate(679.30 219.00) scale(0.93 1)" font-size="13.0" font-weight="bold" text-anchor="middle">10</text>
<polyline points="399.10,313.38 400.20,313.84 401.30,313.82 402.40,314.50 403.50,313.59 404.60,313.89 405.70,313.95 406.80,313.77 407.90,313.86 409.00,314.17 410.10,313.27 411.20,314.09 412.30,313.62 413.40,313.33 414.50,314.15 415.60,313.92 416.70,314.22 417.80,313.60 418.90,314.06 420.00,314.32 421.10,313.51 422.20,313.64 423.30,314.25 424.40,313.55 425.50,313.88 426.60,313.04 427.70,313.38 428.80,314.13 429.90,314.04 431.00,314.24 432.10,313.90 433.20,313.93 434.30,313.70 435.40,313.92 436.50,314.44 437.60,314.22 438.70,313.48 439.80,313.56 440.90,314.00 442.00,313.99 443.10,314.00 444.20,313.94 445.30,314.51 446.40,313.65 447.50,314.17 448.60,313.90 449.70,314.79 450.80,313.87 451.90,313.50 453.00,314.69 454.10,313.44 455.20,313.79 456.30,314.19 457.40,314.48 458.50,313.56 459.60,313.86 460.70,313.75 461.80,314.04 462.90,314.21 464.00,313.65 465.10,314.26 466.20,313.64 467.30,314.50 468.40,314.25 469.50,314.43 470.60,313.50 471.70,314.53 472.80,314.32 473.90,313.72 475.00,313.86 476.10,313.20 477.20,313.32 478.30,313.73 479.40,313.70 480.50,314.54 481.60,314.23 482.70,314.04 483.80,313.99 484.90,314.38 486.00,314.23 487.10,314.20 488.20,313.56 489.30,313.77 490.40,314.02 491.50,314.00 492.60,313.81 493.70,314.14 494.80,313.99 495.90,314.47 497.00,313.67 498.10,313.56 499.20,313.76 500.30,313.71 501.40,313.75 502.50,313.18 503.60,313.79 504.70,314.29 505.80,314.19 506.90,313.59 508.00,313.46 509.10,313.55 510.20,313.52 511.30,313.72 512.40,314.27 513.50,313.99 514.60,314.35 515.00,312.40 517.20,311.80 519.40,311.30 521.00,312.10 523.20,311.80 524.30,312.90 525.30,309.10 527.50,306.90 528.60,309.70 530.30,308.60 531.90,309.70 533.00,305.30 534.10,304.80 535.20,312.90 536.50,281.30 537.30,291.70 538.20,288.40 539.50,305.30 540.80,284.60 541.90,290.60 543.10,291.10 544.20,308.60 545.50,309.10 546.90,308.60 547.70,309.70 548.80,304.20 549.90,309.10 551.50,309.70 553.10,312.40 554.80,310.80 556.90,311.80 559.10,311.30 561.80,312.40 565.00,312.90 566.10,313.78 567.20,314.12 568.30,313.64 569.40,313.74 570.50,314.35 571.60,313.46 572.70,313.46 573.80,314.19 574.90,313.68 576.00,313.50 577.10,313.84 578.20,313.47 579.30,313.70 580.40,313.41 581.50,313.71 582.60,313.83 583.70,313.61 584.80,313.52 585.90,313.71 587.00,313.95 588.10,314.06 589.20,313.93 590.30,314.00 591.40,313.74 592.50,313.75 593.60,313.84 594.70,313.82 595.80,313.76 596.90,313.29 598.00,313.42 599.10,314.02 600.20,313.69 601.30,313.94 602.40,313.86 603.50,313.92 604.60,314.05 605.70,314.29 606.80,314.67 607.90,313.77 609.00,313.44 610.10,314.15 611.20,313.67 612.30,313.97 613.40,313.75 614.50,314.12 615.60,313.92 616.70,313.88 617.80,314.65 618.90,313.77 620.00,313.89 621.10,314.69 622.20,313.63 623.30,313.86 624.40,313.78 625.50,313.73 626.60,313.99 627.70,314.22 628.80,314.00 629.90,314.00 631.00,313.10 632.10,313.23 633.20,314.02 634.30,313.99 635.40,313.75 636.50,313.66 637.60,314.09 638.70,314.19 639.80,313.20 640.90,313.50 642.00,314.38 643.10,314.45 644.20,314.14 645.30,313.78 646.40,313.67 647.50,313.97 648.60,314.41 649.70,313.78 650.80,313.65 651.90,313.86 653.00,314.03 654.10,313.66 655.20,313.88 656.30,314.24 657.40,313.83 658.50,314.30 659.60,313.53 660.70,313.70 661.80,314.20 662.90,313.79 664.00,313.43 665.10,314.59 666.20,313.91 667.30,313.30 668.40,314.39 669.50,313.92 670.60,314.35 671.70,313.88 672.80,314.68 673.90,314.41 675.00,314.04 676.10,313.81 677.20,313.73 678.30,313.72" fill="none" stroke="#1f6be0" stroke-width="1.3" stroke-linejoin="round"/>
<rect x="398.80" y="230.50" width="280.50" height="86.70" fill="none" stroke="#000" stroke-width="1.3"/>
<path d="M398.80 317.20v-5.2M398.80 230.50v5.2M454.90 317.20v-5.2M454.90 230.50v5.2M511.00 317.20v-5.2M511.00 230.50v5.2M567.10 317.20v-5.2M567.10 230.50v5.2M623.20 317.20v-5.2M623.20 230.50v5.2M679.30 317.20v-5.2M679.30 230.50v5.2M426.85 317.20v-2.8M426.85 230.50v2.8M482.95 317.20v-2.8M482.95 230.50v2.8M539.05 317.20v-2.8M539.05 230.50v2.8M595.15 317.20v-2.8M595.15 230.50v2.8M651.25 317.20v-2.8M651.25 230.50v2.8M398.80 314.40h5.2M679.30 314.40h-5.2M398.80 286.44h5.2M679.30 286.44h-5.2M398.80 258.47h5.2M679.30 258.47h-5.2M398.80 230.50h5.2M679.30 230.50h-5.2M398.80 300.42h2.8M679.30 300.42h-2.8M398.80 272.45h2.8M679.30 272.45h-2.8M398.80 244.48h2.8M679.30 244.48h-2.8" stroke="#000" stroke-width="1.1" fill="none"/>
<rect x="398.80" y="230.50" width="98.70" height="20.00" fill="#fff" stroke="#222" stroke-width="1"/>
<line x1="401.0" x2="433.0" y1="240.30" y2="240.30" stroke="#2a72e0" stroke-width="1.2"/>
<text x="436.80" y="245.50" font-size="14.5" font-weight="normal" text-anchor="start" >HUAWEI</text>
<text transform="translate(393.70 318.40) scale(0.93 1)" font-size="13.0" font-weight="bold" text-anchor="end">0.0</text>
<text transform="translate(393.70 290.44) scale(0.93 1)" font-size="13.0" font-weight="bold" text-anchor="end">0.1</text>
<text transform="translate(393.70 262.47) scale(0.93 1)" font-size="13.0" font-weight="bold" text-anchor="end">0.2</text>
<text transform="translate(393.70 234.50) scale(0.93 1)" font-size="13.0" font-weight="bold" text-anchor="end">0.3</text>
<text transform="translate(398.80 332.50) scale(0.93 1)" font-size="13.0" font-weight="bold" text-anchor="middle">0</text>
<text transform="translate(454.90 332.50) scale(0.93 1)" font-size="13.0" font-weight="bold" text-anchor="middle">2</text>
<text transform="translate(511.00 332.50) scale(0.93 1)" font-size="13.0" font-weight="bold" text-anchor="middle">4</text>
<text transform="translate(567.10 332.50) scale(0.93 1)" font-size="13.0" font-weight="bold" text-anchor="middle">6</text>
<text transform="translate(623.20 332.50) scale(0.93 1)" font-size="13.0" font-weight="bold" text-anchor="middle">8</text>
<text transform="translate(679.30 332.50) scale(0.93 1)" font-size="13.0" font-weight="bold" text-anchor="middle">10</text>
<polyline points="399.10,426.14 400.20,426.41 401.30,426.45 402.40,427.16 403.50,426.87 404.60,425.58 405.70,425.95 406.80,426.52 407.90,426.56 409.00,426.47 410.10,427.01 411.20,426.09 412.30,427.01 413.40,426.89 414.50,426.01 415.60,427.68 416.70,426.72 417.80,427.54 418.90,427.12 420.00,426.90 421.10,427.00 422.20,426.79 423.30,427.16 424.40,426.90 425.50,427.33 426.60,427.01 427.70,427.41 428.80,426.60 429.90,427.37 431.00,426.59 432.10,427.02 433.20,426.98 434.30,426.40 435.40,426.82 436.50,427.61 437.60,426.66 438.70,428.00 439.80,426.76 440.90,427.02 442.00,427.41 443.10,426.83 444.20,426.98 445.30,426.07 446.40,427.03 447.50,426.09 448.60,426.31 449.70,427.10 450.80,427.18 451.90,426.34 453.00,426.91 454.10,426.80 455.20,426.96 456.30,427.34 457.40,427.01 458.50,427.24 459.60,427.46 460.70,426.97 461.80,426.15 462.90,426.22 464.00,426.88 465.10,426.80 466.20,426.65 467.30,426.31 468.40,426.73 469.50,427.04 470.60,427.01 471.70,426.40 472.80,425.82 473.90,427.10 475.00,427.66 476.10,426.53 477.20,426.88 478.30,426.79 479.40,426.35 480.50,426.82 481.60,427.37 482.70,427.62 483.80,426.86 484.90,427.30 486.00,426.72 487.10,427.34 488.20,426.97 489.30,427.41 490.40,426.97 491.50,427.00 492.60,426.58 493.70,426.28 494.80,426.88 495.90,427.15 497.00,426.02 498.10,426.65 499.20,426.55 500.30,426.54 501.40,426.20 502.50,426.37 503.60,426.49 504.70,426.45 505.80,427.09 506.90,426.98 508.00,426.77 509.10,426.68 510.20,426.70 511.30,426.57 512.40,426.67 513.50,426.84 514.60,427.30 515.00,423.40 517.50,424.70 520.50,425.30 522.40,422.80 523.80,424.10 525.40,422.20 526.70,425.90 528.30,417.30 529.70,420.40 531.60,426.50 533.20,418.50 534.70,413.60 536.10,417.90 537.10,413.00 538.60,377.10 539.60,417.30 540.60,394.30 542.30,421.60 544.20,417.30 545.70,422.80 547.20,420.40 548.20,424.70 550.00,419.80 551.60,422.80 553.00,421.50 554.10,422.60 555.50,425.30 557.00,424.20 558.60,423.40 560.50,426.30 562.80,425.00 565.00,425.30 566.10,426.28 567.20,426.39 568.30,426.99 569.40,426.45 570.50,426.50 571.60,426.64 572.70,427.41 573.80,427.16 574.90,426.93 576.00,426.05 577.10,427.05 578.20,426.85 579.30,427.16 580.40,426.92 581.50,426.59 582.60,427.56 583.70,427.87 584.80,426.48 585.90,426.73 587.00,426.99 588.10,426.37 589.20,426.37 590.30,427.60 591.40,426.83 592.50,426.33 593.60,427.04 594.70,426.90 595.80,426.40 596.90,426.89 598.00,427.26 599.10,427.06 600.20,427.31 601.30,426.56 602.40,427.48 603.50,426.39 604.60,427.45 605.70,426.77 606.80,427.38 607.90,426.92 609.00,426.39 610.10,426.35 611.20,426.28 612.30,426.83 613.40,426.76 614.50,426.71 615.60,426.55 616.70,426.96 617.80,426.36 618.90,426.67 620.00,426.35 621.10,426.61 622.20,426.53 623.30,427.10 624.40,426.97 625.50,427.32 626.60,426.92 627.70,426.88 628.80,426.47 629.90,427.31 631.00,425.51 632.10,426.86 633.20,426.30 634.30,426.39 635.40,427.82 636.50,426.91 637.60,426.22 638.70,427.78 639.80,426.50 640.90,427.17 642.00,427.00 643.10,426.72 644.20,427.56 645.30,426.73 646.40,427.07 647.50,427.11 648.60,426.53 649.70,425.41 650.80,426.67 651.90,426.59 653.00,426.83 654.10,427.10 655.20,426.71 656.30,426.20 657.40,426.73 658.50,426.45 659.60,426.90 660.70,425.80 661.80,427.47 662.90,426.58 664.00,426.59 665.10,426.70 666.20,427.26 667.30,427.27 668.40,426.91 669.50,426.77 670.60,427.30 671.70,427.24 672.80,426.59 673.90,426.40 675.00,427.04 676.10,427.09 677.20,427.10 678.30,425.82" fill="none" stroke="#ff0000" stroke-width="1.3" stroke-linejoin="round"/>
<rect x="398.80" y="343.60" width="280.50" height="86.50" fill="none" stroke="#000" stroke-width="1.3"/>
<path d="M398.80 430.10v-5.2M398.80 343.60v5.2M454.90 430.10v-5.2M454.90 343.60v5.2M511.00 430.10v-5.2M511.00 343.60v5.2M567.10 430.10v-5.2M567.10 343.60v5.2M623.20 430.10v-5.2M623.20 343.60v5.2M679.30 430.10v-5.2M679.30 343.60v5.2M426.85 430.10v-2.8M426.85 343.60v2.8M482.95 430.10v-2.8M482.95 343.60v2.8M539.05 430.10v-2.8M539.05 343.60v2.8M595.15 430.10v-2.8M595.15 343.60v2.8M651.25 430.10v-2.8M651.25 343.60v2.8M398.80 427.31h5.2M679.30 427.31h-5.2M398.80 399.41h5.2M679.30 399.41h-5.2M398.80 371.50h5.2M679.30 371.50h-5.2M398.80 343.60h5.2M679.30 343.60h-5.2M398.80 413.36h2.8M679.30 413.36h-2.8M398.80 385.45h2.8M679.30 385.45h-2.8M398.80 357.55h2.8M679.30 357.55h-2.8" stroke="#000" stroke-width="1.1" fill="none"/>
<rect x="398.80" y="343.60" width="100.20" height="19.90" fill="#fff" stroke="#222" stroke-width="1"/>
<line x1="401.0" x2="433.0" y1="353.40" y2="353.40" stroke="#ff1010" stroke-width="1.2"/>
<text x="436.80" y="358.60" font-size="14.5" font-weight="normal" text-anchor="start" >Xiaomi 11</text>
<text transform="translate(393.70 431.31) scale(0.93 1)" font-size="13.0" font-weight="bold" text-anchor="end">0.0</text>
<text transform="translate(393.70 403.41) scale(0.93 1)" font-size="13.0" font-weight="bold" text-anchor="end">0.1</text>
<text transform="translate(393.70 375.50) scale(0.93 1)" font-size="13.0" font-weight="bold" text-anchor="end">0.2</text>
<text transform="translate(393.70 347.60) scale(0.93 1)" font-size="13.0" font-weight="bold" text-anchor="end">0.3</text>
<text transform="translate(398.80 445.40) scale(0.93 1)" font-size="13.0" font-weight="bold" text-anchor="middle">0</text>
<text transform="translate(454.90 445.40) scale(0.93 1)" font-size="13.0" font-weight="bold" text-anchor="middle">2</text>
<text transform="translate(511.00 445.40) scale(0.93 1)" font-size="13.0" font-weight="bold" text-anchor="middle">4</text>
<text transform="translate(567.10 445.40) scale(0.93 1)" font-size="13.0" font-weight="bold" text-anchor="middle">6</text>
<text transform="translate(623.20 445.40) scale(0.93 1)" font-size="13.0" font-weight="bold" text-anchor="middle">8</text>
<text transform="translate(679.30 445.40) scale(0.93 1)" font-size="13.0" font-weight="bold" text-anchor="middle">10</text>
<text transform="translate(9.6 38.85) rotate(-90)" font-size="14.6" font-weight="bold" text-anchor="middle">ACC (g)</text>
<text transform="translate(9.6 151.20) rotate(-90)" font-size="14.6" font-weight="bold" text-anchor="middle">ACC (g)</text>
<text transform="translate(9.6 261.20) rotate(-90)" font-size="14.6" font-weight="bold" text-anchor="middle">ACC (g)</text>
<text transform="translate(9.6 377.30) rotate(-90)" font-size="14.6" font-weight="bold" text-anchor="middle">ACC (g)</text>
<text transform="translate(370.6 37.20) rotate(-90)" font-size="14.6" font-weight="bold" text-anchor="middle">ACC (g)</text>
<text transform="translate(370.6 150.20) rotate(-90)" font-size="14.6" font-weight="bold" text-anchor="middle">ACC (g)</text>
<text transform="translate(370.6 261.20) rotate(-90)" font-size="14.6" font-weight="bold" text-anchor="middle">ACC (g)</text>
<text transform="translate(370.6 376.70) rotate(-90)" font-size="14.6" font-weight="bold" text-anchor="middle">ACC (g)</text>
<text x="182.60" y="468.00" font-size="14.8" font-weight="bold" text-anchor="middle" >Time (s)</text>
<line x1="571.60" y1="17.80" x2="548.20" y2="17.72" stroke="#000" stroke-width="1.3"/>
<path d="M542.20 17.70L549.21 15.32L548.40 17.72L549.19 20.12Z" fill="#000"/>
<text x="576.00" y="22.20" font-size="14.3" font-weight="bold" text-anchor="start" >5.00 Hz</text>
<line x1="572.40" y1="151.80" x2="549.94" y2="157.04" stroke="#ff8000" stroke-width="1.3"/>
<path d="M544.10 158.40L550.37 154.47L550.14 156.99L551.46 159.15Z" fill="#ff8000"/>
<text x="574.70" y="155.10" font-size="14.3" font-weight="bold" text-anchor="start" >5.02 Hz</text>
<line x1="569.90" y1="271.80" x2="547.34" y2="277.04" stroke="#1f6be0" stroke-width="1.3"/>
<path d="M541.50 278.40L547.78 274.48L547.54 277.00L548.86 279.15Z" fill="#1f6be0"/>
<text x="571.80" y="275.40" font-size="14.3" font-weight="bold" text-anchor="start" >4.90 Hz</text>
<line x1="571.80" y1="366.50" x2="549.42" y2="372.14" stroke="#ff0000" stroke-width="1.3"/>
<path d="M543.60 373.60L549.80 369.56L549.61 372.09L550.97 374.22Z" fill="#ff0000"/>
<text x="574.30" y="370.40" font-size="14.3" font-weight="bold" text-anchor="start" >4.98 Hz</text>
<text class="cap" x="74.8" y="499.4" font-size="23.5" font-weight="normal" textLength="217.3" lengthAdjust="spacingAndGlyphs">(a) acceleration curve</text>
<text class="cap" x="412.4" y="495.8" font-size="23.5" font-weight="normal" textLength="218.3" lengthAdjust="spacingAndGlyphs">(b) spectrum analysis</text>
<text x="539.30" y="467.80" font-size="14.5" font-weight="bold" text-anchor="middle" >Frequency (Hz)</text>
</svg>
</body></html>
